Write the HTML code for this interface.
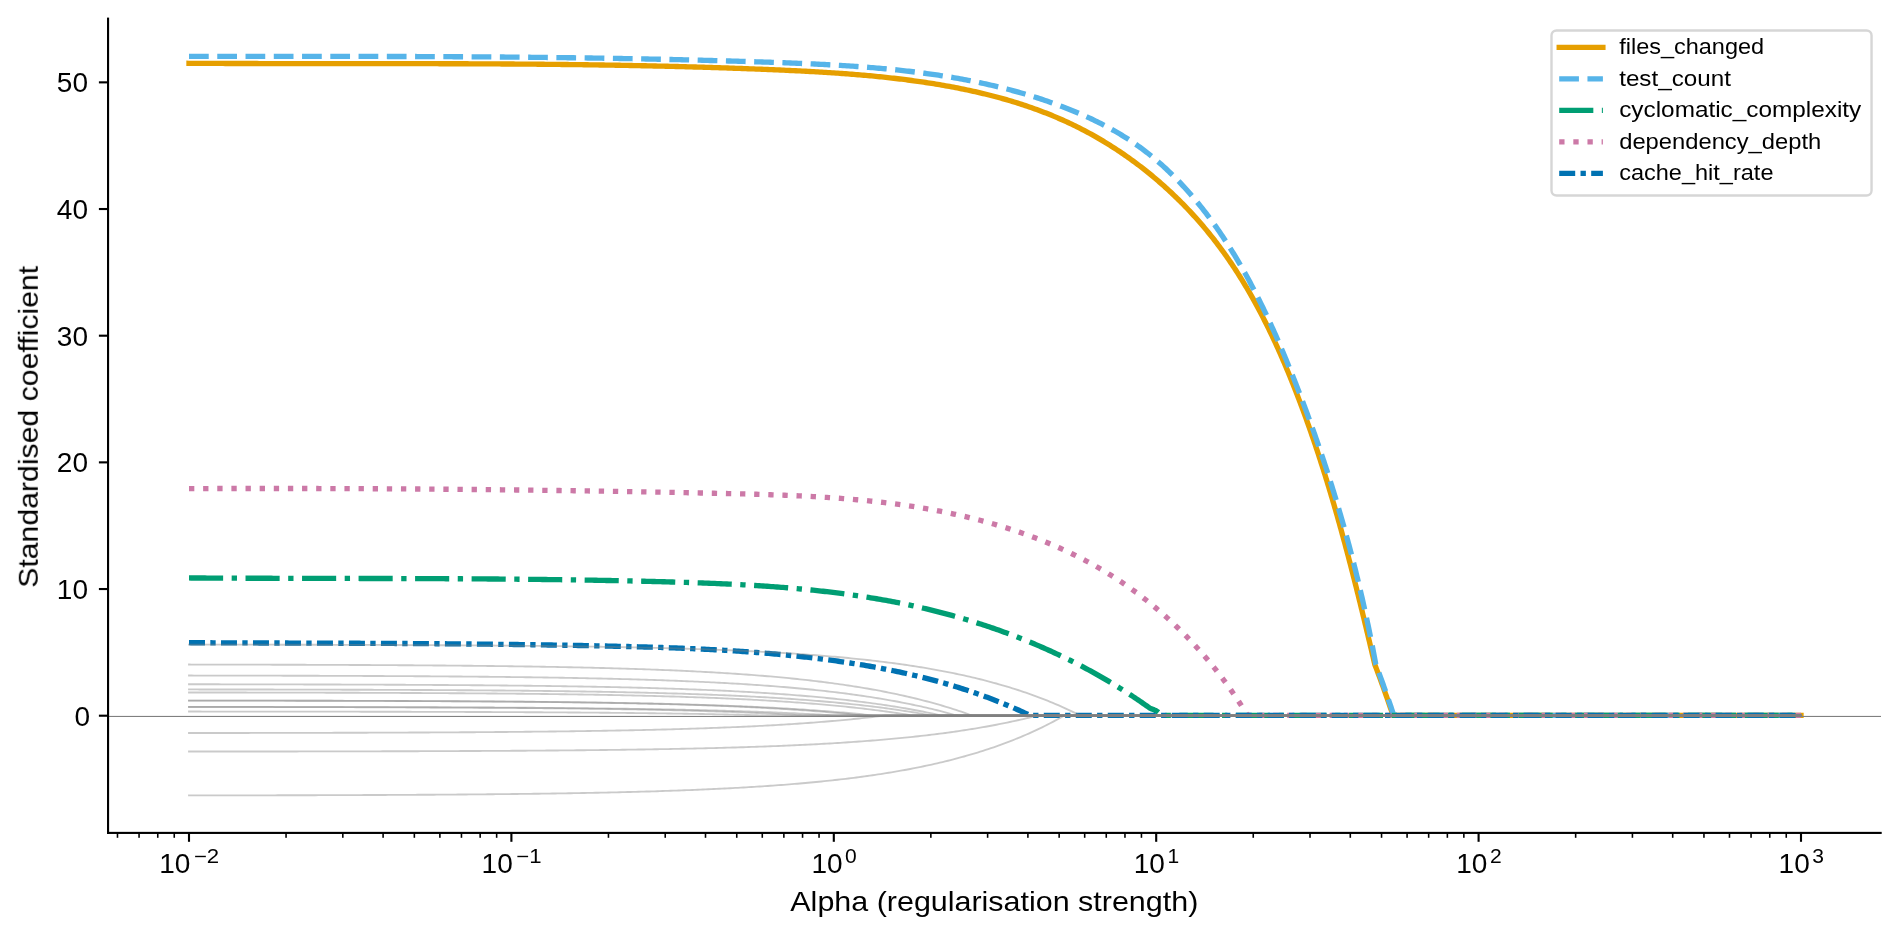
<!DOCTYPE html><html><head><meta charset="utf-8"><style>html,body{margin:0;padding:0;background:#fff;overflow:hidden;width:1900px;height:936px}svg{display:block}text{font-family:"Liberation Sans",sans-serif;fill:#000}</style></head><body>
<svg width="1900" height="936" viewBox="0 0 1900 936">
<rect width="1900" height="936" fill="#fff"/>
<path d="M189.00,63.30 L191.00,63.31 L193.01,63.32 L195.01,63.33 L197.02,63.34 L199.02,63.35 L201.03,63.36 L203.03,63.37 L205.03,63.38 L207.04,63.39 L209.04,63.40 L211.05,63.41 L213.05,63.42 L215.05,63.42 L217.06,63.43 L219.06,63.44 L221.07,63.45 L223.07,63.45 L225.07,63.46 L227.08,63.47 L229.08,63.47 L231.09,63.48 L233.09,63.49 L235.09,63.49 L237.10,63.50 L239.10,63.50 L241.11,63.51 L243.11,63.51 L245.12,63.52 L247.12,63.52 L249.12,63.53 L251.13,63.53 L253.13,63.54 L255.13,63.54 L257.14,63.54 L259.14,63.55 L261.15,63.55 L263.15,63.55 L265.15,63.56 L267.16,63.56 L269.16,63.56 L271.17,63.57 L273.17,63.57 L275.17,63.57 L277.18,63.57 L279.18,63.58 L281.19,63.58 L283.19,63.58 L285.19,63.58 L287.20,63.59 L289.20,63.59 L291.20,63.59 L293.21,63.59 L295.21,63.59 L297.22,63.59 L299.22,63.60 L301.22,63.60 L303.23,63.60 L305.23,63.60 L307.23,63.60 L309.24,63.60 L311.24,63.60 L313.25,63.60 L315.25,63.60 L317.25,63.61 L319.26,63.61 L321.26,63.61 L323.26,63.61 L325.27,63.61 L327.27,63.61 L329.28,63.61 L331.28,63.61 L333.28,63.61 L335.29,63.61 L337.29,63.61 L339.29,63.61 L341.30,63.61 L343.30,63.61 L345.30,63.61 L347.31,63.61 L349.31,63.62 L351.31,63.62 L353.32,63.62 L355.32,63.62 L357.33,63.62 L359.33,63.62 L361.33,63.62 L363.34,63.62 L365.34,63.62 L367.34,63.62 L369.35,63.62 L371.35,63.62 L373.35,63.62 L375.36,63.62 L377.36,63.63 L379.36,63.63 L381.37,63.63 L383.37,63.63 L385.37,63.63 L387.38,63.63 L389.38,63.63 L391.38,63.64 L393.39,63.64 L395.39,63.64 L397.39,63.64 L399.40,63.64 L401.40,63.64 L403.40,63.65 L405.41,63.65 L407.41,63.65 L409.41,63.65 L411.42,63.66 L413.42,63.66 L415.42,63.66 L417.43,63.66 L419.43,63.67 L421.43,63.67 L423.44,63.67 L425.44,63.68 L427.44,63.68 L429.45,63.69 L431.45,63.69 L433.45,63.69 L435.46,63.70 L437.46,63.70 L439.46,63.71 L441.47,63.71 L443.47,63.72 L445.47,63.72 L447.47,63.73 L449.48,63.73 L451.48,63.74 L453.48,63.75 L455.49,63.75 L457.49,63.76 L459.49,63.76 L461.50,63.77 L463.50,63.78 L465.50,63.79 L467.51,63.79 L469.51,63.80 L471.51,63.81 L473.51,63.82 L475.52,63.82 L477.52,63.83 L479.52,63.84 L481.53,63.85 L483.53,63.86 L485.53,63.87 L487.54,63.88 L489.54,63.89 L491.54,63.90 L493.54,63.91 L495.55,63.92 L497.55,63.93 L499.55,63.95 L501.56,63.96 L503.56,63.97 L505.56,63.98 L507.56,63.99 L509.57,64.01 L511.57,64.02 L513.57,64.03 L515.58,64.05 L517.58,64.06 L519.58,64.08 L521.58,64.09 L523.59,64.11 L525.59,64.12 L527.59,64.14 L529.60,64.15 L531.60,64.17 L533.60,64.19 L535.60,64.20 L537.61,64.22 L539.61,64.24 L541.61,64.26 L543.61,64.28 L545.62,64.30 L547.62,64.32 L549.62,64.34 L551.62,64.36 L553.63,64.38 L555.63,64.40 L557.63,64.42 L559.64,64.44 L561.64,64.46 L563.64,64.48 L565.64,64.51 L567.65,64.53 L569.65,64.55 L571.65,64.58 L573.65,64.60 L575.66,64.63 L577.66,64.65 L579.66,64.68 L581.66,64.70 L583.67,64.73 L585.67,64.76 L587.67,64.78 L589.67,64.81 L591.68,64.84 L593.68,64.87 L595.68,64.90 L597.68,64.93 L599.69,64.96 L601.69,64.99 L603.69,65.02 L605.69,65.05 L607.70,65.08 L609.70,65.12 L611.70,65.15 L613.70,65.18 L615.71,65.22 L617.71,65.25 L619.71,65.29 L621.71,65.32 L623.72,65.36 L625.72,65.40 L627.72,65.43 L629.72,65.47 L631.72,65.51 L633.73,65.55 L635.73,65.59 L637.73,65.63 L639.73,65.67 L641.74,65.71 L643.74,65.75 L645.74,65.79 L647.74,65.83 L649.75,65.87 L651.75,65.92 L653.75,65.96 L655.75,66.01 L657.75,66.05 L659.76,66.10 L661.76,66.14 L663.76,66.19 L665.76,66.24 L667.76,66.29 L669.77,66.33 L671.77,66.38 L673.77,66.43 L675.77,66.48 L677.78,66.54 L679.78,66.59 L681.78,66.64 L683.78,66.69 L685.78,66.75 L687.79,66.80 L689.79,66.85 L691.79,66.91 L693.79,66.97 L695.79,67.02 L697.80,67.08 L699.80,67.14 L701.80,67.20 L703.80,67.26 L705.80,67.32 L707.81,67.38 L709.81,67.44 L711.81,67.50 L713.81,67.56 L715.81,67.62 L717.82,67.69 L719.82,67.75 L721.82,67.82 L723.82,67.88 L725.82,67.95 L727.83,68.02 L729.83,68.09 L731.83,68.16 L733.83,68.22 L735.83,68.29 L737.83,68.37 L739.84,68.44 L741.84,68.51 L743.84,68.58 L745.84,68.66 L747.84,68.73 L749.85,68.81 L751.85,68.88 L753.85,68.96 L755.85,69.04 L757.85,69.11 L759.85,69.19 L761.86,69.27 L763.86,69.35 L765.86,69.43 L767.86,69.52 L769.86,69.60 L771.86,69.68 L773.87,69.77 L775.87,69.85 L777.87,69.94 L779.87,70.03 L781.87,70.11 L783.87,70.20 L785.88,70.29 L787.88,70.38 L789.88,70.48 L791.88,70.57 L793.88,70.67 L795.88,70.76 L797.88,70.86 L799.89,70.96 L801.89,71.06 L803.89,71.16 L805.89,71.27 L807.89,71.37 L809.89,71.48 L811.89,71.59 L813.89,71.70 L815.89,71.82 L817.89,71.93 L819.90,72.05 L821.90,72.17 L823.90,72.29 L825.90,72.41 L827.90,72.54 L829.90,72.67 L831.90,72.80 L833.90,72.93 L835.90,73.06 L837.90,73.20 L839.90,73.34 L841.90,73.48 L843.89,73.63 L845.89,73.78 L847.89,73.93 L849.89,74.08 L851.89,74.24 L853.89,74.40 L855.89,74.56 L857.89,74.72 L859.88,74.89 L861.88,75.06 L863.88,75.24 L865.88,75.42 L867.88,75.60 L869.87,75.78 L871.87,75.97 L873.87,76.16 L875.86,76.36 L877.86,76.55 L879.86,76.76 L881.85,76.96 L883.85,77.17 L885.85,77.38 L887.84,77.60 L889.84,77.82 L891.83,78.04 L893.83,78.27 L895.82,78.50 L897.82,78.74 L899.81,78.98 L901.81,79.22 L903.80,79.47 L905.80,79.73 L907.79,79.98 L909.78,80.25 L911.78,80.51 L913.77,80.78 L915.76,81.06 L917.76,81.34 L919.75,81.62 L921.74,81.91 L923.73,82.20 L925.72,82.50 L927.71,82.80 L929.71,83.11 L931.69,83.43 L933.68,83.74 L935.67,84.07 L937.66,84.40 L939.65,84.73 L941.63,85.07 L943.62,85.42 L945.60,85.77 L947.59,86.12 L949.57,86.48 L951.55,86.85 L953.53,87.22 L955.51,87.60 L957.49,87.98 L959.46,88.37 L961.44,88.77 L963.41,89.17 L965.38,89.58 L967.35,90.00 L969.32,90.42 L971.29,90.84 L973.25,91.28 L975.22,91.72 L977.18,92.16 L979.14,92.62 L981.10,93.08 L983.05,93.54 L985.01,94.02 L986.96,94.50 L988.91,94.98 L990.85,95.48 L992.80,95.98 L994.74,96.48 L996.68,97.00 L998.62,97.52 L1000.55,98.05 L1002.49,98.59 L1004.42,99.13 L1006.34,99.68 L1008.27,100.24 L1010.19,100.81 L1012.11,101.38 L1014.02,101.97 L1015.94,102.56 L1017.85,103.15 L1019.75,103.76 L1021.66,104.37 L1023.56,105.00 L1025.46,105.63 L1027.35,106.26 L1029.24,106.91 L1031.13,107.57 L1033.01,108.23 L1034.89,108.90 L1036.77,109.58 L1038.64,110.27 L1040.51,110.97 L1042.38,111.67 L1044.24,112.39 L1046.10,113.11 L1047.95,113.84 L1049.80,114.58 L1051.65,115.33 L1053.49,116.09 L1055.33,116.86 L1057.16,117.64 L1058.99,118.43 L1060.81,119.22 L1062.64,120.03 L1064.45,120.85 L1066.26,121.67 L1068.07,122.51 L1069.87,123.35 L1071.67,124.20 L1073.47,125.07 L1075.26,125.94 L1077.04,126.82 L1078.82,127.71 L1080.59,128.61 L1082.36,129.52 L1084.13,130.44 L1085.89,131.37 L1087.64,132.31 L1089.40,133.26 L1091.14,134.21 L1092.88,135.18 L1094.62,136.15 L1096.35,137.14 L1098.07,138.13 L1099.79,139.13 L1101.51,140.14 L1103.22,141.16 L1104.92,142.19 L1106.62,143.23 L1108.32,144.27 L1110.01,145.33 L1111.69,146.39 L1113.37,147.46 L1115.04,148.54 L1116.71,149.63 L1118.37,150.73 L1120.03,151.83 L1121.68,152.95 L1123.32,154.07 L1124.96,155.20 L1126.60,156.34 L1128.23,157.49 L1129.85,158.64 L1131.47,159.81 L1133.08,160.98 L1134.68,162.16 L1136.28,163.35 L1137.88,164.54 L1139.47,165.75 L1141.05,166.96 L1142.62,168.18 L1144.19,169.41 L1145.76,170.64 L1147.32,171.89 L1148.87,173.14 L1150.42,174.40 L1151.95,175.67 L1153.49,176.94 L1155.02,178.22 L1156.54,179.51 L1158.05,180.81 L1159.56,182.12 L1161.06,183.43 L1162.56,184.75 L1164.05,186.07 L1165.53,187.41 L1167.01,188.75 L1168.48,190.10 L1169.94,191.46 L1171.40,192.82 L1172.85,194.19 L1174.29,195.57 L1175.73,196.95 L1177.16,198.34 L1178.58,199.74 L1180.00,201.15 L1181.41,202.56 L1182.82,203.98 L1184.21,205.41 L1185.60,206.84 L1186.98,208.28 L1188.36,209.73 L1189.73,211.18 L1191.09,212.64 L1192.45,214.11 L1193.79,215.58 L1195.13,217.06 L1196.47,218.55 L1197.79,220.04 L1199.11,221.54 L1200.42,223.04 L1201.73,224.56 L1203.03,226.07 L1204.32,227.60 L1205.60,229.13 L1206.87,230.67 L1208.14,232.21 L1209.40,233.76 L1210.65,235.31 L1211.90,236.87 L1213.14,238.44 L1214.37,240.01 L1215.59,241.59 L1216.80,243.18 L1218.01,244.77 L1219.21,246.36 L1220.40,247.97 L1221.59,249.57 L1222.76,251.19 L1223.93,252.81 L1225.09,254.43 L1226.25,256.06 L1227.39,257.70 L1228.53,259.34 L1229.66,260.98 L1230.79,262.63 L1231.91,264.29 L1233.02,265.95 L1234.12,267.62 L1235.21,269.29 L1236.30,270.97 L1237.38,272.65 L1238.46,274.33 L1239.53,276.02 L1240.59,277.72 L1241.64,279.42 L1242.69,281.13 L1243.73,282.83 L1244.77,284.55 L1245.79,286.27 L1246.82,287.99 L1247.83,289.72 L1248.84,291.45 L1249.84,293.18 L1250.84,294.92 L1251.83,296.67 L1252.81,298.41 L1253.79,300.17 L1254.76,301.92 L1255.72,303.68 L1256.68,305.45 L1257.64,307.21 L1258.58,308.98 L1259.52,310.76 L1260.46,312.54 L1261.39,314.32 L1262.31,316.10 L1263.23,317.89 L1264.15,319.68 L1265.05,321.48 L1265.95,323.27 L1266.85,325.08 L1267.74,326.88 L1268.63,328.69 L1269.51,330.50 L1270.38,332.31 L1271.25,334.13 L1272.12,335.95 L1272.98,337.77 L1273.83,339.59 L1274.68,341.42 L1275.53,343.25 L1276.37,345.08 L1277.20,346.92 L1278.03,348.76 L1278.86,350.60 L1279.68,352.44 L1280.49,354.28 L1281.31,356.13 L1282.11,357.98 L1282.91,359.83 L1283.71,361.68 L1284.51,363.54 L1285.30,365.39 L1286.08,367.25 L1286.86,369.11 L1287.64,370.97 L1288.41,372.84 L1289.18,374.70 L1289.94,376.57 L1290.70,378.44 L1291.46,380.31 L1292.21,382.18 L1292.96,384.05 L1293.71,385.93 L1294.45,387.80 L1295.19,389.68 L1295.92,391.56 L1296.65,393.43 L1297.38,395.31 L1298.10,397.19 L1298.82,399.08 L1299.54,400.96 L1300.25,402.84 L1300.96,404.73 L1301.67,406.61 L1302.37,408.50 L1303.07,410.39 L1303.77,412.27 L1304.46,414.16 L1305.15,416.05 L1305.83,417.94 L1306.52,419.84 L1307.20,421.73 L1307.87,423.62 L1308.55,425.52 L1309.22,427.41 L1309.89,429.31 L1310.55,431.21 L1311.21,433.10 L1311.87,435.00 L1312.52,436.90 L1313.18,438.80 L1313.83,440.70 L1314.47,442.61 L1315.12,444.51 L1315.76,446.41 L1316.39,448.32 L1317.03,450.22 L1317.66,452.13 L1318.29,454.03 L1318.91,455.94 L1319.54,457.85 L1320.16,459.76 L1320.77,461.67 L1321.39,463.58 L1322.00,465.49 L1322.61,467.40 L1323.22,469.31 L1323.82,471.23 L1324.42,473.14 L1325.02,475.05 L1325.62,476.97 L1326.21,478.88 L1326.81,480.80 L1327.39,482.72 L1327.98,484.63 L1328.57,486.55 L1329.15,488.47 L1329.73,490.39 L1330.30,492.31 L1330.88,494.23 L1331.45,496.15 L1332.02,498.07 L1332.59,500.00 L1333.15,501.92 L1333.72,503.84 L1334.28,505.76 L1334.83,507.69 L1335.39,509.61 L1335.94,511.54 L1336.50,513.46 L1337.05,515.39 L1337.59,517.32 L1338.14,519.24 L1338.68,521.17 L1339.23,523.10 L1339.77,525.03 L1340.30,526.96 L1340.84,528.89 L1341.37,530.82 L1341.90,532.75 L1342.43,534.68 L1342.96,536.61 L1343.49,538.54 L1344.01,540.47 L1344.54,542.40 L1345.06,544.34 L1345.58,546.27 L1346.09,548.20 L1346.61,550.13 L1347.12,552.07 L1347.64,554.00 L1348.15,555.94 L1348.66,557.87 L1349.16,559.81 L1349.67,561.74 L1350.17,563.68 L1350.68,565.61 L1351.18,567.55 L1351.68,569.49 L1352.17,571.42 L1352.67,573.36 L1353.17,575.30 L1353.66,577.23 L1354.15,579.17 L1354.64,581.11 L1355.13,583.05 L1355.62,584.98 L1356.11,586.92 L1356.60,588.86 L1357.08,590.80 L1357.57,592.74 L1358.05,594.68 L1358.53,596.62 L1359.01,598.56 L1359.49,600.49 L1359.97,602.43 L1360.44,604.37 L1360.92,606.31 L1361.39,608.25 L1361.87,610.19 L1362.34,612.13 L1362.81,614.07 L1363.28,616.01 L1363.75,617.95 L1364.22,619.89 L1364.69,621.83 L1365.15,623.77 L1365.62,625.71 L1366.09,627.65 L1366.55,629.59 L1367.01,631.53 L1367.48,633.47 L1367.94,635.41 L1368.40,637.35 L1368.86,639.29 L1369.32,641.23 L1369.78,643.17 L1370.24,645.11 L1370.70,647.05 L1371.16,648.99 L1371.61,650.93 L1372.07,652.87 L1372.53,654.81 L1372.98,656.75 L1373.44,658.68 L1373.89,660.62 L1374.35,662.56 L1374.80,664.50 L1375.54,666.44 L1376.28,668.39 L1377.01,670.33 L1377.74,672.28 L1378.47,674.23 L1379.19,676.18 L1379.91,678.13 L1380.63,680.08 L1381.34,682.03 L1382.05,683.99 L1382.76,685.94 L1383.46,687.90 L1384.16,689.86 L1384.86,691.81 L1385.55,693.77 L1386.25,695.74 L1386.93,697.70 L1387.62,699.66 L1388.30,701.62 L1388.98,703.59 L1389.66,705.56 L1390.33,707.52 L1391.00,709.49 L1391.67,711.46 L1392.34,713.43 L1393.00,715.40 L1801.00,715.40" fill="none" stroke="#E69F00" stroke-width="5.333" stroke-linecap="square" stroke-linejoin="round"/>
<path d="M189.00,56.30 L191.01,56.30 L193.03,56.30 L195.04,56.30 L197.05,56.31 L199.06,56.31 L201.08,56.31 L203.09,56.31 L205.10,56.31 L207.11,56.31 L209.13,56.31 L211.14,56.31 L213.15,56.31 L215.16,56.31 L217.17,56.32 L219.18,56.32 L221.19,56.32 L223.20,56.32 L225.21,56.32 L227.22,56.32 L229.23,56.32 L231.24,56.32 L233.25,56.32 L235.26,56.32 L237.27,56.32 L239.28,56.32 L241.29,56.32 L243.30,56.32 L245.31,56.32 L247.32,56.32 L249.33,56.32 L251.34,56.32 L253.34,56.32 L255.35,56.33 L257.36,56.33 L259.37,56.33 L261.38,56.33 L263.38,56.33 L265.39,56.33 L267.40,56.33 L269.40,56.33 L271.41,56.33 L273.42,56.33 L275.43,56.33 L277.43,56.33 L279.44,56.33 L281.44,56.33 L283.45,56.33 L285.46,56.33 L287.46,56.33 L289.47,56.33 L291.47,56.34 L293.48,56.34 L295.49,56.34 L297.49,56.34 L299.50,56.34 L301.50,56.34 L303.51,56.34 L305.51,56.34 L307.52,56.34 L309.52,56.34 L311.52,56.35 L313.53,56.35 L315.53,56.35 L317.54,56.35 L319.54,56.35 L321.55,56.35 L323.55,56.35 L325.55,56.36 L327.56,56.36 L329.56,56.36 L331.56,56.36 L333.57,56.36 L335.57,56.37 L337.57,56.37 L339.58,56.37 L341.58,56.37 L343.58,56.37 L345.59,56.38 L347.59,56.38 L349.59,56.38 L351.59,56.39 L353.60,56.39 L355.60,56.39 L357.60,56.39 L359.60,56.40 L361.61,56.40 L363.61,56.40 L365.61,56.41 L367.61,56.41 L369.61,56.42 L371.62,56.42 L373.62,56.42 L375.62,56.43 L377.62,56.43 L379.62,56.44 L381.62,56.44 L383.62,56.45 L385.63,56.45 L387.63,56.46 L389.63,56.46 L391.63,56.47 L393.63,56.47 L395.63,56.48 L397.63,56.48 L399.63,56.49 L401.63,56.49 L403.64,56.50 L405.64,56.51 L407.64,56.51 L409.64,56.52 L411.64,56.53 L413.64,56.53 L415.64,56.54 L417.64,56.55 L419.64,56.55 L421.64,56.56 L423.64,56.57 L425.64,56.58 L427.64,56.59 L429.64,56.59 L431.64,56.60 L433.64,56.61 L435.64,56.62 L437.64,56.63 L439.64,56.64 L441.64,56.65 L443.64,56.66 L445.64,56.67 L447.64,56.68 L449.64,56.69 L451.64,56.70 L453.64,56.71 L455.64,56.72 L457.64,56.73 L459.64,56.74 L461.64,56.75 L463.64,56.76 L465.64,56.78 L467.64,56.79 L469.64,56.80 L471.64,56.81 L473.64,56.82 L475.64,56.84 L477.64,56.85 L479.64,56.86 L481.64,56.88 L483.64,56.89 L485.64,56.91 L487.64,56.92 L489.64,56.93 L491.64,56.95 L493.64,56.96 L495.64,56.98 L497.64,56.99 L499.64,57.01 L501.64,57.03 L503.64,57.04 L505.64,57.06 L507.64,57.08 L509.64,57.09 L511.64,57.11 L513.64,57.13 L515.64,57.15 L517.64,57.16 L519.64,57.18 L521.64,57.20 L523.64,57.22 L525.64,57.24 L527.64,57.26 L529.65,57.28 L531.65,57.30 L533.65,57.32 L535.65,57.34 L537.65,57.36 L539.65,57.38 L541.65,57.40 L543.65,57.42 L545.65,57.45 L547.65,57.47 L549.65,57.49 L551.65,57.51 L553.65,57.54 L555.65,57.56 L557.65,57.58 L559.65,57.61 L561.66,57.63 L563.66,57.66 L565.66,57.68 L567.66,57.71 L569.66,57.73 L571.66,57.76 L573.66,57.79 L575.66,57.81 L577.67,57.84 L579.67,57.87 L581.67,57.90 L583.67,57.92 L585.67,57.95 L587.67,57.98 L589.68,58.01 L591.68,58.04 L593.68,58.07 L595.68,58.10 L597.68,58.13 L599.69,58.16 L601.69,58.19 L603.69,58.22 L605.69,58.26 L607.70,58.29 L609.70,58.32 L611.70,58.35 L613.71,58.39 L615.71,58.42 L617.71,58.45 L619.71,58.49 L621.72,58.52 L623.72,58.56 L625.72,58.59 L627.73,58.63 L629.73,58.67 L631.74,58.70 L633.74,58.74 L635.74,58.78 L637.75,58.82 L639.75,58.85 L641.76,58.89 L643.76,58.93 L645.76,58.97 L647.77,59.01 L649.77,59.05 L651.78,59.09 L653.78,59.13 L655.79,59.17 L657.79,59.22 L659.80,59.26 L661.80,59.30 L663.81,59.34 L665.81,59.39 L667.82,59.43 L669.83,59.48 L671.83,59.52 L673.84,59.57 L675.84,59.61 L677.85,59.66 L679.86,59.70 L681.86,59.75 L683.87,59.80 L685.88,59.85 L687.88,59.89 L689.89,59.94 L691.90,59.99 L693.91,60.04 L695.91,60.09 L697.92,60.14 L699.93,60.19 L701.94,60.25 L703.95,60.30 L705.95,60.35 L707.96,60.40 L709.97,60.46 L711.98,60.51 L713.99,60.56 L716.00,60.62 L718.01,60.67 L720.02,60.73 L722.03,60.79 L724.04,60.84 L726.05,60.90 L728.06,60.96 L730.07,61.01 L732.08,61.07 L734.09,61.13 L736.10,61.19 L738.11,61.25 L740.12,61.31 L742.13,61.37 L744.14,61.43 L746.15,61.50 L748.17,61.56 L750.18,61.62 L752.19,61.68 L754.20,61.75 L756.21,61.81 L758.23,61.88 L760.24,61.94 L762.25,62.01 L764.27,62.08 L766.28,62.14 L768.29,62.21 L770.31,62.28 L772.32,62.35 L774.33,62.42 L776.35,62.49 L778.36,62.56 L780.38,62.63 L782.39,62.70 L784.41,62.78 L786.42,62.85 L788.43,62.93 L790.45,63.00 L792.46,63.08 L794.48,63.16 L796.49,63.24 L798.51,63.32 L800.52,63.41 L802.54,63.49 L804.55,63.58 L806.56,63.66 L808.58,63.75 L810.59,63.84 L812.61,63.93 L814.62,64.03 L816.63,64.12 L818.65,64.22 L820.66,64.32 L822.67,64.42 L824.69,64.52 L826.70,64.63 L828.71,64.74 L830.72,64.84 L832.73,64.96 L834.75,65.07 L836.76,65.18 L838.77,65.30 L840.78,65.42 L842.79,65.54 L844.80,65.67 L846.81,65.80 L848.81,65.93 L850.82,66.06 L852.83,66.20 L854.84,66.33 L856.85,66.47 L858.85,66.62 L860.86,66.76 L862.86,66.91 L864.87,67.07 L866.87,67.22 L868.88,67.38 L870.88,67.54 L872.88,67.70 L874.88,67.87 L876.89,68.04 L878.89,68.22 L880.89,68.39 L882.89,68.58 L884.89,68.76 L886.88,68.95 L888.88,69.14 L890.88,69.33 L892.87,69.53 L894.87,69.74 L896.86,69.94 L898.86,70.15 L900.85,70.37 L902.84,70.58 L904.83,70.81 L906.82,71.03 L908.81,71.26 L910.80,71.49 L912.79,71.73 L914.78,71.98 L916.76,72.22 L918.75,72.47 L920.73,72.73 L922.71,72.99 L924.70,73.25 L926.68,73.52 L928.66,73.79 L930.64,74.07 L932.62,74.35 L934.59,74.64 L936.57,74.93 L938.54,75.23 L940.52,75.53 L942.49,75.84 L944.46,76.15 L946.43,76.46 L948.40,76.79 L950.37,77.11 L952.34,77.44 L954.30,77.78 L956.27,78.12 L958.23,78.47 L960.19,78.82 L962.15,79.18 L964.11,79.55 L966.07,79.91 L968.03,80.29 L969.98,80.67 L971.94,81.06 L973.89,81.45 L975.84,81.85 L977.79,82.25 L979.74,82.66 L981.69,83.07 L983.63,83.49 L985.58,83.92 L987.52,84.35 L989.46,84.79 L991.40,85.24 L993.34,85.69 L995.28,86.15 L997.21,86.61 L999.15,87.08 L1001.08,87.56 L1003.01,88.04 L1004.94,88.53 L1006.87,89.03 L1008.80,89.53 L1010.72,90.04 L1012.64,90.56 L1014.56,91.09 L1016.48,91.62 L1018.40,92.15 L1020.32,92.70 L1022.23,93.25 L1024.14,93.81 L1026.06,94.37 L1027.96,94.94 L1029.87,95.52 L1031.78,96.11 L1033.68,96.70 L1035.58,97.31 L1037.48,97.91 L1039.38,98.53 L1041.28,99.15 L1043.17,99.78 L1045.06,100.42 L1046.96,101.07 L1048.84,101.72 L1050.73,102.39 L1052.62,103.06 L1054.50,103.73 L1056.38,104.42 L1058.26,105.11 L1060.14,105.81 L1062.01,106.52 L1063.88,107.24 L1065.75,107.96 L1067.62,108.70 L1069.49,109.44 L1071.35,110.19 L1073.21,110.95 L1075.07,111.72 L1076.92,112.50 L1078.77,113.28 L1080.61,114.08 L1082.46,114.88 L1084.29,115.69 L1086.13,116.52 L1087.96,117.35 L1089.78,118.19 L1091.60,119.04 L1093.42,119.90 L1095.23,120.78 L1097.03,121.66 L1098.83,122.55 L1100.63,123.45 L1102.42,124.36 L1104.20,125.28 L1105.97,126.22 L1107.74,127.16 L1109.51,128.12 L1111.26,129.08 L1113.01,130.06 L1114.76,131.05 L1116.49,132.04 L1118.22,133.05 L1119.94,134.07 L1121.66,135.11 L1123.36,136.15 L1125.06,137.21 L1126.75,138.28 L1128.43,139.36 L1130.10,140.45 L1131.77,141.55 L1133.42,142.67 L1135.07,143.80 L1136.70,144.94 L1138.33,146.09 L1139.95,147.26 L1141.56,148.43 L1143.16,149.62 L1144.75,150.83 L1146.33,152.04 L1147.90,153.27 L1149.46,154.50 L1151.02,155.75 L1152.56,157.01 L1154.10,158.28 L1155.63,159.56 L1157.14,160.85 L1158.65,162.16 L1160.16,163.47 L1161.65,164.80 L1163.13,166.13 L1164.60,167.47 L1166.07,168.83 L1167.53,170.19 L1168.98,171.57 L1170.42,172.95 L1171.85,174.34 L1173.27,175.75 L1174.69,177.16 L1176.09,178.58 L1177.49,180.01 L1178.88,181.45 L1180.26,182.90 L1181.63,184.35 L1183.00,185.82 L1184.35,187.29 L1185.70,188.77 L1187.04,190.26 L1188.37,191.76 L1189.70,193.26 L1191.01,194.77 L1192.32,196.29 L1193.62,197.82 L1194.91,199.35 L1196.20,200.90 L1197.47,202.44 L1198.74,204.00 L1200.00,205.56 L1201.25,207.13 L1202.50,208.70 L1203.74,210.29 L1204.97,211.87 L1206.19,213.47 L1207.40,215.07 L1208.61,216.67 L1209.81,218.28 L1211.00,219.90 L1212.19,221.52 L1213.36,223.14 L1214.53,224.78 L1215.69,226.41 L1216.85,228.05 L1218.00,229.70 L1219.14,231.35 L1220.27,233.01 L1221.40,234.67 L1222.52,236.34 L1223.63,238.01 L1224.74,239.68 L1225.84,241.36 L1226.93,243.04 L1228.01,244.73 L1229.09,246.42 L1230.16,248.12 L1231.23,249.82 L1232.29,251.53 L1233.34,253.24 L1234.39,254.95 L1235.43,256.67 L1236.46,258.39 L1237.49,260.11 L1238.51,261.84 L1239.53,263.58 L1240.53,265.31 L1241.54,267.05 L1242.54,268.80 L1243.53,270.55 L1244.51,272.30 L1245.49,274.05 L1246.47,275.81 L1247.43,277.57 L1248.40,279.34 L1249.35,281.11 L1250.31,282.88 L1251.25,284.65 L1252.19,286.43 L1253.13,288.21 L1254.06,290.00 L1254.98,291.78 L1255.90,293.58 L1256.82,295.37 L1257.73,297.16 L1258.63,298.96 L1259.53,300.76 L1260.43,302.57 L1261.32,304.38 L1262.21,306.18 L1263.09,308.00 L1263.96,309.81 L1264.83,311.63 L1265.70,313.45 L1266.56,315.27 L1267.42,317.09 L1268.27,318.92 L1269.12,320.75 L1269.97,322.58 L1270.81,324.41 L1271.65,326.24 L1272.48,328.08 L1273.31,329.92 L1274.13,331.76 L1274.95,333.60 L1275.77,335.44 L1276.58,337.29 L1277.39,339.13 L1278.20,340.98 L1279.00,342.83 L1279.80,344.68 L1280.59,346.53 L1281.38,348.39 L1282.17,350.24 L1282.95,352.10 L1283.73,353.96 L1284.51,355.82 L1285.29,357.68 L1286.06,359.54 L1286.83,361.40 L1287.59,363.26 L1288.35,365.13 L1289.11,366.99 L1289.87,368.86 L1290.62,370.72 L1291.37,372.59 L1292.12,374.46 L1292.87,376.32 L1293.61,378.19 L1294.35,380.06 L1295.09,381.93 L1295.82,383.80 L1296.55,385.67 L1297.28,387.54 L1298.01,389.42 L1298.74,391.29 L1299.46,393.16 L1300.18,395.03 L1300.89,396.91 L1301.61,398.78 L1302.32,400.66 L1303.03,402.53 L1303.74,404.41 L1304.44,406.28 L1305.14,408.16 L1305.84,410.04 L1306.54,411.92 L1307.23,413.79 L1307.92,415.67 L1308.61,417.55 L1309.30,419.43 L1309.98,421.32 L1310.66,423.20 L1311.34,425.08 L1312.02,426.96 L1312.69,428.84 L1313.36,430.73 L1314.03,432.61 L1314.70,434.50 L1315.36,436.38 L1316.02,438.27 L1316.68,440.16 L1317.33,442.05 L1317.99,443.93 L1318.64,445.82 L1319.28,447.71 L1319.93,449.60 L1320.57,451.49 L1321.21,453.39 L1321.85,455.28 L1322.48,457.17 L1323.12,459.06 L1323.75,460.96 L1324.37,462.85 L1325.00,464.75 L1325.62,466.65 L1326.24,468.54 L1326.86,470.44 L1327.47,472.34 L1328.09,474.24 L1328.70,476.14 L1329.30,478.04 L1329.91,479.94 L1330.51,481.84 L1331.11,483.75 L1331.70,485.65 L1332.30,487.55 L1332.89,489.46 L1333.48,491.36 L1334.07,493.27 L1334.65,495.18 L1335.23,497.09 L1335.81,499.00 L1336.39,500.90 L1336.96,502.81 L1337.53,504.73 L1338.10,506.64 L1338.67,508.55 L1339.23,510.46 L1339.79,512.38 L1340.35,514.29 L1340.91,516.21 L1341.46,518.13 L1342.01,520.04 L1342.56,521.96 L1343.11,523.88 L1343.65,525.80 L1344.19,527.72 L1344.73,529.64 L1345.27,531.57 L1345.80,533.49 L1346.33,535.41 L1346.86,537.34 L1347.39,539.26 L1347.91,541.19 L1348.43,543.12 L1348.95,545.05 L1349.46,546.98 L1349.98,548.91 L1350.49,550.84 L1351.00,552.77 L1351.50,554.70 L1352.00,556.64 L1352.50,558.57 L1353.00,560.51 L1353.50,562.44 L1353.99,564.38 L1354.48,566.32 L1354.97,568.26 L1355.46,570.20 L1355.94,572.14 L1356.42,574.08 L1356.90,576.02 L1357.37,577.97 L1357.84,579.91 L1358.31,581.86 L1358.78,583.81 L1359.25,585.75 L1359.71,587.70 L1360.17,589.65 L1360.63,591.60 L1361.08,593.55 L1361.54,595.51 L1361.99,597.46 L1362.43,599.42 L1362.88,601.37 L1363.32,603.33 L1363.76,605.28 L1364.20,607.24 L1364.63,609.20 L1365.07,611.16 L1365.50,613.13 L1365.92,615.09 L1366.35,617.05 L1366.77,619.02 L1367.19,620.98 L1367.61,622.95 L1368.03,624.92 L1368.44,626.89 L1368.85,628.86 L1369.26,630.83 L1369.66,632.80 L1370.06,634.77 L1370.46,636.75 L1370.86,638.72 L1371.26,640.70 L1371.65,642.68 L1372.04,644.65 L1372.43,646.63 L1372.81,648.61 L1373.19,650.60 L1373.57,652.58 L1373.95,654.56 L1374.33,656.55 L1374.70,658.53 L1375.07,660.52 L1375.44,662.51 L1375.80,664.50 L1376.56,666.52 L1377.32,668.54 L1378.07,670.57 L1378.82,672.59 L1379.57,674.62 L1380.31,676.65 L1381.05,678.68 L1381.79,680.71 L1382.52,682.74 L1383.25,684.77 L1383.97,686.81 L1384.70,688.84 L1385.42,690.88 L1386.13,692.91 L1386.85,694.95 L1387.55,696.99 L1388.26,699.03 L1388.96,701.08 L1389.66,703.12 L1390.36,705.16 L1391.06,707.21 L1391.75,709.26 L1392.43,711.30 L1393.12,713.35 L1393.80,715.40 L1801.00,715.40" fill="none" stroke="#56B4E9" stroke-width="5.333" stroke-dasharray="19.73 8.53" stroke-linejoin="round"/>
<path d="M189.00,577.95 L191.01,577.96 L193.02,577.97 L195.03,577.99 L197.04,578.00 L199.05,578.01 L201.06,578.02 L203.07,578.03 L205.08,578.04 L207.09,578.05 L209.10,578.06 L211.11,578.07 L213.12,578.08 L215.13,578.09 L217.14,578.10 L219.15,578.11 L221.16,578.12 L223.17,578.13 L225.18,578.14 L227.19,578.15 L229.20,578.16 L231.21,578.16 L233.22,578.17 L235.22,578.18 L237.23,578.19 L239.24,578.19 L241.25,578.20 L243.26,578.21 L245.27,578.22 L247.28,578.22 L249.28,578.23 L251.29,578.24 L253.30,578.24 L255.31,578.25 L257.32,578.25 L259.32,578.26 L261.33,578.27 L263.34,578.27 L265.35,578.28 L267.35,578.28 L269.36,578.29 L271.37,578.29 L273.38,578.30 L275.38,578.30 L277.39,578.31 L279.40,578.31 L281.41,578.32 L283.41,578.32 L285.42,578.32 L287.43,578.33 L289.43,578.33 L291.44,578.34 L293.45,578.34 L295.45,578.35 L297.46,578.35 L299.47,578.35 L301.47,578.36 L303.48,578.36 L305.49,578.36 L307.49,578.37 L309.50,578.37 L311.51,578.38 L313.51,578.38 L315.52,578.38 L317.52,578.39 L319.53,578.39 L321.54,578.39 L323.54,578.40 L325.55,578.40 L327.55,578.40 L329.56,578.41 L331.57,578.41 L333.57,578.41 L335.58,578.42 L337.58,578.42 L339.59,578.42 L341.59,578.43 L343.60,578.43 L345.60,578.43 L347.61,578.44 L349.62,578.44 L351.62,578.44 L353.63,578.45 L355.63,578.45 L357.64,578.45 L359.64,578.46 L361.65,578.46 L363.65,578.46 L365.66,578.47 L367.66,578.47 L369.67,578.48 L371.67,578.48 L373.68,578.48 L375.68,578.49 L377.69,578.49 L379.69,578.50 L381.70,578.50 L383.70,578.51 L385.71,578.51 L387.71,578.52 L389.72,578.52 L391.72,578.53 L393.73,578.53 L395.73,578.54 L397.74,578.54 L399.74,578.55 L401.75,578.55 L403.75,578.56 L405.76,578.56 L407.76,578.57 L409.77,578.58 L411.77,578.58 L413.78,578.59 L415.78,578.59 L417.79,578.60 L419.79,578.61 L421.80,578.61 L423.80,578.62 L425.81,578.63 L427.81,578.64 L429.82,578.64 L431.82,578.65 L433.83,578.66 L435.83,578.67 L437.84,578.68 L439.84,578.69 L441.85,578.69 L443.85,578.70 L445.86,578.71 L447.86,578.72 L449.86,578.73 L451.87,578.74 L453.87,578.75 L455.88,578.76 L457.88,578.77 L459.89,578.78 L461.89,578.79 L463.90,578.81 L465.90,578.82 L467.91,578.83 L469.91,578.84 L471.92,578.85 L473.92,578.87 L475.93,578.88 L477.93,578.89 L479.94,578.91 L481.94,578.92 L483.95,578.93 L485.95,578.95 L487.96,578.96 L489.97,578.98 L491.97,578.99 L493.98,579.01 L495.98,579.02 L497.99,579.04 L499.99,579.05 L502.00,579.07 L504.00,579.09 L506.01,579.11 L508.01,579.12 L510.02,579.14 L512.02,579.16 L514.03,579.18 L516.04,579.20 L518.04,579.22 L520.05,579.24 L522.05,579.26 L524.06,579.28 L526.07,579.30 L528.07,579.32 L530.08,579.34 L532.08,579.36 L534.09,579.38 L536.10,579.40 L538.10,579.43 L540.11,579.45 L542.11,579.47 L544.12,579.50 L546.13,579.52 L548.13,579.55 L550.14,579.57 L552.15,579.60 L554.15,579.62 L556.16,579.65 L558.17,579.68 L560.17,579.70 L562.18,579.73 L564.19,579.76 L566.19,579.79 L568.20,579.82 L570.21,579.85 L572.21,579.88 L574.22,579.91 L576.23,579.94 L578.24,579.97 L580.24,580.00 L582.25,580.03 L584.26,580.07 L586.27,580.10 L588.27,580.13 L590.28,580.17 L592.29,580.20 L594.30,580.24 L596.30,580.27 L598.31,580.31 L600.32,580.34 L602.33,580.38 L604.34,580.42 L606.34,580.46 L608.35,580.50 L610.36,580.53 L612.37,580.57 L614.38,580.61 L616.39,580.65 L618.40,580.70 L620.40,580.74 L622.41,580.78 L624.42,580.82 L626.43,580.86 L628.44,580.91 L630.45,580.95 L632.46,581.00 L634.47,581.04 L636.48,581.09 L638.49,581.14 L640.50,581.18 L642.51,581.23 L644.52,581.28 L646.53,581.33 L648.54,581.38 L650.55,581.43 L652.56,581.48 L654.57,581.53 L656.58,581.58 L658.59,581.63 L660.60,581.69 L662.61,581.74 L664.62,581.79 L666.63,581.85 L668.64,581.91 L670.65,581.96 L672.67,582.02 L674.68,582.08 L676.69,582.14 L678.70,582.19 L680.71,582.26 L682.72,582.32 L684.73,582.38 L686.74,582.44 L688.76,582.51 L690.77,582.57 L692.78,582.64 L694.79,582.71 L696.80,582.78 L698.81,582.85 L700.82,582.92 L702.84,582.99 L704.85,583.07 L706.86,583.14 L708.87,583.22 L710.88,583.30 L712.89,583.38 L714.90,583.46 L716.91,583.55 L718.92,583.63 L720.93,583.72 L722.94,583.81 L724.95,583.90 L726.96,583.99 L728.97,584.08 L730.98,584.18 L732.99,584.28 L735.00,584.38 L737.01,584.48 L739.01,584.58 L741.02,584.69 L743.03,584.80 L745.04,584.91 L747.05,585.02 L749.05,585.13 L751.06,585.25 L753.07,585.37 L755.07,585.49 L757.08,585.61 L759.09,585.74 L761.09,585.87 L763.10,586.00 L765.10,586.13 L767.11,586.27 L769.11,586.41 L771.11,586.55 L773.12,586.69 L775.12,586.84 L777.12,586.99 L779.13,587.14 L781.13,587.29 L783.13,587.45 L785.13,587.61 L787.13,587.77 L789.13,587.94 L791.13,588.11 L793.13,588.28 L795.13,588.46 L797.13,588.64 L799.12,588.82 L801.12,589.00 L803.12,589.19 L805.12,589.38 L807.11,589.58 L809.11,589.77 L811.10,589.98 L813.10,590.18 L815.09,590.39 L817.08,590.60 L819.08,590.81 L821.07,591.03 L823.06,591.26 L825.05,591.48 L827.04,591.71 L829.03,591.94 L831.02,592.18 L833.01,592.42 L834.99,592.67 L836.98,592.92 L838.97,593.17 L840.95,593.42 L842.94,593.68 L844.92,593.95 L846.91,594.22 L848.89,594.49 L850.87,594.77 L852.85,595.05 L854.84,595.33 L856.82,595.62 L858.80,595.91 L860.77,596.21 L862.75,596.51 L864.73,596.82 L866.71,597.13 L868.68,597.45 L870.66,597.77 L872.63,598.09 L874.60,598.42 L876.58,598.75 L878.55,599.09 L880.52,599.44 L882.49,599.78 L884.46,600.14 L886.43,600.49 L888.39,600.85 L890.36,601.22 L892.33,601.59 L894.29,601.97 L896.25,602.35 L898.22,602.74 L900.18,603.13 L902.14,603.53 L904.10,603.93 L906.06,604.34 L908.02,604.75 L909.97,605.17 L911.93,605.59 L913.89,606.02 L915.84,606.45 L917.79,606.89 L919.74,607.33 L921.69,607.78 L923.64,608.24 L925.59,608.69 L927.54,609.16 L929.49,609.63 L931.43,610.10 L933.37,610.58 L935.32,611.07 L937.26,611.56 L939.20,612.05 L941.13,612.56 L943.07,613.06 L945.01,613.57 L946.94,614.09 L948.87,614.61 L950.81,615.14 L952.74,615.68 L954.66,616.21 L956.59,616.76 L958.52,617.31 L960.44,617.86 L962.36,618.42 L964.28,618.99 L966.20,619.56 L968.12,620.14 L970.03,620.72 L971.95,621.30 L973.86,621.90 L975.77,622.50 L977.68,623.10 L979.59,623.71 L981.49,624.32 L983.40,624.94 L985.30,625.57 L987.20,626.20 L989.10,626.84 L990.99,627.48 L992.89,628.13 L994.78,628.78 L996.67,629.44 L998.56,630.11 L1000.45,630.78 L1002.33,631.45 L1004.21,632.14 L1006.09,632.82 L1007.97,633.52 L1009.85,634.21 L1011.72,634.92 L1013.60,635.63 L1015.47,636.34 L1017.33,637.07 L1019.20,637.79 L1021.06,638.53 L1022.93,639.26 L1024.78,640.01 L1026.64,640.76 L1028.50,641.51 L1030.35,642.28 L1032.20,643.04 L1034.05,643.82 L1035.89,644.59 L1037.73,645.38 L1039.57,646.17 L1041.41,646.97 L1043.25,647.77 L1045.08,648.58 L1046.91,649.39 L1048.74,650.21 L1050.57,651.03 L1052.39,651.87 L1054.21,652.70 L1056.03,653.55 L1057.84,654.39 L1059.66,655.25 L1061.47,656.11 L1063.27,656.98 L1065.08,657.85 L1066.88,658.73 L1068.68,659.61 L1070.48,660.50 L1072.27,661.40 L1074.06,662.30 L1075.85,663.21 L1077.64,664.13 L1079.42,665.05 L1081.20,665.97 L1082.98,666.91 L1084.75,667.85 L1086.52,668.79 L1088.29,669.74 L1090.05,670.70 L1091.82,671.66 L1093.58,672.63 L1095.33,673.61 L1097.08,674.59 L1098.83,675.58 L1100.58,676.57 L1102.32,677.57 L1104.07,678.57 L1105.80,679.59 L1107.54,680.61 L1109.27,681.63 L1111.00,682.66 L1112.72,683.70 L1114.44,684.74 L1116.16,685.79 L1117.87,686.85 L1119.59,687.91 L1121.29,688.98 L1123.00,690.05 L1124.70,691.13 L1126.40,692.22 L1128.09,693.31 L1129.78,694.41 L1131.47,695.52 L1133.16,696.63 L1134.84,697.75 L1136.51,698.87 L1138.19,700.00 L1139.86,701.14 L1141.52,702.29 L1143.19,703.44 L1144.84,704.59 L1146.50,705.76 L1148.15,706.92 L1149.80,708.10 L1151.21,708.68 L1152.63,709.25 L1154.05,709.83 L1155.43,710.46 L1156.75,711.16 L1158.00,711.98 L1159.14,712.94 L1160.14,714.07 L1161.00,715.40 L1801.00,715.40" fill="none" stroke="#009E73" stroke-width="5.333" stroke-dasharray="34.13 8.53 5.33 8.53" stroke-linejoin="round"/>
<path d="M189.00,488.60 L191.01,488.59 L193.03,488.59 L195.04,488.58 L197.05,488.57 L199.06,488.57 L201.07,488.56 L203.09,488.56 L205.10,488.55 L207.11,488.55 L209.12,488.54 L211.13,488.54 L213.14,488.53 L215.15,488.53 L217.17,488.52 L219.18,488.52 L221.19,488.51 L223.20,488.51 L225.21,488.51 L227.22,488.50 L229.23,488.50 L231.24,488.50 L233.25,488.49 L235.26,488.49 L237.26,488.49 L239.27,488.49 L241.28,488.48 L243.29,488.48 L245.30,488.48 L247.31,488.48 L249.32,488.48 L251.33,488.48 L253.33,488.47 L255.34,488.47 L257.35,488.47 L259.36,488.47 L261.36,488.47 L263.37,488.47 L265.38,488.47 L267.39,488.47 L269.39,488.47 L271.40,488.47 L273.41,488.47 L275.41,488.48 L277.42,488.48 L279.43,488.48 L281.43,488.48 L283.44,488.48 L285.44,488.48 L287.45,488.49 L289.46,488.49 L291.46,488.49 L293.47,488.49 L295.47,488.50 L297.48,488.50 L299.48,488.50 L301.49,488.51 L303.49,488.51 L305.50,488.51 L307.50,488.52 L309.51,488.52 L311.51,488.53 L313.52,488.53 L315.52,488.53 L317.53,488.54 L319.53,488.55 L321.54,488.55 L323.54,488.56 L325.54,488.56 L327.55,488.57 L329.55,488.57 L331.56,488.58 L333.56,488.59 L335.56,488.59 L337.57,488.60 L339.57,488.61 L341.57,488.61 L343.58,488.62 L345.58,488.63 L347.58,488.64 L349.59,488.64 L351.59,488.65 L353.59,488.66 L355.59,488.67 L357.60,488.68 L359.60,488.69 L361.60,488.70 L363.60,488.70 L365.61,488.71 L367.61,488.72 L369.61,488.73 L371.61,488.74 L373.62,488.75 L375.62,488.76 L377.62,488.77 L379.62,488.79 L381.63,488.80 L383.63,488.81 L385.63,488.82 L387.63,488.83 L389.63,488.84 L391.63,488.85 L393.64,488.87 L395.64,488.88 L397.64,488.89 L399.64,488.90 L401.64,488.92 L403.64,488.93 L405.65,488.94 L407.65,488.96 L409.65,488.97 L411.65,488.98 L413.65,489.00 L415.65,489.01 L417.65,489.03 L419.66,489.04 L421.66,489.06 L423.66,489.07 L425.66,489.09 L427.66,489.10 L429.66,489.12 L431.66,489.13 L433.67,489.15 L435.67,489.16 L437.67,489.18 L439.67,489.20 L441.67,489.21 L443.67,489.23 L445.67,489.25 L447.67,489.26 L449.67,489.28 L451.68,489.30 L453.68,489.32 L455.68,489.33 L457.68,489.35 L459.68,489.37 L461.68,489.39 L463.68,489.41 L465.68,489.43 L467.68,489.45 L469.69,489.47 L471.69,489.48 L473.69,489.50 L475.69,489.52 L477.69,489.54 L479.69,489.56 L481.69,489.58 L483.69,489.61 L485.70,489.63 L487.70,489.65 L489.70,489.67 L491.70,489.69 L493.70,489.71 L495.70,489.73 L497.70,489.75 L499.71,489.78 L501.71,489.80 L503.71,489.82 L505.71,489.84 L507.71,489.87 L509.71,489.89 L511.71,489.91 L513.72,489.94 L515.72,489.96 L517.72,489.98 L519.72,490.01 L521.72,490.03 L523.73,490.06 L525.73,490.08 L527.73,490.11 L529.73,490.13 L531.73,490.16 L533.74,490.18 L535.74,490.21 L537.74,490.23 L539.74,490.26 L541.74,490.29 L543.75,490.31 L545.75,490.34 L547.75,490.37 L549.75,490.39 L551.76,490.42 L553.76,490.45 L555.76,490.47 L557.77,490.50 L559.77,490.53 L561.77,490.56 L563.78,490.59 L565.78,490.61 L567.78,490.64 L569.79,490.67 L571.79,490.70 L573.79,490.73 L575.80,490.76 L577.80,490.79 L579.80,490.82 L581.81,490.85 L583.81,490.88 L585.81,490.91 L587.82,490.94 L589.82,490.97 L591.83,491.00 L593.83,491.03 L595.84,491.06 L597.84,491.10 L599.85,491.13 L601.85,491.16 L603.85,491.19 L605.86,491.22 L607.86,491.26 L609.87,491.29 L611.88,491.32 L613.88,491.35 L615.89,491.39 L617.89,491.42 L619.90,491.46 L621.90,491.49 L623.91,491.52 L625.92,491.56 L627.92,491.59 L629.93,491.63 L631.93,491.66 L633.94,491.70 L635.95,491.73 L637.95,491.77 L639.96,491.80 L641.97,491.84 L643.98,491.87 L645.98,491.91 L647.99,491.95 L650.00,491.98 L652.00,492.02 L654.01,492.06 L656.02,492.09 L658.03,492.13 L660.04,492.17 L662.05,492.21 L664.05,492.24 L666.06,492.28 L668.07,492.32 L670.08,492.36 L672.09,492.40 L674.10,492.44 L676.11,492.48 L678.12,492.51 L680.13,492.55 L682.14,492.59 L684.15,492.63 L686.16,492.67 L688.17,492.71 L690.18,492.75 L692.19,492.80 L694.20,492.84 L696.21,492.88 L698.22,492.92 L700.23,492.96 L702.24,493.00 L704.26,493.04 L706.27,493.08 L708.28,493.13 L710.29,493.17 L712.30,493.21 L714.32,493.25 L716.33,493.30 L718.34,493.34 L720.35,493.38 L722.37,493.43 L724.38,493.47 L726.39,493.52 L728.41,493.56 L730.42,493.61 L732.43,493.65 L734.45,493.70 L736.46,493.75 L738.48,493.80 L740.49,493.85 L742.50,493.90 L744.52,493.95 L746.53,494.00 L748.54,494.05 L750.56,494.11 L752.57,494.16 L754.59,494.22 L756.60,494.28 L758.61,494.34 L760.63,494.40 L762.64,494.46 L764.65,494.52 L766.67,494.58 L768.68,494.65 L770.69,494.72 L772.71,494.79 L774.72,494.86 L776.73,494.93 L778.74,495.00 L780.76,495.08 L782.77,495.15 L784.78,495.23 L786.79,495.31 L788.80,495.40 L790.81,495.48 L792.82,495.57 L794.83,495.66 L796.84,495.75 L798.85,495.85 L800.86,495.94 L802.87,496.04 L804.88,496.14 L806.89,496.24 L808.90,496.35 L810.91,496.46 L812.92,496.57 L814.92,496.68 L816.93,496.80 L818.94,496.92 L820.94,497.04 L822.95,497.16 L824.95,497.29 L826.96,497.42 L828.96,497.55 L830.96,497.69 L832.97,497.83 L834.97,497.97 L836.97,498.11 L838.97,498.26 L840.98,498.41 L842.98,498.57 L844.98,498.73 L846.98,498.89 L848.97,499.05 L850.97,499.22 L852.97,499.40 L854.97,499.57 L856.96,499.75 L858.96,499.93 L860.96,500.12 L862.95,500.31 L864.94,500.51 L866.94,500.70 L868.93,500.91 L870.92,501.11 L872.91,501.32 L874.90,501.54 L876.89,501.76 L878.88,501.98 L880.87,502.21 L882.86,502.44 L884.84,502.67 L886.83,502.91 L888.82,503.16 L890.80,503.41 L892.78,503.66 L894.77,503.92 L896.75,504.18 L898.73,504.45 L900.71,504.72 L902.69,505.00 L904.67,505.28 L906.64,505.56 L908.62,505.86 L910.59,506.15 L912.57,506.45 L914.54,506.76 L916.52,507.07 L918.49,507.39 L920.46,507.71 L922.43,508.04 L924.40,508.37 L926.36,508.71 L928.33,509.05 L930.30,509.40 L932.26,509.75 L934.22,510.11 L936.19,510.48 L938.15,510.85 L940.11,511.22 L942.07,511.61 L944.03,511.99 L945.98,512.39 L947.94,512.79 L949.89,513.19 L951.85,513.61 L953.80,514.02 L955.75,514.45 L957.70,514.88 L959.65,515.31 L961.59,515.76 L963.54,516.21 L965.49,516.66 L967.43,517.12 L969.37,517.59 L971.31,518.06 L973.25,518.55 L975.19,519.03 L977.13,519.53 L979.06,520.03 L981.00,520.54 L982.93,521.05 L984.86,521.57 L986.79,522.10 L988.72,522.63 L990.65,523.17 L992.57,523.72 L994.50,524.28 L996.42,524.84 L998.34,525.41 L1000.26,525.99 L1002.17,526.57 L1004.08,527.16 L1006.00,527.76 L1007.91,528.36 L1009.81,528.97 L1011.72,529.59 L1013.62,530.22 L1015.52,530.85 L1017.42,531.49 L1019.31,532.14 L1021.21,532.79 L1023.10,533.46 L1024.98,534.13 L1026.87,534.80 L1028.75,535.49 L1030.63,536.18 L1032.51,536.88 L1034.38,537.59 L1036.25,538.30 L1038.12,539.02 L1039.98,539.75 L1041.84,540.49 L1043.70,541.24 L1045.55,541.99 L1047.41,542.75 L1049.25,543.52 L1051.10,544.30 L1052.94,545.08 L1054.78,545.87 L1056.61,546.67 L1058.44,547.48 L1060.27,548.29 L1062.09,549.12 L1063.91,549.95 L1065.73,550.79 L1067.54,551.64 L1069.35,552.49 L1071.15,553.36 L1072.95,554.23 L1074.74,555.11 L1076.53,556.00 L1078.32,556.90 L1080.10,557.80 L1081.88,558.71 L1083.66,559.64 L1085.43,560.57 L1087.19,561.50 L1088.95,562.45 L1090.71,563.41 L1092.46,564.37 L1094.20,565.34 L1095.95,566.32 L1097.68,567.31 L1099.41,568.31 L1101.14,569.32 L1102.86,570.33 L1104.58,571.36 L1106.29,572.39 L1108.00,573.43 L1109.70,574.48 L1111.39,575.54 L1113.09,576.61 L1114.77,577.69 L1116.45,578.77 L1118.13,579.86 L1119.79,580.97 L1121.46,582.08 L1123.12,583.20 L1124.77,584.33 L1126.42,585.46 L1128.06,586.61 L1129.69,587.76 L1131.32,588.93 L1132.95,590.10 L1134.57,591.28 L1136.18,592.46 L1137.79,593.66 L1139.39,594.86 L1140.98,596.07 L1142.57,597.29 L1144.16,598.52 L1145.74,599.76 L1147.31,601.00 L1148.88,602.25 L1150.44,603.51 L1151.99,604.78 L1153.54,606.05 L1155.08,607.34 L1156.62,608.63 L1158.15,609.92 L1159.67,611.23 L1161.19,612.54 L1162.70,613.86 L1164.21,615.19 L1165.71,616.53 L1167.20,617.87 L1168.69,619.22 L1170.17,620.58 L1171.64,621.94 L1173.11,623.31 L1174.57,624.69 L1176.03,626.08 L1177.48,627.47 L1178.92,628.87 L1180.36,630.28 L1181.78,631.69 L1183.21,633.11 L1184.62,634.54 L1186.03,635.97 L1187.44,637.41 L1188.83,638.86 L1190.22,640.32 L1191.61,641.78 L1192.98,643.25 L1194.35,644.72 L1195.71,646.20 L1197.07,647.69 L1198.42,649.18 L1199.76,650.68 L1201.10,652.19 L1202.42,653.70 L1203.74,655.22 L1205.06,656.75 L1206.37,658.28 L1207.67,659.81 L1208.96,661.36 L1210.25,662.91 L1211.52,664.46 L1212.80,666.02 L1214.06,667.59 L1215.32,669.16 L1216.57,670.74 L1217.81,672.33 L1219.05,673.92 L1220.28,675.51 L1221.50,677.11 L1222.71,678.72 L1223.92,680.33 L1225.12,681.95 L1226.31,683.58 L1227.49,685.21 L1228.67,686.84 L1229.84,688.48 L1231.00,690.12 L1232.15,691.77 L1233.30,693.43 L1234.44,695.09 L1235.57,696.76 L1236.69,698.43 L1237.81,700.10 L1238.92,701.78 L1240.02,703.47 L1241.11,705.16 L1242.19,706.85 L1243.27,708.55 L1244.34,710.26 L1245.40,711.97 L1246.45,713.68 L1247.50,715.40 L1801.00,715.40" fill="none" stroke="#CC79A7" stroke-width="5.333" stroke-dasharray="5.33 8.8" stroke-linejoin="round"/>
<path d="M189.00,642.70 L191.01,642.71 L193.02,642.72 L195.03,642.73 L197.04,642.73 L199.04,642.74 L201.05,642.75 L203.06,642.76 L205.07,642.77 L207.08,642.78 L209.09,642.78 L211.10,642.79 L213.10,642.80 L215.11,642.81 L217.12,642.81 L219.13,642.82 L221.13,642.83 L223.14,642.84 L225.15,642.84 L227.16,642.85 L229.16,642.86 L231.17,642.87 L233.18,642.87 L235.18,642.88 L237.19,642.89 L239.20,642.89 L241.20,642.90 L243.21,642.91 L245.22,642.91 L247.22,642.92 L249.23,642.93 L251.23,642.93 L253.24,642.94 L255.25,642.95 L257.25,642.95 L259.26,642.96 L261.26,642.96 L263.27,642.97 L265.27,642.98 L267.28,642.98 L269.29,642.99 L271.29,643.00 L273.30,643.00 L275.30,643.01 L277.31,643.01 L279.31,643.02 L281.32,643.03 L283.32,643.03 L285.33,643.04 L287.33,643.04 L289.33,643.05 L291.34,643.06 L293.34,643.06 L295.35,643.07 L297.35,643.08 L299.36,643.08 L301.36,643.09 L303.37,643.09 L305.37,643.10 L307.37,643.11 L309.38,643.11 L311.38,643.12 L313.39,643.13 L315.39,643.13 L317.39,643.14 L319.40,643.15 L321.40,643.15 L323.40,643.16 L325.41,643.17 L327.41,643.17 L329.42,643.18 L331.42,643.19 L333.42,643.19 L335.43,643.20 L337.43,643.21 L339.43,643.22 L341.44,643.22 L343.44,643.23 L345.44,643.24 L347.45,643.25 L349.45,643.25 L351.45,643.26 L353.46,643.27 L355.46,643.28 L357.46,643.29 L359.47,643.29 L361.47,643.30 L363.47,643.31 L365.47,643.32 L367.48,643.33 L369.48,643.34 L371.48,643.35 L373.49,643.36 L375.49,643.36 L377.49,643.37 L379.50,643.38 L381.50,643.39 L383.50,643.40 L385.50,643.41 L387.51,643.42 L389.51,643.43 L391.51,643.44 L393.52,643.45 L395.52,643.47 L397.52,643.48 L399.53,643.49 L401.53,643.50 L403.53,643.51 L405.53,643.52 L407.54,643.53 L409.54,643.54 L411.54,643.56 L413.55,643.57 L415.55,643.58 L417.55,643.59 L419.56,643.61 L421.56,643.62 L423.56,643.63 L425.56,643.65 L427.57,643.66 L429.57,643.67 L431.57,643.69 L433.58,643.70 L435.58,643.72 L437.58,643.73 L439.59,643.75 L441.59,643.76 L443.59,643.78 L445.60,643.79 L447.60,643.81 L449.60,643.82 L451.61,643.84 L453.61,643.86 L455.61,643.87 L457.62,643.89 L459.62,643.91 L461.62,643.93 L463.63,643.94 L465.63,643.96 L467.64,643.98 L469.64,644.00 L471.64,644.02 L473.65,644.04 L475.65,644.06 L477.66,644.07 L479.66,644.09 L481.66,644.11 L483.67,644.14 L485.67,644.16 L487.68,644.18 L489.68,644.20 L491.68,644.22 L493.69,644.24 L495.69,644.26 L497.70,644.29 L499.70,644.31 L501.71,644.33 L503.71,644.36 L505.72,644.38 L507.72,644.40 L509.73,644.43 L511.73,644.45 L513.74,644.48 L515.74,644.50 L517.75,644.53 L519.75,644.55 L521.76,644.58 L523.76,644.61 L525.77,644.64 L527.78,644.66 L529.78,644.69 L531.79,644.72 L533.79,644.75 L535.80,644.78 L537.80,644.80 L539.81,644.83 L541.82,644.86 L543.82,644.89 L545.83,644.92 L547.84,644.96 L549.84,644.99 L551.85,645.02 L553.86,645.05 L555.86,645.08 L557.87,645.12 L559.88,645.15 L561.88,645.18 L563.89,645.22 L565.90,645.25 L567.91,645.29 L569.91,645.32 L571.92,645.36 L573.93,645.39 L575.94,645.43 L577.95,645.47 L579.95,645.50 L581.96,645.54 L583.97,645.58 L585.98,645.62 L587.99,645.66 L590.00,645.70 L592.01,645.74 L594.02,645.78 L596.02,645.82 L598.03,645.86 L600.04,645.90 L602.05,645.94 L604.06,645.99 L606.07,646.03 L608.08,646.07 L610.09,646.12 L612.10,646.16 L614.11,646.21 L616.12,646.25 L618.13,646.30 L620.14,646.34 L622.15,646.39 L624.16,646.44 L626.18,646.49 L628.19,646.54 L630.20,646.59 L632.21,646.64 L634.22,646.69 L636.23,646.75 L638.24,646.80 L640.25,646.85 L642.26,646.91 L644.27,646.97 L646.29,647.02 L648.30,647.08 L650.31,647.14 L652.32,647.20 L654.33,647.26 L656.34,647.33 L658.35,647.39 L660.36,647.46 L662.37,647.52 L664.38,647.59 L666.39,647.66 L668.40,647.73 L670.41,647.80 L672.43,647.87 L674.44,647.95 L676.45,648.02 L678.46,648.10 L680.47,648.18 L682.48,648.26 L684.49,648.34 L686.50,648.42 L688.50,648.51 L690.51,648.59 L692.52,648.68 L694.53,648.77 L696.54,648.86 L698.55,648.95 L700.56,649.05 L702.57,649.14 L704.57,649.24 L706.58,649.34 L708.59,649.44 L710.60,649.54 L712.61,649.65 L714.61,649.76 L716.62,649.86 L718.63,649.98 L720.63,650.09 L722.64,650.20 L724.64,650.32 L726.65,650.44 L728.65,650.56 L730.66,650.68 L732.66,650.81 L734.67,650.94 L736.67,651.07 L738.68,651.20 L740.68,651.33 L742.68,651.47 L744.69,651.61 L746.69,651.75 L748.69,651.89 L750.69,652.04 L752.69,652.19 L754.70,652.34 L756.70,652.49 L758.70,652.65 L760.70,652.80 L762.70,652.97 L764.70,653.13 L766.69,653.30 L768.69,653.46 L770.69,653.64 L772.69,653.81 L774.69,653.99 L776.68,654.17 L778.68,654.35 L780.67,654.53 L782.67,654.72 L784.66,654.91 L786.66,655.10 L788.65,655.30 L790.65,655.50 L792.64,655.70 L794.63,655.91 L796.62,656.12 L798.62,656.33 L800.61,656.54 L802.60,656.76 L804.59,656.98 L806.58,657.20 L808.56,657.43 L810.55,657.66 L812.54,657.90 L814.53,658.13 L816.51,658.37 L818.50,658.62 L820.49,658.86 L822.47,659.11 L824.46,659.37 L826.44,659.62 L828.42,659.88 L830.40,660.15 L832.39,660.42 L834.37,660.69 L836.35,660.96 L838.33,661.24 L840.30,661.52 L842.28,661.81 L844.26,662.10 L846.24,662.39 L848.21,662.69 L850.19,663.00 L852.16,663.30 L854.13,663.61 L856.11,663.93 L858.08,664.25 L860.05,664.57 L862.02,664.90 L863.99,665.23 L865.95,665.56 L867.92,665.90 L869.89,666.25 L871.85,666.60 L873.81,666.95 L875.78,667.31 L877.74,667.67 L879.70,668.04 L881.66,668.41 L883.62,668.79 L885.57,669.17 L887.53,669.56 L889.49,669.95 L891.44,670.34 L893.39,670.75 L895.34,671.15 L897.30,671.56 L899.24,671.98 L901.19,672.40 L903.14,672.83 L905.09,673.26 L907.03,673.70 L908.97,674.14 L910.91,674.59 L912.86,675.04 L914.79,675.50 L916.73,675.96 L918.67,676.43 L920.60,676.91 L922.54,677.39 L924.47,677.87 L926.40,678.36 L928.33,678.86 L930.26,679.36 L932.19,679.87 L934.11,680.39 L936.04,680.91 L937.96,681.44 L939.88,681.97 L941.80,682.51 L943.71,683.05 L945.63,683.60 L947.55,684.16 L949.46,684.72 L951.37,685.29 L953.28,685.87 L955.19,686.45 L957.09,687.04 L959.00,687.63 L960.90,688.24 L962.80,688.84 L964.70,689.46 L966.60,690.08 L968.50,690.71 L970.39,691.34 L972.29,691.98 L974.18,692.63 L976.07,693.28 L977.95,693.94 L979.84,694.61 L981.72,695.29 L983.60,695.97 L985.48,696.66 L987.36,697.35 L989.24,698.05 L991.11,698.76 L992.98,699.48 L994.85,700.21 L996.72,700.94 L998.59,701.68 L1000.45,702.42 L1002.32,703.18 L1004.18,703.94 L1006.04,704.71 L1007.89,705.48 L1009.75,706.27 L1011.60,707.06 L1013.45,707.86 L1015.30,708.66 L1017.14,709.48 L1018.99,710.30 L1020.83,711.13 L1022.67,711.97 L1024.50,712.81 L1026.34,713.67 L1028.17,714.53 L1030.00,715.40 L1801.00,715.40" fill="none" stroke="#0072B2" stroke-width="5.333" stroke-dasharray="16 5.33 5.33 5.33" stroke-linejoin="round"/>
<g fill="none" stroke="#808080" stroke-opacity="0.42" stroke-width="1.85" stroke-linecap="square">
<path d="M189.00,644.59 L191.69,644.59 L194.38,644.59 L197.07,644.59 L199.76,644.60 L202.46,644.60 L205.15,644.60 L207.84,644.60 L210.53,644.61 L213.22,644.61 L215.91,644.61 L218.60,644.62 L221.29,644.62 L223.98,644.62 L226.68,644.62 L229.37,644.63 L232.06,644.63 L234.75,644.63 L237.44,644.64 L240.13,644.64 L242.82,644.64 L245.51,644.65 L248.21,644.65 L250.90,644.66 L253.59,644.66 L256.28,644.66 L258.97,644.67 L261.66,644.67 L264.35,644.67 L267.04,644.68 L269.73,644.68 L272.43,644.69 L275.12,644.69 L277.81,644.70 L280.50,644.70 L283.19,644.70 L285.88,644.71 L288.57,644.71 L291.26,644.72 L293.95,644.72 L296.65,644.73 L299.34,644.73 L302.03,644.74 L304.72,644.74 L307.41,644.75 L310.10,644.76 L312.79,644.76 L315.48,644.77 L318.18,644.77 L320.87,644.78 L323.56,644.78 L326.25,644.79 L328.94,644.80 L331.63,644.80 L334.32,644.81 L337.01,644.82 L339.70,644.82 L342.40,644.83 L345.09,644.84 L347.78,644.84 L350.47,644.85 L353.16,644.86 L355.85,644.87 L358.54,644.88 L361.23,644.88 L363.92,644.89 L366.62,644.90 L369.31,644.91 L372.00,644.92 L374.69,644.93 L377.38,644.93 L380.07,644.94 L382.76,644.95 L385.45,644.96 L388.15,644.97 L390.84,644.98 L393.53,644.99 L396.22,645.00 L398.91,645.01 L401.60,645.02 L404.29,645.03 L406.98,645.04 L409.67,645.06 L412.37,645.07 L415.06,645.08 L417.75,645.09 L420.44,645.10 L423.13,645.12 L425.82,645.13 L428.51,645.14 L431.20,645.15 L433.89,645.17 L436.59,645.18 L439.28,645.20 L441.97,645.21 L444.66,645.22 L447.35,645.24 L450.04,645.25 L452.73,645.27 L455.42,645.28 L458.12,645.30 L460.81,645.32 L463.50,645.33 L466.19,645.35 L468.88,645.37 L471.57,645.39 L474.26,645.40 L476.95,645.42 L479.64,645.44 L482.34,645.46 L485.03,645.48 L487.72,645.50 L490.41,645.52 L493.10,645.54 L495.79,645.56 L498.48,645.58 L501.17,645.60 L503.86,645.62 L506.56,645.65 L509.25,645.67 L511.94,645.69 L514.63,645.72 L517.32,645.74 L520.01,645.77 L522.70,645.79 L525.39,645.82 L528.09,645.84 L530.78,645.87 L533.47,645.90 L536.16,645.92 L538.85,645.95 L541.54,645.98 L544.23,646.01 L546.92,646.04 L549.61,646.07 L552.31,646.10 L555.00,646.13 L557.69,646.17 L560.38,646.20 L563.07,646.23 L565.76,646.27 L568.45,646.30 L571.14,646.34 L573.83,646.38 L576.53,646.41 L579.22,646.45 L581.91,646.49 L584.60,646.53 L587.29,646.57 L589.98,646.61 L592.67,646.65 L595.36,646.69 L598.06,646.74 L600.75,646.78 L603.44,646.82 L606.13,646.87 L608.82,646.92 L611.51,646.96 L614.20,647.01 L616.89,647.06 L619.58,647.11 L622.28,647.16 L624.97,647.22 L627.66,647.27 L630.35,647.32 L633.04,647.38 L635.73,647.44 L638.42,647.49 L641.11,647.55 L643.80,647.61 L646.50,647.67 L649.19,647.74 L651.88,647.80 L654.57,647.87 L657.26,647.93 L659.95,648.00 L662.64,648.07 L665.33,648.14 L668.03,648.21 L670.72,648.28 L673.41,648.35 L676.10,648.43 L678.79,648.51 L681.48,648.59 L684.17,648.67 L686.86,648.75 L689.55,648.83 L692.25,648.91 L694.94,649.00 L697.63,649.09 L700.32,649.18 L703.01,649.27 L705.70,649.36 L708.39,649.46 L711.08,649.56 L713.77,649.65 L716.47,649.76 L719.16,649.86 L721.85,649.96 L724.54,650.07 L727.23,650.18 L729.92,650.29 L732.61,650.40 L735.30,650.52 L737.99,650.63 L740.69,650.75 L743.38,650.88 L746.07,651.00 L748.76,651.13 L751.45,651.26 L754.14,651.39 L756.83,651.52 L759.52,651.66 L762.22,651.80 L764.91,651.94 L767.60,652.09 L770.29,652.24 L772.98,652.39 L775.67,652.54 L778.36,652.70 L781.05,652.86 L783.74,653.02 L786.44,653.18 L789.13,653.35 L791.82,653.53 L794.51,653.70 L797.20,653.88 L799.89,654.06 L802.58,654.25 L805.27,654.44 L807.96,654.63 L810.66,654.83 L813.35,655.03 L816.04,655.24 L818.73,655.45 L821.42,655.66 L824.11,655.88 L826.80,656.10 L829.49,656.32 L832.19,656.55 L834.88,656.79 L837.57,657.03 L840.26,657.27 L842.95,657.52 L845.64,657.77 L848.33,658.03 L851.02,658.30 L853.71,658.56 L856.41,658.84 L859.10,659.12 L861.79,659.40 L864.48,659.69 L867.17,659.99 L869.86,660.29 L872.55,660.59 L875.24,660.91 L877.93,661.23 L880.63,661.55 L883.32,661.88 L886.01,662.22 L888.70,662.57 L891.39,662.92 L894.08,663.28 L896.77,663.64 L899.46,664.01 L902.16,664.39 L904.85,664.78 L907.54,665.17 L910.23,665.58 L912.92,665.98 L915.61,666.40 L918.30,666.83 L920.99,667.26 L923.68,667.70 L926.38,668.16 L929.07,668.62 L931.76,669.08 L934.45,669.56 L937.14,670.05 L939.83,670.55 L942.52,671.05 L945.21,671.57 L947.90,672.09 L950.60,672.63 L953.29,673.18 L955.98,673.73 L958.67,674.30 L961.36,674.88 L964.05,675.47 L966.74,676.07 L969.43,676.69 L972.13,677.31 L974.82,677.95 L977.51,678.60 L980.20,679.26 L982.89,679.94 L985.58,680.62 L988.27,681.33 L990.96,682.04 L993.65,682.77 L996.35,683.51 L999.04,684.27 L1001.73,685.04 L1004.42,685.83 L1007.11,686.63 L1009.80,687.45 L1012.49,688.29 L1015.18,689.14 L1017.87,690.00 L1020.57,690.89 L1023.26,691.79 L1025.95,692.71 L1028.64,693.64 L1031.33,694.60 L1034.02,695.57 L1036.71,696.56 L1039.40,697.57 L1042.10,698.60 L1044.79,699.65 L1047.48,700.73 L1050.17,701.82 L1052.86,702.93 L1055.55,704.06 L1058.24,705.22 L1060.93,706.40 L1063.62,707.60 L1066.32,708.83 L1069.01,710.08 L1071.70,711.35 L1074.39,712.65 L1077.08,713.97 L1079.77,715.32 L1082.46,715.40 L1085.15,715.40 L1087.84,715.40 L1090.54,715.40 L1093.23,715.40 L1095.92,715.40 L1098.61,715.40 L1101.30,715.40 L1103.99,715.40 L1106.68,715.40 L1109.37,715.40 L1112.07,715.40 L1114.76,715.40 L1117.45,715.40 L1120.14,715.40 L1122.83,715.40 L1125.52,715.40 L1128.21,715.40 L1130.90,715.40 L1133.59,715.40 L1136.29,715.40 L1138.98,715.40 L1141.67,715.40 L1144.36,715.40 L1147.05,715.40 L1149.74,715.40 L1152.43,715.40 L1155.12,715.40 L1157.81,715.40 L1160.51,715.40 L1163.20,715.40 L1165.89,715.40 L1168.58,715.40 L1171.27,715.40 L1173.96,715.40 L1176.65,715.40 L1179.34,715.40 L1182.04,715.40 L1184.73,715.40 L1187.42,715.40 L1190.11,715.40 L1192.80,715.40 L1195.49,715.40 L1198.18,715.40 L1200.87,715.40 L1203.56,715.40 L1206.26,715.40 L1208.95,715.40 L1211.64,715.40 L1214.33,715.40 L1217.02,715.40 L1219.71,715.40 L1222.40,715.40 L1225.09,715.40 L1227.78,715.40 L1230.48,715.40 L1233.17,715.40 L1235.86,715.40 L1238.55,715.40 L1241.24,715.40 L1243.93,715.40 L1246.62,715.40 L1249.31,715.40 L1252.01,715.40 L1254.70,715.40 L1257.39,715.40 L1260.08,715.40 L1262.77,715.40 L1265.46,715.40 L1268.15,715.40 L1270.84,715.40 L1273.53,715.40 L1276.23,715.40 L1278.92,715.40 L1281.61,715.40 L1284.30,715.40 L1286.99,715.40 L1289.68,715.40 L1292.37,715.40 L1295.06,715.40 L1297.75,715.40 L1300.45,715.40 L1303.14,715.40 L1305.83,715.40 L1308.52,715.40 L1311.21,715.40 L1313.90,715.40 L1316.59,715.40 L1319.28,715.40 L1321.97,715.40 L1324.67,715.40 L1327.36,715.40 L1330.05,715.40 L1332.74,715.40 L1335.43,715.40 L1338.12,715.40 L1340.81,715.40 L1343.50,715.40 L1346.20,715.40 L1348.89,715.40 L1351.58,715.40 L1354.27,715.40 L1356.96,715.40 L1359.65,715.40 L1362.34,715.40 L1365.03,715.40 L1367.72,715.40 L1370.42,715.40 L1373.11,715.40 L1375.80,715.40 L1378.49,715.40 L1381.18,715.40 L1383.87,715.40 L1386.56,715.40 L1389.25,715.40 L1391.94,715.40 L1394.64,715.40 L1397.33,715.40 L1400.02,715.40 L1402.71,715.40 L1405.40,715.40 L1408.09,715.40 L1410.78,715.40 L1413.47,715.40 L1416.17,715.40 L1418.86,715.40 L1421.55,715.40 L1424.24,715.40 L1426.93,715.40 L1429.62,715.40 L1432.31,715.40 L1435.00,715.40 L1437.69,715.40 L1440.39,715.40 L1443.08,715.40 L1445.77,715.40 L1448.46,715.40 L1451.15,715.40 L1453.84,715.40 L1456.53,715.40 L1459.22,715.40 L1461.91,715.40 L1464.61,715.40 L1467.30,715.40 L1469.99,715.40 L1472.68,715.40 L1475.37,715.40 L1478.06,715.40 L1480.75,715.40 L1483.44,715.40 L1486.14,715.40 L1488.83,715.40 L1491.52,715.40 L1494.21,715.40 L1496.90,715.40 L1499.59,715.40 L1502.28,715.40 L1504.97,715.40 L1507.66,715.40 L1510.36,715.40 L1513.05,715.40 L1515.74,715.40 L1518.43,715.40 L1521.12,715.40 L1523.81,715.40 L1526.50,715.40 L1529.19,715.40 L1531.88,715.40 L1534.58,715.40 L1537.27,715.40 L1539.96,715.40 L1542.65,715.40 L1545.34,715.40 L1548.03,715.40 L1550.72,715.40 L1553.41,715.40 L1556.11,715.40 L1558.80,715.40 L1561.49,715.40 L1564.18,715.40 L1566.87,715.40 L1569.56,715.40 L1572.25,715.40 L1574.94,715.40 L1577.63,715.40 L1580.33,715.40 L1583.02,715.40 L1585.71,715.40 L1588.40,715.40 L1591.09,715.40 L1593.78,715.40 L1596.47,715.40 L1599.16,715.40 L1601.85,715.40 L1604.55,715.40 L1607.24,715.40 L1609.93,715.40 L1612.62,715.40 L1615.31,715.40 L1618.00,715.40 L1620.69,715.40 L1623.38,715.40 L1626.08,715.40 L1628.77,715.40 L1631.46,715.40 L1634.15,715.40 L1636.84,715.40 L1639.53,715.40 L1642.22,715.40 L1644.91,715.40 L1647.60,715.40 L1650.30,715.40 L1652.99,715.40 L1655.68,715.40 L1658.37,715.40 L1661.06,715.40 L1663.75,715.40 L1666.44,715.40 L1669.13,715.40 L1671.82,715.40 L1674.52,715.40 L1677.21,715.40 L1679.90,715.40 L1682.59,715.40 L1685.28,715.40 L1687.97,715.40 L1690.66,715.40 L1693.35,715.40 L1696.05,715.40 L1698.74,715.40 L1701.43,715.40 L1704.12,715.40 L1706.81,715.40 L1709.50,715.40 L1712.19,715.40 L1714.88,715.40 L1717.57,715.40 L1720.27,715.40 L1722.96,715.40 L1725.65,715.40 L1728.34,715.40 L1731.03,715.40 L1733.72,715.40 L1736.41,715.40 L1739.10,715.40 L1741.79,715.40 L1744.49,715.40 L1747.18,715.40 L1749.87,715.40 L1752.56,715.40 L1755.25,715.40 L1757.94,715.40 L1760.63,715.40 L1763.32,715.40 L1766.02,715.40 L1768.71,715.40 L1771.40,715.40 L1774.09,715.40 L1776.78,715.40 L1779.47,715.40 L1782.16,715.40 L1784.85,715.40 L1787.54,715.40 L1790.24,715.40 L1792.93,715.40 L1795.62,715.40 L1798.31,715.40 L1801.00,715.40"/>
<path d="M189.00,664.54 L191.69,664.55 L194.38,664.55 L197.07,664.55 L199.76,664.56 L202.46,664.56 L205.15,664.57 L207.84,664.57 L210.53,664.57 L213.22,664.58 L215.91,664.58 L218.60,664.59 L221.29,664.59 L223.98,664.60 L226.68,664.60 L229.37,664.61 L232.06,664.61 L234.75,664.62 L237.44,664.62 L240.13,664.63 L242.82,664.63 L245.51,664.64 L248.21,664.64 L250.90,664.65 L253.59,664.65 L256.28,664.66 L258.97,664.67 L261.66,664.67 L264.35,664.68 L267.04,664.68 L269.73,664.69 L272.43,664.70 L275.12,664.70 L277.81,664.71 L280.50,664.72 L283.19,664.73 L285.88,664.73 L288.57,664.74 L291.26,664.75 L293.95,664.76 L296.65,664.76 L299.34,664.77 L302.03,664.78 L304.72,664.79 L307.41,664.80 L310.10,664.80 L312.79,664.81 L315.48,664.82 L318.18,664.83 L320.87,664.84 L323.56,664.85 L326.25,664.86 L328.94,664.87 L331.63,664.88 L334.32,664.89 L337.01,664.90 L339.70,664.91 L342.40,664.92 L345.09,664.93 L347.78,664.94 L350.47,664.96 L353.16,664.97 L355.85,664.98 L358.54,664.99 L361.23,665.00 L363.92,665.02 L366.62,665.03 L369.31,665.04 L372.00,665.06 L374.69,665.07 L377.38,665.08 L380.07,665.10 L382.76,665.11 L385.45,665.13 L388.15,665.14 L390.84,665.16 L393.53,665.17 L396.22,665.19 L398.91,665.20 L401.60,665.22 L404.29,665.24 L406.98,665.26 L409.67,665.27 L412.37,665.29 L415.06,665.31 L417.75,665.33 L420.44,665.35 L423.13,665.37 L425.82,665.39 L428.51,665.41 L431.20,665.43 L433.89,665.45 L436.59,665.47 L439.28,665.49 L441.97,665.51 L444.66,665.53 L447.35,665.56 L450.04,665.58 L452.73,665.60 L455.42,665.63 L458.12,665.65 L460.81,665.68 L463.50,665.70 L466.19,665.73 L468.88,665.76 L471.57,665.79 L474.26,665.81 L476.95,665.84 L479.64,665.87 L482.34,665.90 L485.03,665.93 L487.72,665.96 L490.41,665.99 L493.10,666.02 L495.79,666.06 L498.48,666.09 L501.17,666.12 L503.86,666.16 L506.56,666.19 L509.25,666.23 L511.94,666.26 L514.63,666.30 L517.32,666.34 L520.01,666.38 L522.70,666.42 L525.39,666.46 L528.09,666.50 L530.78,666.54 L533.47,666.58 L536.16,666.63 L538.85,666.67 L541.54,666.71 L544.23,666.76 L546.92,666.81 L549.61,666.85 L552.31,666.90 L555.00,666.95 L557.69,667.00 L560.38,667.05 L563.07,667.11 L565.76,667.16 L568.45,667.21 L571.14,667.27 L573.83,667.33 L576.53,667.38 L579.22,667.44 L581.91,667.50 L584.60,667.56 L587.29,667.63 L589.98,667.69 L592.67,667.76 L595.36,667.82 L598.06,667.89 L600.75,667.96 L603.44,668.03 L606.13,668.10 L608.82,668.17 L611.51,668.25 L614.20,668.32 L616.89,668.40 L619.58,668.48 L622.28,668.56 L624.97,668.64 L627.66,668.72 L630.35,668.81 L633.04,668.89 L635.73,668.98 L638.42,669.07 L641.11,669.16 L643.80,669.26 L646.50,669.35 L649.19,669.45 L651.88,669.55 L654.57,669.65 L657.26,669.75 L659.95,669.86 L662.64,669.96 L665.33,670.07 L668.03,670.18 L670.72,670.29 L673.41,670.41 L676.10,670.53 L678.79,670.65 L681.48,670.77 L684.17,670.89 L686.86,671.02 L689.55,671.15 L692.25,671.28 L694.94,671.42 L697.63,671.55 L700.32,671.69 L703.01,671.84 L705.70,671.98 L708.39,672.13 L711.08,672.28 L713.77,672.43 L716.47,672.59 L719.16,672.75 L721.85,672.91 L724.54,673.08 L727.23,673.25 L729.92,673.42 L732.61,673.60 L735.30,673.78 L737.99,673.96 L740.69,674.15 L743.38,674.34 L746.07,674.53 L748.76,674.73 L751.45,674.93 L754.14,675.14 L756.83,675.34 L759.52,675.56 L762.22,675.78 L764.91,676.00 L767.60,676.22 L770.29,676.45 L772.98,676.69 L775.67,676.93 L778.36,677.17 L781.05,677.42 L783.74,677.67 L786.44,677.93 L789.13,678.20 L791.82,678.47 L794.51,678.74 L797.20,679.02 L799.89,679.30 L802.58,679.59 L805.27,679.89 L807.96,680.19 L810.66,680.50 L813.35,680.81 L816.04,681.13 L818.73,681.46 L821.42,681.79 L824.11,682.13 L826.80,682.47 L829.49,682.82 L832.19,683.18 L834.88,683.55 L837.57,683.92 L840.26,684.30 L842.95,684.69 L845.64,685.08 L848.33,685.48 L851.02,685.89 L853.71,686.31 L856.41,686.74 L859.10,687.17 L861.79,687.61 L864.48,688.07 L867.17,688.53 L869.86,689.00 L872.55,689.47 L875.24,689.96 L877.93,690.46 L880.63,690.96 L883.32,691.48 L886.01,692.01 L888.70,692.54 L891.39,693.09 L894.08,693.65 L896.77,694.22 L899.46,694.80 L902.16,695.39 L904.85,695.99 L907.54,696.60 L910.23,697.23 L912.92,697.87 L915.61,698.52 L918.30,699.18 L920.99,699.86 L923.68,700.55 L926.38,701.25 L929.07,701.96 L931.76,702.69 L934.45,703.44 L937.14,704.20 L939.83,704.97 L942.52,705.76 L945.21,706.56 L947.90,707.38 L950.60,708.22 L953.29,709.07 L955.98,709.94 L958.67,710.82 L961.36,711.72 L964.05,712.64 L966.74,713.58 L969.43,714.53 L972.13,715.40 L974.82,715.40 L977.51,715.40 L980.20,715.40 L982.89,715.40 L985.58,715.40 L988.27,715.40 L990.96,715.40 L993.65,715.40 L996.35,715.40 L999.04,715.40 L1001.73,715.40 L1004.42,715.40 L1007.11,715.40 L1009.80,715.40 L1012.49,715.40 L1015.18,715.40 L1017.87,715.40 L1020.57,715.40 L1023.26,715.40 L1025.95,715.40 L1028.64,715.40 L1031.33,715.40 L1034.02,715.40 L1036.71,715.40 L1039.40,715.40 L1042.10,715.40 L1044.79,715.40 L1047.48,715.40 L1050.17,715.40 L1052.86,715.40 L1055.55,715.40 L1058.24,715.40 L1060.93,715.40 L1063.62,715.40 L1066.32,715.40 L1069.01,715.40 L1071.70,715.40 L1074.39,715.40 L1077.08,715.40 L1079.77,715.40 L1082.46,715.40 L1085.15,715.40 L1087.84,715.40 L1090.54,715.40 L1093.23,715.40 L1095.92,715.40 L1098.61,715.40 L1101.30,715.40 L1103.99,715.40 L1106.68,715.40 L1109.37,715.40 L1112.07,715.40 L1114.76,715.40 L1117.45,715.40 L1120.14,715.40 L1122.83,715.40 L1125.52,715.40 L1128.21,715.40 L1130.90,715.40 L1133.59,715.40 L1136.29,715.40 L1138.98,715.40 L1141.67,715.40 L1144.36,715.40 L1147.05,715.40 L1149.74,715.40 L1152.43,715.40 L1155.12,715.40 L1157.81,715.40 L1160.51,715.40 L1163.20,715.40 L1165.89,715.40 L1168.58,715.40 L1171.27,715.40 L1173.96,715.40 L1176.65,715.40 L1179.34,715.40 L1182.04,715.40 L1184.73,715.40 L1187.42,715.40 L1190.11,715.40 L1192.80,715.40 L1195.49,715.40 L1198.18,715.40 L1200.87,715.40 L1203.56,715.40 L1206.26,715.40 L1208.95,715.40 L1211.64,715.40 L1214.33,715.40 L1217.02,715.40 L1219.71,715.40 L1222.40,715.40 L1225.09,715.40 L1227.78,715.40 L1230.48,715.40 L1233.17,715.40 L1235.86,715.40 L1238.55,715.40 L1241.24,715.40 L1243.93,715.40 L1246.62,715.40 L1249.31,715.40 L1252.01,715.40 L1254.70,715.40 L1257.39,715.40 L1260.08,715.40 L1262.77,715.40 L1265.46,715.40 L1268.15,715.40 L1270.84,715.40 L1273.53,715.40 L1276.23,715.40 L1278.92,715.40 L1281.61,715.40 L1284.30,715.40 L1286.99,715.40 L1289.68,715.40 L1292.37,715.40 L1295.06,715.40 L1297.75,715.40 L1300.45,715.40 L1303.14,715.40 L1305.83,715.40 L1308.52,715.40 L1311.21,715.40 L1313.90,715.40 L1316.59,715.40 L1319.28,715.40 L1321.97,715.40 L1324.67,715.40 L1327.36,715.40 L1330.05,715.40 L1332.74,715.40 L1335.43,715.40 L1338.12,715.40 L1340.81,715.40 L1343.50,715.40 L1346.20,715.40 L1348.89,715.40 L1351.58,715.40 L1354.27,715.40 L1356.96,715.40 L1359.65,715.40 L1362.34,715.40 L1365.03,715.40 L1367.72,715.40 L1370.42,715.40 L1373.11,715.40 L1375.80,715.40 L1378.49,715.40 L1381.18,715.40 L1383.87,715.40 L1386.56,715.40 L1389.25,715.40 L1391.94,715.40 L1394.64,715.40 L1397.33,715.40 L1400.02,715.40 L1402.71,715.40 L1405.40,715.40 L1408.09,715.40 L1410.78,715.40 L1413.47,715.40 L1416.17,715.40 L1418.86,715.40 L1421.55,715.40 L1424.24,715.40 L1426.93,715.40 L1429.62,715.40 L1432.31,715.40 L1435.00,715.40 L1437.69,715.40 L1440.39,715.40 L1443.08,715.40 L1445.77,715.40 L1448.46,715.40 L1451.15,715.40 L1453.84,715.40 L1456.53,715.40 L1459.22,715.40 L1461.91,715.40 L1464.61,715.40 L1467.30,715.40 L1469.99,715.40 L1472.68,715.40 L1475.37,715.40 L1478.06,715.40 L1480.75,715.40 L1483.44,715.40 L1486.14,715.40 L1488.83,715.40 L1491.52,715.40 L1494.21,715.40 L1496.90,715.40 L1499.59,715.40 L1502.28,715.40 L1504.97,715.40 L1507.66,715.40 L1510.36,715.40 L1513.05,715.40 L1515.74,715.40 L1518.43,715.40 L1521.12,715.40 L1523.81,715.40 L1526.50,715.40 L1529.19,715.40 L1531.88,715.40 L1534.58,715.40 L1537.27,715.40 L1539.96,715.40 L1542.65,715.40 L1545.34,715.40 L1548.03,715.40 L1550.72,715.40 L1553.41,715.40 L1556.11,715.40 L1558.80,715.40 L1561.49,715.40 L1564.18,715.40 L1566.87,715.40 L1569.56,715.40 L1572.25,715.40 L1574.94,715.40 L1577.63,715.40 L1580.33,715.40 L1583.02,715.40 L1585.71,715.40 L1588.40,715.40 L1591.09,715.40 L1593.78,715.40 L1596.47,715.40 L1599.16,715.40 L1601.85,715.40 L1604.55,715.40 L1607.24,715.40 L1609.93,715.40 L1612.62,715.40 L1615.31,715.40 L1618.00,715.40 L1620.69,715.40 L1623.38,715.40 L1626.08,715.40 L1628.77,715.40 L1631.46,715.40 L1634.15,715.40 L1636.84,715.40 L1639.53,715.40 L1642.22,715.40 L1644.91,715.40 L1647.60,715.40 L1650.30,715.40 L1652.99,715.40 L1655.68,715.40 L1658.37,715.40 L1661.06,715.40 L1663.75,715.40 L1666.44,715.40 L1669.13,715.40 L1671.82,715.40 L1674.52,715.40 L1677.21,715.40 L1679.90,715.40 L1682.59,715.40 L1685.28,715.40 L1687.97,715.40 L1690.66,715.40 L1693.35,715.40 L1696.05,715.40 L1698.74,715.40 L1701.43,715.40 L1704.12,715.40 L1706.81,715.40 L1709.50,715.40 L1712.19,715.40 L1714.88,715.40 L1717.57,715.40 L1720.27,715.40 L1722.96,715.40 L1725.65,715.40 L1728.34,715.40 L1731.03,715.40 L1733.72,715.40 L1736.41,715.40 L1739.10,715.40 L1741.79,715.40 L1744.49,715.40 L1747.18,715.40 L1749.87,715.40 L1752.56,715.40 L1755.25,715.40 L1757.94,715.40 L1760.63,715.40 L1763.32,715.40 L1766.02,715.40 L1768.71,715.40 L1771.40,715.40 L1774.09,715.40 L1776.78,715.40 L1779.47,715.40 L1782.16,715.40 L1784.85,715.40 L1787.54,715.40 L1790.24,715.40 L1792.93,715.40 L1795.62,715.40 L1798.31,715.40 L1801.00,715.40"/>
<path d="M189.00,675.54 L191.69,675.54 L194.38,675.55 L197.07,675.55 L199.76,675.55 L202.46,675.56 L205.15,675.56 L207.84,675.56 L210.53,675.57 L213.22,675.57 L215.91,675.57 L218.60,675.58 L221.29,675.58 L223.98,675.59 L226.68,675.59 L229.37,675.59 L232.06,675.60 L234.75,675.60 L237.44,675.61 L240.13,675.61 L242.82,675.62 L245.51,675.62 L248.21,675.63 L250.90,675.63 L253.59,675.64 L256.28,675.64 L258.97,675.65 L261.66,675.65 L264.35,675.66 L267.04,675.66 L269.73,675.67 L272.43,675.67 L275.12,675.68 L277.81,675.69 L280.50,675.69 L283.19,675.70 L285.88,675.71 L288.57,675.71 L291.26,675.72 L293.95,675.73 L296.65,675.73 L299.34,675.74 L302.03,675.75 L304.72,675.75 L307.41,675.76 L310.10,675.77 L312.79,675.78 L315.48,675.78 L318.18,675.79 L320.87,675.80 L323.56,675.81 L326.25,675.82 L328.94,675.83 L331.63,675.83 L334.32,675.84 L337.01,675.85 L339.70,675.86 L342.40,675.87 L345.09,675.88 L347.78,675.89 L350.47,675.90 L353.16,675.91 L355.85,675.92 L358.54,675.93 L361.23,675.94 L363.92,675.95 L366.62,675.97 L369.31,675.98 L372.00,675.99 L374.69,676.00 L377.38,676.01 L380.07,676.03 L382.76,676.04 L385.45,676.05 L388.15,676.06 L390.84,676.08 L393.53,676.09 L396.22,676.10 L398.91,676.12 L401.60,676.13 L404.29,676.15 L406.98,676.16 L409.67,676.18 L412.37,676.19 L415.06,676.21 L417.75,676.23 L420.44,676.24 L423.13,676.26 L425.82,676.28 L428.51,676.29 L431.20,676.31 L433.89,676.33 L436.59,676.35 L439.28,676.37 L441.97,676.39 L444.66,676.41 L447.35,676.43 L450.04,676.45 L452.73,676.47 L455.42,676.49 L458.12,676.51 L460.81,676.53 L463.50,676.56 L466.19,676.58 L468.88,676.60 L471.57,676.63 L474.26,676.65 L476.95,676.68 L479.64,676.70 L482.34,676.73 L485.03,676.75 L487.72,676.78 L490.41,676.81 L493.10,676.84 L495.79,676.86 L498.48,676.89 L501.17,676.92 L503.86,676.95 L506.56,676.98 L509.25,677.01 L511.94,677.05 L514.63,677.08 L517.32,677.11 L520.01,677.15 L522.70,677.18 L525.39,677.22 L528.09,677.25 L530.78,677.29 L533.47,677.32 L536.16,677.36 L538.85,677.40 L541.54,677.44 L544.23,677.48 L546.92,677.52 L549.61,677.56 L552.31,677.61 L555.00,677.65 L557.69,677.69 L560.38,677.74 L563.07,677.78 L565.76,677.83 L568.45,677.88 L571.14,677.93 L573.83,677.98 L576.53,678.03 L579.22,678.08 L581.91,678.13 L584.60,678.19 L587.29,678.24 L589.98,678.30 L592.67,678.35 L595.36,678.41 L598.06,678.47 L600.75,678.53 L603.44,678.59 L606.13,678.65 L608.82,678.72 L611.51,678.78 L614.20,678.85 L616.89,678.92 L619.58,678.98 L622.28,679.05 L624.97,679.13 L627.66,679.20 L630.35,679.27 L633.04,679.35 L635.73,679.43 L638.42,679.50 L641.11,679.58 L643.80,679.67 L646.50,679.75 L649.19,679.83 L651.88,679.92 L654.57,680.01 L657.26,680.10 L659.95,680.19 L662.64,680.28 L665.33,680.38 L668.03,680.48 L670.72,680.58 L673.41,680.68 L676.10,680.78 L678.79,680.88 L681.48,680.99 L684.17,681.10 L686.86,681.21 L689.55,681.33 L692.25,681.44 L694.94,681.56 L697.63,681.68 L700.32,681.80 L703.01,681.93 L705.70,682.05 L708.39,682.18 L711.08,682.31 L713.77,682.45 L716.47,682.59 L719.16,682.73 L721.85,682.87 L724.54,683.02 L727.23,683.16 L729.92,683.31 L732.61,683.47 L735.30,683.63 L737.99,683.79 L740.69,683.95 L743.38,684.12 L746.07,684.29 L748.76,684.46 L751.45,684.63 L754.14,684.81 L756.83,685.00 L759.52,685.18 L762.22,685.37 L764.91,685.57 L767.60,685.77 L770.29,685.97 L772.98,686.17 L775.67,686.38 L778.36,686.60 L781.05,686.82 L783.74,687.04 L786.44,687.26 L789.13,687.49 L791.82,687.73 L794.51,687.97 L797.20,688.21 L799.89,688.46 L802.58,688.72 L805.27,688.98 L807.96,689.24 L810.66,689.51 L813.35,689.78 L816.04,690.06 L818.73,690.35 L821.42,690.64 L824.11,690.94 L826.80,691.24 L829.49,691.55 L832.19,691.86 L834.88,692.18 L837.57,692.51 L840.26,692.84 L842.95,693.18 L845.64,693.52 L848.33,693.87 L851.02,694.23 L853.71,694.60 L856.41,694.97 L859.10,695.35 L861.79,695.74 L864.48,696.14 L867.17,696.54 L869.86,696.95 L872.55,697.37 L875.24,697.80 L877.93,698.23 L880.63,698.67 L883.32,699.13 L886.01,699.59 L888.70,700.06 L891.39,700.54 L894.08,701.02 L896.77,701.52 L899.46,702.03 L902.16,702.55 L904.85,703.07 L907.54,703.61 L910.23,704.16 L912.92,704.72 L915.61,705.29 L918.30,705.87 L920.99,706.46 L923.68,707.06 L926.38,707.68 L929.07,708.31 L931.76,708.95 L934.45,709.60 L937.14,710.26 L939.83,710.94 L942.52,711.63 L945.21,712.33 L947.90,713.05 L950.60,713.78 L953.29,714.53 L955.98,715.29 L958.67,715.40 L961.36,715.40 L964.05,715.40 L966.74,715.40 L969.43,715.40 L972.13,715.40 L974.82,715.40 L977.51,715.40 L980.20,715.40 L982.89,715.40 L985.58,715.40 L988.27,715.40 L990.96,715.40 L993.65,715.40 L996.35,715.40 L999.04,715.40 L1001.73,715.40 L1004.42,715.40 L1007.11,715.40 L1009.80,715.40 L1012.49,715.40 L1015.18,715.40 L1017.87,715.40 L1020.57,715.40 L1023.26,715.40 L1025.95,715.40 L1028.64,715.40 L1031.33,715.40 L1034.02,715.40 L1036.71,715.40 L1039.40,715.40 L1042.10,715.40 L1044.79,715.40 L1047.48,715.40 L1050.17,715.40 L1052.86,715.40 L1055.55,715.40 L1058.24,715.40 L1060.93,715.40 L1063.62,715.40 L1066.32,715.40 L1069.01,715.40 L1071.70,715.40 L1074.39,715.40 L1077.08,715.40 L1079.77,715.40 L1082.46,715.40 L1085.15,715.40 L1087.84,715.40 L1090.54,715.40 L1093.23,715.40 L1095.92,715.40 L1098.61,715.40 L1101.30,715.40 L1103.99,715.40 L1106.68,715.40 L1109.37,715.40 L1112.07,715.40 L1114.76,715.40 L1117.45,715.40 L1120.14,715.40 L1122.83,715.40 L1125.52,715.40 L1128.21,715.40 L1130.90,715.40 L1133.59,715.40 L1136.29,715.40 L1138.98,715.40 L1141.67,715.40 L1144.36,715.40 L1147.05,715.40 L1149.74,715.40 L1152.43,715.40 L1155.12,715.40 L1157.81,715.40 L1160.51,715.40 L1163.20,715.40 L1165.89,715.40 L1168.58,715.40 L1171.27,715.40 L1173.96,715.40 L1176.65,715.40 L1179.34,715.40 L1182.04,715.40 L1184.73,715.40 L1187.42,715.40 L1190.11,715.40 L1192.80,715.40 L1195.49,715.40 L1198.18,715.40 L1200.87,715.40 L1203.56,715.40 L1206.26,715.40 L1208.95,715.40 L1211.64,715.40 L1214.33,715.40 L1217.02,715.40 L1219.71,715.40 L1222.40,715.40 L1225.09,715.40 L1227.78,715.40 L1230.48,715.40 L1233.17,715.40 L1235.86,715.40 L1238.55,715.40 L1241.24,715.40 L1243.93,715.40 L1246.62,715.40 L1249.31,715.40 L1252.01,715.40 L1254.70,715.40 L1257.39,715.40 L1260.08,715.40 L1262.77,715.40 L1265.46,715.40 L1268.15,715.40 L1270.84,715.40 L1273.53,715.40 L1276.23,715.40 L1278.92,715.40 L1281.61,715.40 L1284.30,715.40 L1286.99,715.40 L1289.68,715.40 L1292.37,715.40 L1295.06,715.40 L1297.75,715.40 L1300.45,715.40 L1303.14,715.40 L1305.83,715.40 L1308.52,715.40 L1311.21,715.40 L1313.90,715.40 L1316.59,715.40 L1319.28,715.40 L1321.97,715.40 L1324.67,715.40 L1327.36,715.40 L1330.05,715.40 L1332.74,715.40 L1335.43,715.40 L1338.12,715.40 L1340.81,715.40 L1343.50,715.40 L1346.20,715.40 L1348.89,715.40 L1351.58,715.40 L1354.27,715.40 L1356.96,715.40 L1359.65,715.40 L1362.34,715.40 L1365.03,715.40 L1367.72,715.40 L1370.42,715.40 L1373.11,715.40 L1375.80,715.40 L1378.49,715.40 L1381.18,715.40 L1383.87,715.40 L1386.56,715.40 L1389.25,715.40 L1391.94,715.40 L1394.64,715.40 L1397.33,715.40 L1400.02,715.40 L1402.71,715.40 L1405.40,715.40 L1408.09,715.40 L1410.78,715.40 L1413.47,715.40 L1416.17,715.40 L1418.86,715.40 L1421.55,715.40 L1424.24,715.40 L1426.93,715.40 L1429.62,715.40 L1432.31,715.40 L1435.00,715.40 L1437.69,715.40 L1440.39,715.40 L1443.08,715.40 L1445.77,715.40 L1448.46,715.40 L1451.15,715.40 L1453.84,715.40 L1456.53,715.40 L1459.22,715.40 L1461.91,715.40 L1464.61,715.40 L1467.30,715.40 L1469.99,715.40 L1472.68,715.40 L1475.37,715.40 L1478.06,715.40 L1480.75,715.40 L1483.44,715.40 L1486.14,715.40 L1488.83,715.40 L1491.52,715.40 L1494.21,715.40 L1496.90,715.40 L1499.59,715.40 L1502.28,715.40 L1504.97,715.40 L1507.66,715.40 L1510.36,715.40 L1513.05,715.40 L1515.74,715.40 L1518.43,715.40 L1521.12,715.40 L1523.81,715.40 L1526.50,715.40 L1529.19,715.40 L1531.88,715.40 L1534.58,715.40 L1537.27,715.40 L1539.96,715.40 L1542.65,715.40 L1545.34,715.40 L1548.03,715.40 L1550.72,715.40 L1553.41,715.40 L1556.11,715.40 L1558.80,715.40 L1561.49,715.40 L1564.18,715.40 L1566.87,715.40 L1569.56,715.40 L1572.25,715.40 L1574.94,715.40 L1577.63,715.40 L1580.33,715.40 L1583.02,715.40 L1585.71,715.40 L1588.40,715.40 L1591.09,715.40 L1593.78,715.40 L1596.47,715.40 L1599.16,715.40 L1601.85,715.40 L1604.55,715.40 L1607.24,715.40 L1609.93,715.40 L1612.62,715.40 L1615.31,715.40 L1618.00,715.40 L1620.69,715.40 L1623.38,715.40 L1626.08,715.40 L1628.77,715.40 L1631.46,715.40 L1634.15,715.40 L1636.84,715.40 L1639.53,715.40 L1642.22,715.40 L1644.91,715.40 L1647.60,715.40 L1650.30,715.40 L1652.99,715.40 L1655.68,715.40 L1658.37,715.40 L1661.06,715.40 L1663.75,715.40 L1666.44,715.40 L1669.13,715.40 L1671.82,715.40 L1674.52,715.40 L1677.21,715.40 L1679.90,715.40 L1682.59,715.40 L1685.28,715.40 L1687.97,715.40 L1690.66,715.40 L1693.35,715.40 L1696.05,715.40 L1698.74,715.40 L1701.43,715.40 L1704.12,715.40 L1706.81,715.40 L1709.50,715.40 L1712.19,715.40 L1714.88,715.40 L1717.57,715.40 L1720.27,715.40 L1722.96,715.40 L1725.65,715.40 L1728.34,715.40 L1731.03,715.40 L1733.72,715.40 L1736.41,715.40 L1739.10,715.40 L1741.79,715.40 L1744.49,715.40 L1747.18,715.40 L1749.87,715.40 L1752.56,715.40 L1755.25,715.40 L1757.94,715.40 L1760.63,715.40 L1763.32,715.40 L1766.02,715.40 L1768.71,715.40 L1771.40,715.40 L1774.09,715.40 L1776.78,715.40 L1779.47,715.40 L1782.16,715.40 L1784.85,715.40 L1787.54,715.40 L1790.24,715.40 L1792.93,715.40 L1795.62,715.40 L1798.31,715.40 L1801.00,715.40"/>
<path d="M189.00,684.26 L191.69,684.26 L194.38,684.26 L197.07,684.27 L199.76,684.27 L202.46,684.27 L205.15,684.28 L207.84,684.28 L210.53,684.28 L213.22,684.29 L215.91,684.29 L218.60,684.29 L221.29,684.30 L223.98,684.30 L226.68,684.30 L229.37,684.31 L232.06,684.31 L234.75,684.31 L237.44,684.32 L240.13,684.32 L242.82,684.33 L245.51,684.33 L248.21,684.33 L250.90,684.34 L253.59,684.34 L256.28,684.35 L258.97,684.35 L261.66,684.36 L264.35,684.36 L267.04,684.37 L269.73,684.37 L272.43,684.38 L275.12,684.38 L277.81,684.39 L280.50,684.39 L283.19,684.40 L285.88,684.40 L288.57,684.41 L291.26,684.41 L293.95,684.42 L296.65,684.43 L299.34,684.43 L302.03,684.44 L304.72,684.45 L307.41,684.45 L310.10,684.46 L312.79,684.46 L315.48,684.47 L318.18,684.48 L320.87,684.49 L323.56,684.49 L326.25,684.50 L328.94,684.51 L331.63,684.52 L334.32,684.52 L337.01,684.53 L339.70,684.54 L342.40,684.55 L345.09,684.56 L347.78,684.56 L350.47,684.57 L353.16,684.58 L355.85,684.59 L358.54,684.60 L361.23,684.61 L363.92,684.62 L366.62,684.63 L369.31,684.64 L372.00,684.65 L374.69,684.66 L377.38,684.67 L380.07,684.68 L382.76,684.69 L385.45,684.70 L388.15,684.72 L390.84,684.73 L393.53,684.74 L396.22,684.75 L398.91,684.76 L401.60,684.78 L404.29,684.79 L406.98,684.80 L409.67,684.82 L412.37,684.83 L415.06,684.84 L417.75,684.86 L420.44,684.87 L423.13,684.89 L425.82,684.90 L428.51,684.92 L431.20,684.93 L433.89,684.95 L436.59,684.97 L439.28,684.98 L441.97,685.00 L444.66,685.02 L447.35,685.03 L450.04,685.05 L452.73,685.07 L455.42,685.09 L458.12,685.11 L460.81,685.13 L463.50,685.15 L466.19,685.17 L468.88,685.19 L471.57,685.21 L474.26,685.23 L476.95,685.25 L479.64,685.27 L482.34,685.29 L485.03,685.32 L487.72,685.34 L490.41,685.37 L493.10,685.39 L495.79,685.41 L498.48,685.44 L501.17,685.47 L503.86,685.49 L506.56,685.52 L509.25,685.55 L511.94,685.57 L514.63,685.60 L517.32,685.63 L520.01,685.66 L522.70,685.69 L525.39,685.72 L528.09,685.75 L530.78,685.78 L533.47,685.82 L536.16,685.85 L538.85,685.88 L541.54,685.92 L544.23,685.95 L546.92,685.99 L549.61,686.02 L552.31,686.06 L555.00,686.10 L557.69,686.14 L560.38,686.18 L563.07,686.22 L565.76,686.26 L568.45,686.30 L571.14,686.34 L573.83,686.39 L576.53,686.43 L579.22,686.47 L581.91,686.52 L584.60,686.57 L587.29,686.61 L589.98,686.66 L592.67,686.71 L595.36,686.76 L598.06,686.81 L600.75,686.87 L603.44,686.92 L606.13,686.98 L608.82,687.03 L611.51,687.09 L614.20,687.14 L616.89,687.20 L619.58,687.26 L622.28,687.32 L624.97,687.39 L627.66,687.45 L630.35,687.52 L633.04,687.58 L635.73,687.65 L638.42,687.72 L641.11,687.79 L643.80,687.86 L646.50,687.93 L649.19,688.01 L651.88,688.08 L654.57,688.16 L657.26,688.24 L659.95,688.32 L662.64,688.40 L665.33,688.48 L668.03,688.57 L670.72,688.65 L673.41,688.74 L676.10,688.83 L678.79,688.92 L681.48,689.02 L684.17,689.11 L686.86,689.21 L689.55,689.31 L692.25,689.41 L694.94,689.51 L697.63,689.62 L700.32,689.72 L703.01,689.83 L705.70,689.94 L708.39,690.05 L711.08,690.17 L713.77,690.29 L716.47,690.41 L719.16,690.53 L721.85,690.65 L724.54,690.78 L727.23,690.91 L729.92,691.04 L732.61,691.18 L735.30,691.31 L737.99,691.45 L740.69,691.60 L743.38,691.74 L746.07,691.89 L748.76,692.04 L751.45,692.19 L754.14,692.35 L756.83,692.51 L759.52,692.67 L762.22,692.84 L764.91,693.01 L767.60,693.18 L770.29,693.36 L772.98,693.54 L775.67,693.72 L778.36,693.91 L781.05,694.10 L783.74,694.29 L786.44,694.49 L789.13,694.69 L791.82,694.89 L794.51,695.10 L797.20,695.32 L799.89,695.53 L802.58,695.76 L805.27,695.98 L807.96,696.21 L810.66,696.45 L813.35,696.69 L816.04,696.93 L818.73,697.18 L821.42,697.43 L824.11,697.69 L826.80,697.96 L829.49,698.22 L832.19,698.50 L834.88,698.78 L837.57,699.06 L840.26,699.35 L842.95,699.65 L845.64,699.95 L848.33,700.26 L851.02,700.57 L853.71,700.89 L856.41,701.21 L859.10,701.55 L861.79,701.88 L864.48,702.23 L867.17,702.58 L869.86,702.94 L872.55,703.31 L875.24,703.68 L877.93,704.06 L880.63,704.44 L883.32,704.84 L886.01,705.24 L888.70,705.65 L891.39,706.07 L894.08,706.50 L896.77,706.93 L899.46,707.37 L902.16,707.82 L904.85,708.28 L907.54,708.75 L910.23,709.23 L912.92,709.72 L915.61,710.22 L918.30,710.72 L920.99,711.24 L923.68,711.76 L926.38,712.30 L929.07,712.85 L931.76,713.41 L934.45,713.97 L937.14,714.55 L939.83,715.14 L942.52,715.40 L945.21,715.40 L947.90,715.40 L950.60,715.40 L953.29,715.40 L955.98,715.40 L958.67,715.40 L961.36,715.40 L964.05,715.40 L966.74,715.40 L969.43,715.40 L972.13,715.40 L974.82,715.40 L977.51,715.40 L980.20,715.40 L982.89,715.40 L985.58,715.40 L988.27,715.40 L990.96,715.40 L993.65,715.40 L996.35,715.40 L999.04,715.40 L1001.73,715.40 L1004.42,715.40 L1007.11,715.40 L1009.80,715.40 L1012.49,715.40 L1015.18,715.40 L1017.87,715.40 L1020.57,715.40 L1023.26,715.40 L1025.95,715.40 L1028.64,715.40 L1031.33,715.40 L1034.02,715.40 L1036.71,715.40 L1039.40,715.40 L1042.10,715.40 L1044.79,715.40 L1047.48,715.40 L1050.17,715.40 L1052.86,715.40 L1055.55,715.40 L1058.24,715.40 L1060.93,715.40 L1063.62,715.40 L1066.32,715.40 L1069.01,715.40 L1071.70,715.40 L1074.39,715.40 L1077.08,715.40 L1079.77,715.40 L1082.46,715.40 L1085.15,715.40 L1087.84,715.40 L1090.54,715.40 L1093.23,715.40 L1095.92,715.40 L1098.61,715.40 L1101.30,715.40 L1103.99,715.40 L1106.68,715.40 L1109.37,715.40 L1112.07,715.40 L1114.76,715.40 L1117.45,715.40 L1120.14,715.40 L1122.83,715.40 L1125.52,715.40 L1128.21,715.40 L1130.90,715.40 L1133.59,715.40 L1136.29,715.40 L1138.98,715.40 L1141.67,715.40 L1144.36,715.40 L1147.05,715.40 L1149.74,715.40 L1152.43,715.40 L1155.12,715.40 L1157.81,715.40 L1160.51,715.40 L1163.20,715.40 L1165.89,715.40 L1168.58,715.40 L1171.27,715.40 L1173.96,715.40 L1176.65,715.40 L1179.34,715.40 L1182.04,715.40 L1184.73,715.40 L1187.42,715.40 L1190.11,715.40 L1192.80,715.40 L1195.49,715.40 L1198.18,715.40 L1200.87,715.40 L1203.56,715.40 L1206.26,715.40 L1208.95,715.40 L1211.64,715.40 L1214.33,715.40 L1217.02,715.40 L1219.71,715.40 L1222.40,715.40 L1225.09,715.40 L1227.78,715.40 L1230.48,715.40 L1233.17,715.40 L1235.86,715.40 L1238.55,715.40 L1241.24,715.40 L1243.93,715.40 L1246.62,715.40 L1249.31,715.40 L1252.01,715.40 L1254.70,715.40 L1257.39,715.40 L1260.08,715.40 L1262.77,715.40 L1265.46,715.40 L1268.15,715.40 L1270.84,715.40 L1273.53,715.40 L1276.23,715.40 L1278.92,715.40 L1281.61,715.40 L1284.30,715.40 L1286.99,715.40 L1289.68,715.40 L1292.37,715.40 L1295.06,715.40 L1297.75,715.40 L1300.45,715.40 L1303.14,715.40 L1305.83,715.40 L1308.52,715.40 L1311.21,715.40 L1313.90,715.40 L1316.59,715.40 L1319.28,715.40 L1321.97,715.40 L1324.67,715.40 L1327.36,715.40 L1330.05,715.40 L1332.74,715.40 L1335.43,715.40 L1338.12,715.40 L1340.81,715.40 L1343.50,715.40 L1346.20,715.40 L1348.89,715.40 L1351.58,715.40 L1354.27,715.40 L1356.96,715.40 L1359.65,715.40 L1362.34,715.40 L1365.03,715.40 L1367.72,715.40 L1370.42,715.40 L1373.11,715.40 L1375.80,715.40 L1378.49,715.40 L1381.18,715.40 L1383.87,715.40 L1386.56,715.40 L1389.25,715.40 L1391.94,715.40 L1394.64,715.40 L1397.33,715.40 L1400.02,715.40 L1402.71,715.40 L1405.40,715.40 L1408.09,715.40 L1410.78,715.40 L1413.47,715.40 L1416.17,715.40 L1418.86,715.40 L1421.55,715.40 L1424.24,715.40 L1426.93,715.40 L1429.62,715.40 L1432.31,715.40 L1435.00,715.40 L1437.69,715.40 L1440.39,715.40 L1443.08,715.40 L1445.77,715.40 L1448.46,715.40 L1451.15,715.40 L1453.84,715.40 L1456.53,715.40 L1459.22,715.40 L1461.91,715.40 L1464.61,715.40 L1467.30,715.40 L1469.99,715.40 L1472.68,715.40 L1475.37,715.40 L1478.06,715.40 L1480.75,715.40 L1483.44,715.40 L1486.14,715.40 L1488.83,715.40 L1491.52,715.40 L1494.21,715.40 L1496.90,715.40 L1499.59,715.40 L1502.28,715.40 L1504.97,715.40 L1507.66,715.40 L1510.36,715.40 L1513.05,715.40 L1515.74,715.40 L1518.43,715.40 L1521.12,715.40 L1523.81,715.40 L1526.50,715.40 L1529.19,715.40 L1531.88,715.40 L1534.58,715.40 L1537.27,715.40 L1539.96,715.40 L1542.65,715.40 L1545.34,715.40 L1548.03,715.40 L1550.72,715.40 L1553.41,715.40 L1556.11,715.40 L1558.80,715.40 L1561.49,715.40 L1564.18,715.40 L1566.87,715.40 L1569.56,715.40 L1572.25,715.40 L1574.94,715.40 L1577.63,715.40 L1580.33,715.40 L1583.02,715.40 L1585.71,715.40 L1588.40,715.40 L1591.09,715.40 L1593.78,715.40 L1596.47,715.40 L1599.16,715.40 L1601.85,715.40 L1604.55,715.40 L1607.24,715.40 L1609.93,715.40 L1612.62,715.40 L1615.31,715.40 L1618.00,715.40 L1620.69,715.40 L1623.38,715.40 L1626.08,715.40 L1628.77,715.40 L1631.46,715.40 L1634.15,715.40 L1636.84,715.40 L1639.53,715.40 L1642.22,715.40 L1644.91,715.40 L1647.60,715.40 L1650.30,715.40 L1652.99,715.40 L1655.68,715.40 L1658.37,715.40 L1661.06,715.40 L1663.75,715.40 L1666.44,715.40 L1669.13,715.40 L1671.82,715.40 L1674.52,715.40 L1677.21,715.40 L1679.90,715.40 L1682.59,715.40 L1685.28,715.40 L1687.97,715.40 L1690.66,715.40 L1693.35,715.40 L1696.05,715.40 L1698.74,715.40 L1701.43,715.40 L1704.12,715.40 L1706.81,715.40 L1709.50,715.40 L1712.19,715.40 L1714.88,715.40 L1717.57,715.40 L1720.27,715.40 L1722.96,715.40 L1725.65,715.40 L1728.34,715.40 L1731.03,715.40 L1733.72,715.40 L1736.41,715.40 L1739.10,715.40 L1741.79,715.40 L1744.49,715.40 L1747.18,715.40 L1749.87,715.40 L1752.56,715.40 L1755.25,715.40 L1757.94,715.40 L1760.63,715.40 L1763.32,715.40 L1766.02,715.40 L1768.71,715.40 L1771.40,715.40 L1774.09,715.40 L1776.78,715.40 L1779.47,715.40 L1782.16,715.40 L1784.85,715.40 L1787.54,715.40 L1790.24,715.40 L1792.93,715.40 L1795.62,715.40 L1798.31,715.40 L1801.00,715.40"/>
<path d="M189.00,689.44 L191.69,689.44 L194.38,689.44 L197.07,689.44 L199.76,689.45 L202.46,689.45 L205.15,689.45 L207.84,689.46 L210.53,689.46 L213.22,689.46 L215.91,689.46 L218.60,689.47 L221.29,689.47 L223.98,689.47 L226.68,689.48 L229.37,689.48 L232.06,689.48 L234.75,689.49 L237.44,689.49 L240.13,689.49 L242.82,689.50 L245.51,689.50 L248.21,689.51 L250.90,689.51 L253.59,689.51 L256.28,689.52 L258.97,689.52 L261.66,689.53 L264.35,689.53 L267.04,689.53 L269.73,689.54 L272.43,689.54 L275.12,689.55 L277.81,689.55 L280.50,689.56 L283.19,689.56 L285.88,689.57 L288.57,689.57 L291.26,689.58 L293.95,689.58 L296.65,689.59 L299.34,689.59 L302.03,689.60 L304.72,689.60 L307.41,689.61 L310.10,689.62 L312.79,689.62 L315.48,689.63 L318.18,689.63 L320.87,689.64 L323.56,689.65 L326.25,689.65 L328.94,689.66 L331.63,689.67 L334.32,689.67 L337.01,689.68 L339.70,689.69 L342.40,689.70 L345.09,689.70 L347.78,689.71 L350.47,689.72 L353.16,689.73 L355.85,689.74 L358.54,689.74 L361.23,689.75 L363.92,689.76 L366.62,689.77 L369.31,689.78 L372.00,689.79 L374.69,689.80 L377.38,689.81 L380.07,689.82 L382.76,689.83 L385.45,689.84 L388.15,689.85 L390.84,689.86 L393.53,689.87 L396.22,689.88 L398.91,689.89 L401.60,689.90 L404.29,689.91 L406.98,689.92 L409.67,689.94 L412.37,689.95 L415.06,689.96 L417.75,689.97 L420.44,689.99 L423.13,690.00 L425.82,690.01 L428.51,690.03 L431.20,690.04 L433.89,690.06 L436.59,690.07 L439.28,690.09 L441.97,690.10 L444.66,690.12 L447.35,690.13 L450.04,690.15 L452.73,690.16 L455.42,690.18 L458.12,690.20 L460.81,690.22 L463.50,690.23 L466.19,690.25 L468.88,690.27 L471.57,690.29 L474.26,690.31 L476.95,690.33 L479.64,690.35 L482.34,690.37 L485.03,690.39 L487.72,690.41 L490.41,690.43 L493.10,690.45 L495.79,690.47 L498.48,690.50 L501.17,690.52 L503.86,690.54 L506.56,690.57 L509.25,690.59 L511.94,690.62 L514.63,690.64 L517.32,690.67 L520.01,690.69 L522.70,690.72 L525.39,690.75 L528.09,690.78 L530.78,690.80 L533.47,690.83 L536.16,690.86 L538.85,690.89 L541.54,690.92 L544.23,690.96 L546.92,690.99 L549.61,691.02 L552.31,691.05 L555.00,691.09 L557.69,691.12 L560.38,691.16 L563.07,691.19 L565.76,691.23 L568.45,691.27 L571.14,691.31 L573.83,691.34 L576.53,691.38 L579.22,691.42 L581.91,691.46 L584.60,691.51 L587.29,691.55 L589.98,691.59 L592.67,691.64 L595.36,691.68 L598.06,691.73 L600.75,691.78 L603.44,691.82 L606.13,691.87 L608.82,691.92 L611.51,691.97 L614.20,692.02 L616.89,692.08 L619.58,692.13 L622.28,692.19 L624.97,692.24 L627.66,692.30 L630.35,692.36 L633.04,692.42 L635.73,692.48 L638.42,692.54 L641.11,692.60 L643.80,692.66 L646.50,692.73 L649.19,692.80 L651.88,692.86 L654.57,692.93 L657.26,693.00 L659.95,693.08 L662.64,693.15 L665.33,693.22 L668.03,693.30 L670.72,693.38 L673.41,693.46 L676.10,693.54 L678.79,693.62 L681.48,693.70 L684.17,693.79 L686.86,693.87 L689.55,693.96 L692.25,694.05 L694.94,694.15 L697.63,694.24 L700.32,694.34 L703.01,694.43 L705.70,694.53 L708.39,694.63 L711.08,694.74 L713.77,694.84 L716.47,694.95 L719.16,695.06 L721.85,695.17 L724.54,695.28 L727.23,695.40 L729.92,695.52 L732.61,695.64 L735.30,695.76 L737.99,695.89 L740.69,696.02 L743.38,696.15 L746.07,696.28 L748.76,696.41 L751.45,696.55 L754.14,696.69 L756.83,696.84 L759.52,696.98 L762.22,697.13 L764.91,697.28 L767.60,697.44 L770.29,697.60 L772.98,697.76 L775.67,697.92 L778.36,698.09 L781.05,698.26 L783.74,698.43 L786.44,698.61 L789.13,698.79 L791.82,698.97 L794.51,699.16 L797.20,699.35 L799.89,699.55 L802.58,699.75 L805.27,699.95 L807.96,700.15 L810.66,700.37 L813.35,700.58 L816.04,700.80 L818.73,701.02 L821.42,701.25 L824.11,701.48 L826.80,701.72 L829.49,701.96 L832.19,702.20 L834.88,702.45 L837.57,702.71 L840.26,702.97 L842.95,703.23 L845.64,703.50 L848.33,703.78 L851.02,704.06 L853.71,704.35 L856.41,704.64 L859.10,704.94 L861.79,705.24 L864.48,705.55 L867.17,705.86 L869.86,706.19 L872.55,706.51 L875.24,706.85 L877.93,707.19 L880.63,707.53 L883.32,707.89 L886.01,708.25 L888.70,708.62 L891.39,708.99 L894.08,709.37 L896.77,709.76 L899.46,710.16 L902.16,710.56 L904.85,710.98 L907.54,711.40 L910.23,711.83 L912.92,712.26 L915.61,712.71 L918.30,713.16 L920.99,713.63 L923.68,714.10 L926.38,714.58 L929.07,715.07 L931.76,715.40 L934.45,715.40 L937.14,715.40 L939.83,715.40 L942.52,715.40 L945.21,715.40 L947.90,715.40 L950.60,715.40 L953.29,715.40 L955.98,715.40 L958.67,715.40 L961.36,715.40 L964.05,715.40 L966.74,715.40 L969.43,715.40 L972.13,715.40 L974.82,715.40 L977.51,715.40 L980.20,715.40 L982.89,715.40 L985.58,715.40 L988.27,715.40 L990.96,715.40 L993.65,715.40 L996.35,715.40 L999.04,715.40 L1001.73,715.40 L1004.42,715.40 L1007.11,715.40 L1009.80,715.40 L1012.49,715.40 L1015.18,715.40 L1017.87,715.40 L1020.57,715.40 L1023.26,715.40 L1025.95,715.40 L1028.64,715.40 L1031.33,715.40 L1034.02,715.40 L1036.71,715.40 L1039.40,715.40 L1042.10,715.40 L1044.79,715.40 L1047.48,715.40 L1050.17,715.40 L1052.86,715.40 L1055.55,715.40 L1058.24,715.40 L1060.93,715.40 L1063.62,715.40 L1066.32,715.40 L1069.01,715.40 L1071.70,715.40 L1074.39,715.40 L1077.08,715.40 L1079.77,715.40 L1082.46,715.40 L1085.15,715.40 L1087.84,715.40 L1090.54,715.40 L1093.23,715.40 L1095.92,715.40 L1098.61,715.40 L1101.30,715.40 L1103.99,715.40 L1106.68,715.40 L1109.37,715.40 L1112.07,715.40 L1114.76,715.40 L1117.45,715.40 L1120.14,715.40 L1122.83,715.40 L1125.52,715.40 L1128.21,715.40 L1130.90,715.40 L1133.59,715.40 L1136.29,715.40 L1138.98,715.40 L1141.67,715.40 L1144.36,715.40 L1147.05,715.40 L1149.74,715.40 L1152.43,715.40 L1155.12,715.40 L1157.81,715.40 L1160.51,715.40 L1163.20,715.40 L1165.89,715.40 L1168.58,715.40 L1171.27,715.40 L1173.96,715.40 L1176.65,715.40 L1179.34,715.40 L1182.04,715.40 L1184.73,715.40 L1187.42,715.40 L1190.11,715.40 L1192.80,715.40 L1195.49,715.40 L1198.18,715.40 L1200.87,715.40 L1203.56,715.40 L1206.26,715.40 L1208.95,715.40 L1211.64,715.40 L1214.33,715.40 L1217.02,715.40 L1219.71,715.40 L1222.40,715.40 L1225.09,715.40 L1227.78,715.40 L1230.48,715.40 L1233.17,715.40 L1235.86,715.40 L1238.55,715.40 L1241.24,715.40 L1243.93,715.40 L1246.62,715.40 L1249.31,715.40 L1252.01,715.40 L1254.70,715.40 L1257.39,715.40 L1260.08,715.40 L1262.77,715.40 L1265.46,715.40 L1268.15,715.40 L1270.84,715.40 L1273.53,715.40 L1276.23,715.40 L1278.92,715.40 L1281.61,715.40 L1284.30,715.40 L1286.99,715.40 L1289.68,715.40 L1292.37,715.40 L1295.06,715.40 L1297.75,715.40 L1300.45,715.40 L1303.14,715.40 L1305.83,715.40 L1308.52,715.40 L1311.21,715.40 L1313.90,715.40 L1316.59,715.40 L1319.28,715.40 L1321.97,715.40 L1324.67,715.40 L1327.36,715.40 L1330.05,715.40 L1332.74,715.40 L1335.43,715.40 L1338.12,715.40 L1340.81,715.40 L1343.50,715.40 L1346.20,715.40 L1348.89,715.40 L1351.58,715.40 L1354.27,715.40 L1356.96,715.40 L1359.65,715.40 L1362.34,715.40 L1365.03,715.40 L1367.72,715.40 L1370.42,715.40 L1373.11,715.40 L1375.80,715.40 L1378.49,715.40 L1381.18,715.40 L1383.87,715.40 L1386.56,715.40 L1389.25,715.40 L1391.94,715.40 L1394.64,715.40 L1397.33,715.40 L1400.02,715.40 L1402.71,715.40 L1405.40,715.40 L1408.09,715.40 L1410.78,715.40 L1413.47,715.40 L1416.17,715.40 L1418.86,715.40 L1421.55,715.40 L1424.24,715.40 L1426.93,715.40 L1429.62,715.40 L1432.31,715.40 L1435.00,715.40 L1437.69,715.40 L1440.39,715.40 L1443.08,715.40 L1445.77,715.40 L1448.46,715.40 L1451.15,715.40 L1453.84,715.40 L1456.53,715.40 L1459.22,715.40 L1461.91,715.40 L1464.61,715.40 L1467.30,715.40 L1469.99,715.40 L1472.68,715.40 L1475.37,715.40 L1478.06,715.40 L1480.75,715.40 L1483.44,715.40 L1486.14,715.40 L1488.83,715.40 L1491.52,715.40 L1494.21,715.40 L1496.90,715.40 L1499.59,715.40 L1502.28,715.40 L1504.97,715.40 L1507.66,715.40 L1510.36,715.40 L1513.05,715.40 L1515.74,715.40 L1518.43,715.40 L1521.12,715.40 L1523.81,715.40 L1526.50,715.40 L1529.19,715.40 L1531.88,715.40 L1534.58,715.40 L1537.27,715.40 L1539.96,715.40 L1542.65,715.40 L1545.34,715.40 L1548.03,715.40 L1550.72,715.40 L1553.41,715.40 L1556.11,715.40 L1558.80,715.40 L1561.49,715.40 L1564.18,715.40 L1566.87,715.40 L1569.56,715.40 L1572.25,715.40 L1574.94,715.40 L1577.63,715.40 L1580.33,715.40 L1583.02,715.40 L1585.71,715.40 L1588.40,715.40 L1591.09,715.40 L1593.78,715.40 L1596.47,715.40 L1599.16,715.40 L1601.85,715.40 L1604.55,715.40 L1607.24,715.40 L1609.93,715.40 L1612.62,715.40 L1615.31,715.40 L1618.00,715.40 L1620.69,715.40 L1623.38,715.40 L1626.08,715.40 L1628.77,715.40 L1631.46,715.40 L1634.15,715.40 L1636.84,715.40 L1639.53,715.40 L1642.22,715.40 L1644.91,715.40 L1647.60,715.40 L1650.30,715.40 L1652.99,715.40 L1655.68,715.40 L1658.37,715.40 L1661.06,715.40 L1663.75,715.40 L1666.44,715.40 L1669.13,715.40 L1671.82,715.40 L1674.52,715.40 L1677.21,715.40 L1679.90,715.40 L1682.59,715.40 L1685.28,715.40 L1687.97,715.40 L1690.66,715.40 L1693.35,715.40 L1696.05,715.40 L1698.74,715.40 L1701.43,715.40 L1704.12,715.40 L1706.81,715.40 L1709.50,715.40 L1712.19,715.40 L1714.88,715.40 L1717.57,715.40 L1720.27,715.40 L1722.96,715.40 L1725.65,715.40 L1728.34,715.40 L1731.03,715.40 L1733.72,715.40 L1736.41,715.40 L1739.10,715.40 L1741.79,715.40 L1744.49,715.40 L1747.18,715.40 L1749.87,715.40 L1752.56,715.40 L1755.25,715.40 L1757.94,715.40 L1760.63,715.40 L1763.32,715.40 L1766.02,715.40 L1768.71,715.40 L1771.40,715.40 L1774.09,715.40 L1776.78,715.40 L1779.47,715.40 L1782.16,715.40 L1784.85,715.40 L1787.54,715.40 L1790.24,715.40 L1792.93,715.40 L1795.62,715.40 L1798.31,715.40 L1801.00,715.40"/>
<path d="M189.00,692.48 L191.69,692.48 L194.38,692.48 L197.07,692.49 L199.76,692.49 L202.46,692.49 L205.15,692.49 L207.84,692.50 L210.53,692.50 L213.22,692.50 L215.91,692.51 L218.60,692.51 L221.29,692.51 L223.98,692.52 L226.68,692.52 L229.37,692.52 L232.06,692.53 L234.75,692.53 L237.44,692.53 L240.13,692.54 L242.82,692.54 L245.51,692.54 L248.21,692.55 L250.90,692.55 L253.59,692.56 L256.28,692.56 L258.97,692.56 L261.66,692.57 L264.35,692.57 L267.04,692.58 L269.73,692.58 L272.43,692.59 L275.12,692.59 L277.81,692.59 L280.50,692.60 L283.19,692.60 L285.88,692.61 L288.57,692.61 L291.26,692.62 L293.95,692.62 L296.65,692.63 L299.34,692.64 L302.03,692.64 L304.72,692.65 L307.41,692.65 L310.10,692.66 L312.79,692.66 L315.48,692.67 L318.18,692.68 L320.87,692.68 L323.56,692.69 L326.25,692.70 L328.94,692.70 L331.63,692.71 L334.32,692.72 L337.01,692.73 L339.70,692.73 L342.40,692.74 L345.09,692.75 L347.78,692.76 L350.47,692.76 L353.16,692.77 L355.85,692.78 L358.54,692.79 L361.23,692.80 L363.92,692.81 L366.62,692.81 L369.31,692.82 L372.00,692.83 L374.69,692.84 L377.38,692.85 L380.07,692.86 L382.76,692.87 L385.45,692.88 L388.15,692.89 L390.84,692.90 L393.53,692.91 L396.22,692.92 L398.91,692.94 L401.60,692.95 L404.29,692.96 L406.98,692.97 L409.67,692.98 L412.37,693.00 L415.06,693.01 L417.75,693.02 L420.44,693.03 L423.13,693.05 L425.82,693.06 L428.51,693.07 L431.20,693.09 L433.89,693.10 L436.59,693.12 L439.28,693.13 L441.97,693.15 L444.66,693.16 L447.35,693.18 L450.04,693.20 L452.73,693.21 L455.42,693.23 L458.12,693.25 L460.81,693.26 L463.50,693.28 L466.19,693.30 L468.88,693.32 L471.57,693.34 L474.26,693.36 L476.95,693.38 L479.64,693.40 L482.34,693.42 L485.03,693.44 L487.72,693.46 L490.41,693.48 L493.10,693.50 L495.79,693.52 L498.48,693.55 L501.17,693.57 L503.86,693.59 L506.56,693.62 L509.25,693.64 L511.94,693.67 L514.63,693.69 L517.32,693.72 L520.01,693.75 L522.70,693.77 L525.39,693.80 L528.09,693.83 L530.78,693.86 L533.47,693.89 L536.16,693.92 L538.85,693.95 L541.54,693.98 L544.23,694.01 L546.92,694.04 L549.61,694.08 L552.31,694.11 L555.00,694.14 L557.69,694.18 L560.38,694.22 L563.07,694.25 L565.76,694.29 L568.45,694.33 L571.14,694.36 L573.83,694.40 L576.53,694.44 L579.22,694.48 L581.91,694.53 L584.60,694.57 L587.29,694.61 L589.98,694.66 L592.67,694.70 L595.36,694.75 L598.06,694.79 L600.75,694.84 L603.44,694.89 L606.13,694.94 L608.82,694.99 L611.51,695.04 L614.20,695.09 L616.89,695.14 L619.58,695.20 L622.28,695.25 L624.97,695.31 L627.66,695.37 L630.35,695.43 L633.04,695.49 L635.73,695.55 L638.42,695.61 L641.11,695.67 L643.80,695.74 L646.50,695.80 L649.19,695.87 L651.88,695.94 L654.57,696.01 L657.26,696.08 L659.95,696.15 L662.64,696.23 L665.33,696.30 L668.03,696.38 L670.72,696.46 L673.41,696.54 L676.10,696.62 L678.79,696.70 L681.48,696.78 L684.17,696.87 L686.86,696.96 L689.55,697.05 L692.25,697.14 L694.94,697.23 L697.63,697.33 L700.32,697.42 L703.01,697.52 L705.70,697.62 L708.39,697.73 L711.08,697.83 L713.77,697.94 L716.47,698.04 L719.16,698.16 L721.85,698.27 L724.54,698.38 L727.23,698.50 L729.92,698.62 L732.61,698.74 L735.30,698.87 L737.99,698.99 L740.69,699.12 L743.38,699.25 L746.07,699.39 L748.76,699.52 L751.45,699.66 L754.14,699.80 L756.83,699.95 L759.52,700.10 L762.22,700.25 L764.91,700.40 L767.60,700.56 L770.29,700.72 L772.98,700.88 L775.67,701.04 L778.36,701.21 L781.05,701.38 L783.74,701.56 L786.44,701.74 L789.13,701.92 L791.82,702.11 L794.51,702.30 L797.20,702.49 L799.89,702.69 L802.58,702.89 L805.27,703.09 L807.96,703.30 L810.66,703.51 L813.35,703.73 L816.04,703.95 L818.73,704.18 L821.42,704.41 L824.11,704.64 L826.80,704.88 L829.49,705.12 L832.19,705.37 L834.88,705.62 L837.57,705.88 L840.26,706.14 L842.95,706.41 L845.64,706.68 L848.33,706.96 L851.02,707.24 L853.71,707.53 L856.41,707.83 L859.10,708.13 L861.79,708.43 L864.48,708.75 L867.17,709.07 L869.86,709.39 L872.55,709.72 L875.24,710.06 L877.93,710.40 L880.63,710.75 L883.32,711.11 L886.01,711.47 L888.70,711.84 L891.39,712.22 L894.08,712.61 L896.77,713.00 L899.46,713.40 L902.16,713.81 L904.85,714.23 L907.54,714.65 L910.23,715.08 L912.92,715.40 L915.61,715.40 L918.30,715.40 L920.99,715.40 L923.68,715.40 L926.38,715.40 L929.07,715.40 L931.76,715.40 L934.45,715.40 L937.14,715.40 L939.83,715.40 L942.52,715.40 L945.21,715.40 L947.90,715.40 L950.60,715.40 L953.29,715.40 L955.98,715.40 L958.67,715.40 L961.36,715.40 L964.05,715.40 L966.74,715.40 L969.43,715.40 L972.13,715.40 L974.82,715.40 L977.51,715.40 L980.20,715.40 L982.89,715.40 L985.58,715.40 L988.27,715.40 L990.96,715.40 L993.65,715.40 L996.35,715.40 L999.04,715.40 L1001.73,715.40 L1004.42,715.40 L1007.11,715.40 L1009.80,715.40 L1012.49,715.40 L1015.18,715.40 L1017.87,715.40 L1020.57,715.40 L1023.26,715.40 L1025.95,715.40 L1028.64,715.40 L1031.33,715.40 L1034.02,715.40 L1036.71,715.40 L1039.40,715.40 L1042.10,715.40 L1044.79,715.40 L1047.48,715.40 L1050.17,715.40 L1052.86,715.40 L1055.55,715.40 L1058.24,715.40 L1060.93,715.40 L1063.62,715.40 L1066.32,715.40 L1069.01,715.40 L1071.70,715.40 L1074.39,715.40 L1077.08,715.40 L1079.77,715.40 L1082.46,715.40 L1085.15,715.40 L1087.84,715.40 L1090.54,715.40 L1093.23,715.40 L1095.92,715.40 L1098.61,715.40 L1101.30,715.40 L1103.99,715.40 L1106.68,715.40 L1109.37,715.40 L1112.07,715.40 L1114.76,715.40 L1117.45,715.40 L1120.14,715.40 L1122.83,715.40 L1125.52,715.40 L1128.21,715.40 L1130.90,715.40 L1133.59,715.40 L1136.29,715.40 L1138.98,715.40 L1141.67,715.40 L1144.36,715.40 L1147.05,715.40 L1149.74,715.40 L1152.43,715.40 L1155.12,715.40 L1157.81,715.40 L1160.51,715.40 L1163.20,715.40 L1165.89,715.40 L1168.58,715.40 L1171.27,715.40 L1173.96,715.40 L1176.65,715.40 L1179.34,715.40 L1182.04,715.40 L1184.73,715.40 L1187.42,715.40 L1190.11,715.40 L1192.80,715.40 L1195.49,715.40 L1198.18,715.40 L1200.87,715.40 L1203.56,715.40 L1206.26,715.40 L1208.95,715.40 L1211.64,715.40 L1214.33,715.40 L1217.02,715.40 L1219.71,715.40 L1222.40,715.40 L1225.09,715.40 L1227.78,715.40 L1230.48,715.40 L1233.17,715.40 L1235.86,715.40 L1238.55,715.40 L1241.24,715.40 L1243.93,715.40 L1246.62,715.40 L1249.31,715.40 L1252.01,715.40 L1254.70,715.40 L1257.39,715.40 L1260.08,715.40 L1262.77,715.40 L1265.46,715.40 L1268.15,715.40 L1270.84,715.40 L1273.53,715.40 L1276.23,715.40 L1278.92,715.40 L1281.61,715.40 L1284.30,715.40 L1286.99,715.40 L1289.68,715.40 L1292.37,715.40 L1295.06,715.40 L1297.75,715.40 L1300.45,715.40 L1303.14,715.40 L1305.83,715.40 L1308.52,715.40 L1311.21,715.40 L1313.90,715.40 L1316.59,715.40 L1319.28,715.40 L1321.97,715.40 L1324.67,715.40 L1327.36,715.40 L1330.05,715.40 L1332.74,715.40 L1335.43,715.40 L1338.12,715.40 L1340.81,715.40 L1343.50,715.40 L1346.20,715.40 L1348.89,715.40 L1351.58,715.40 L1354.27,715.40 L1356.96,715.40 L1359.65,715.40 L1362.34,715.40 L1365.03,715.40 L1367.72,715.40 L1370.42,715.40 L1373.11,715.40 L1375.80,715.40 L1378.49,715.40 L1381.18,715.40 L1383.87,715.40 L1386.56,715.40 L1389.25,715.40 L1391.94,715.40 L1394.64,715.40 L1397.33,715.40 L1400.02,715.40 L1402.71,715.40 L1405.40,715.40 L1408.09,715.40 L1410.78,715.40 L1413.47,715.40 L1416.17,715.40 L1418.86,715.40 L1421.55,715.40 L1424.24,715.40 L1426.93,715.40 L1429.62,715.40 L1432.31,715.40 L1435.00,715.40 L1437.69,715.40 L1440.39,715.40 L1443.08,715.40 L1445.77,715.40 L1448.46,715.40 L1451.15,715.40 L1453.84,715.40 L1456.53,715.40 L1459.22,715.40 L1461.91,715.40 L1464.61,715.40 L1467.30,715.40 L1469.99,715.40 L1472.68,715.40 L1475.37,715.40 L1478.06,715.40 L1480.75,715.40 L1483.44,715.40 L1486.14,715.40 L1488.83,715.40 L1491.52,715.40 L1494.21,715.40 L1496.90,715.40 L1499.59,715.40 L1502.28,715.40 L1504.97,715.40 L1507.66,715.40 L1510.36,715.40 L1513.05,715.40 L1515.74,715.40 L1518.43,715.40 L1521.12,715.40 L1523.81,715.40 L1526.50,715.40 L1529.19,715.40 L1531.88,715.40 L1534.58,715.40 L1537.27,715.40 L1539.96,715.40 L1542.65,715.40 L1545.34,715.40 L1548.03,715.40 L1550.72,715.40 L1553.41,715.40 L1556.11,715.40 L1558.80,715.40 L1561.49,715.40 L1564.18,715.40 L1566.87,715.40 L1569.56,715.40 L1572.25,715.40 L1574.94,715.40 L1577.63,715.40 L1580.33,715.40 L1583.02,715.40 L1585.71,715.40 L1588.40,715.40 L1591.09,715.40 L1593.78,715.40 L1596.47,715.40 L1599.16,715.40 L1601.85,715.40 L1604.55,715.40 L1607.24,715.40 L1609.93,715.40 L1612.62,715.40 L1615.31,715.40 L1618.00,715.40 L1620.69,715.40 L1623.38,715.40 L1626.08,715.40 L1628.77,715.40 L1631.46,715.40 L1634.15,715.40 L1636.84,715.40 L1639.53,715.40 L1642.22,715.40 L1644.91,715.40 L1647.60,715.40 L1650.30,715.40 L1652.99,715.40 L1655.68,715.40 L1658.37,715.40 L1661.06,715.40 L1663.75,715.40 L1666.44,715.40 L1669.13,715.40 L1671.82,715.40 L1674.52,715.40 L1677.21,715.40 L1679.90,715.40 L1682.59,715.40 L1685.28,715.40 L1687.97,715.40 L1690.66,715.40 L1693.35,715.40 L1696.05,715.40 L1698.74,715.40 L1701.43,715.40 L1704.12,715.40 L1706.81,715.40 L1709.50,715.40 L1712.19,715.40 L1714.88,715.40 L1717.57,715.40 L1720.27,715.40 L1722.96,715.40 L1725.65,715.40 L1728.34,715.40 L1731.03,715.40 L1733.72,715.40 L1736.41,715.40 L1739.10,715.40 L1741.79,715.40 L1744.49,715.40 L1747.18,715.40 L1749.87,715.40 L1752.56,715.40 L1755.25,715.40 L1757.94,715.40 L1760.63,715.40 L1763.32,715.40 L1766.02,715.40 L1768.71,715.40 L1771.40,715.40 L1774.09,715.40 L1776.78,715.40 L1779.47,715.40 L1782.16,715.40 L1784.85,715.40 L1787.54,715.40 L1790.24,715.40 L1792.93,715.40 L1795.62,715.40 L1798.31,715.40 L1801.00,715.40"/>
<path d="M189.00,700.58 L191.69,700.58 L194.38,700.58 L197.07,700.58 L199.76,700.59 L202.46,700.59 L205.15,700.59 L207.84,700.59 L210.53,700.60 L213.22,700.60 L215.91,700.60 L218.60,700.60 L221.29,700.61 L223.98,700.61 L226.68,700.61 L229.37,700.62 L232.06,700.62 L234.75,700.62 L237.44,700.63 L240.13,700.63 L242.82,700.63 L245.51,700.64 L248.21,700.64 L250.90,700.64 L253.59,700.65 L256.28,700.65 L258.97,700.65 L261.66,700.66 L264.35,700.66 L267.04,700.67 L269.73,700.67 L272.43,700.68 L275.12,700.68 L277.81,700.68 L280.50,700.69 L283.19,700.69 L285.88,700.70 L288.57,700.70 L291.26,700.71 L293.95,700.71 L296.65,700.72 L299.34,700.72 L302.03,700.73 L304.72,700.73 L307.41,700.74 L310.10,700.74 L312.79,700.75 L315.48,700.76 L318.18,700.76 L320.87,700.77 L323.56,700.77 L326.25,700.78 L328.94,700.79 L331.63,700.79 L334.32,700.80 L337.01,700.81 L339.70,700.81 L342.40,700.82 L345.09,700.83 L347.78,700.83 L350.47,700.84 L353.16,700.85 L355.85,700.86 L358.54,700.86 L361.23,700.87 L363.92,700.88 L366.62,700.89 L369.31,700.90 L372.00,700.91 L374.69,700.91 L377.38,700.92 L380.07,700.93 L382.76,700.94 L385.45,700.95 L388.15,700.96 L390.84,700.97 L393.53,700.98 L396.22,700.99 L398.91,701.00 L401.60,701.01 L404.29,701.02 L406.98,701.03 L409.67,701.05 L412.37,701.06 L415.06,701.07 L417.75,701.08 L420.44,701.09 L423.13,701.11 L425.82,701.12 L428.51,701.13 L431.20,701.14 L433.89,701.16 L436.59,701.17 L439.28,701.18 L441.97,701.20 L444.66,701.21 L447.35,701.23 L450.04,701.24 L452.73,701.26 L455.42,701.27 L458.12,701.29 L460.81,701.31 L463.50,701.32 L466.19,701.34 L468.88,701.36 L471.57,701.37 L474.26,701.39 L476.95,701.41 L479.64,701.43 L482.34,701.45 L485.03,701.47 L487.72,701.49 L490.41,701.51 L493.10,701.53 L495.79,701.55 L498.48,701.57 L501.17,701.59 L503.86,701.61 L506.56,701.64 L509.25,701.66 L511.94,701.68 L514.63,701.71 L517.32,701.73 L520.01,701.76 L522.70,701.78 L525.39,701.81 L528.09,701.83 L530.78,701.86 L533.47,701.89 L536.16,701.92 L538.85,701.94 L541.54,701.97 L544.23,702.00 L546.92,702.03 L549.61,702.06 L552.31,702.09 L555.00,702.13 L557.69,702.16 L560.38,702.19 L563.07,702.22 L565.76,702.26 L568.45,702.29 L571.14,702.33 L573.83,702.37 L576.53,702.40 L579.22,702.44 L581.91,702.48 L584.60,702.52 L587.29,702.56 L589.98,702.60 L592.67,702.64 L595.36,702.68 L598.06,702.73 L600.75,702.77 L603.44,702.82 L606.13,702.86 L608.82,702.91 L611.51,702.96 L614.20,703.01 L616.89,703.06 L619.58,703.11 L622.28,703.16 L624.97,703.21 L627.66,703.26 L630.35,703.32 L633.04,703.37 L635.73,703.43 L638.42,703.49 L641.11,703.55 L643.80,703.61 L646.50,703.67 L649.19,703.73 L651.88,703.79 L654.57,703.86 L657.26,703.93 L659.95,703.99 L662.64,704.06 L665.33,704.13 L668.03,704.20 L670.72,704.28 L673.41,704.35 L676.10,704.43 L678.79,704.50 L681.48,704.58 L684.17,704.66 L686.86,704.74 L689.55,704.83 L692.25,704.91 L694.94,705.00 L697.63,705.09 L700.32,705.18 L703.01,705.27 L705.70,705.36 L708.39,705.46 L711.08,705.55 L713.77,705.65 L716.47,705.75 L719.16,705.86 L721.85,705.96 L724.54,706.07 L727.23,706.18 L729.92,706.29 L732.61,706.40 L735.30,706.52 L737.99,706.63 L740.69,706.75 L743.38,706.88 L746.07,707.00 L748.76,707.13 L751.45,707.26 L754.14,707.39 L756.83,707.52 L759.52,707.66 L762.22,707.80 L764.91,707.94 L767.60,708.09 L770.29,708.24 L772.98,708.39 L775.67,708.54 L778.36,708.70 L781.05,708.86 L783.74,709.02 L786.44,709.19 L789.13,709.36 L791.82,709.53 L794.51,709.71 L797.20,709.89 L799.89,710.07 L802.58,710.26 L805.27,710.45 L807.96,710.64 L810.66,710.84 L813.35,711.04 L816.04,711.24 L818.73,711.45 L821.42,711.67 L824.11,711.89 L826.80,712.11 L829.49,712.33 L832.19,712.56 L834.88,712.80 L837.57,713.04 L840.26,713.28 L842.95,713.53 L845.64,713.79 L848.33,714.04 L851.02,714.31 L853.71,714.58 L856.41,714.85 L859.10,715.13 L861.79,715.40 L864.48,715.40 L867.17,715.40 L869.86,715.40 L872.55,715.40 L875.24,715.40 L877.93,715.40 L880.63,715.40 L883.32,715.40 L886.01,715.40 L888.70,715.40 L891.39,715.40 L894.08,715.40 L896.77,715.40 L899.46,715.40 L902.16,715.40 L904.85,715.40 L907.54,715.40 L910.23,715.40 L912.92,715.40 L915.61,715.40 L918.30,715.40 L920.99,715.40 L923.68,715.40 L926.38,715.40 L929.07,715.40 L931.76,715.40 L934.45,715.40 L937.14,715.40 L939.83,715.40 L942.52,715.40 L945.21,715.40 L947.90,715.40 L950.60,715.40 L953.29,715.40 L955.98,715.40 L958.67,715.40 L961.36,715.40 L964.05,715.40 L966.74,715.40 L969.43,715.40 L972.13,715.40 L974.82,715.40 L977.51,715.40 L980.20,715.40 L982.89,715.40 L985.58,715.40 L988.27,715.40 L990.96,715.40 L993.65,715.40 L996.35,715.40 L999.04,715.40 L1001.73,715.40 L1004.42,715.40 L1007.11,715.40 L1009.80,715.40 L1012.49,715.40 L1015.18,715.40 L1017.87,715.40 L1020.57,715.40 L1023.26,715.40 L1025.95,715.40 L1028.64,715.40 L1031.33,715.40 L1034.02,715.40 L1036.71,715.40 L1039.40,715.40 L1042.10,715.40 L1044.79,715.40 L1047.48,715.40 L1050.17,715.40 L1052.86,715.40 L1055.55,715.40 L1058.24,715.40 L1060.93,715.40 L1063.62,715.40 L1066.32,715.40 L1069.01,715.40 L1071.70,715.40 L1074.39,715.40 L1077.08,715.40 L1079.77,715.40 L1082.46,715.40 L1085.15,715.40 L1087.84,715.40 L1090.54,715.40 L1093.23,715.40 L1095.92,715.40 L1098.61,715.40 L1101.30,715.40 L1103.99,715.40 L1106.68,715.40 L1109.37,715.40 L1112.07,715.40 L1114.76,715.40 L1117.45,715.40 L1120.14,715.40 L1122.83,715.40 L1125.52,715.40 L1128.21,715.40 L1130.90,715.40 L1133.59,715.40 L1136.29,715.40 L1138.98,715.40 L1141.67,715.40 L1144.36,715.40 L1147.05,715.40 L1149.74,715.40 L1152.43,715.40 L1155.12,715.40 L1157.81,715.40 L1160.51,715.40 L1163.20,715.40 L1165.89,715.40 L1168.58,715.40 L1171.27,715.40 L1173.96,715.40 L1176.65,715.40 L1179.34,715.40 L1182.04,715.40 L1184.73,715.40 L1187.42,715.40 L1190.11,715.40 L1192.80,715.40 L1195.49,715.40 L1198.18,715.40 L1200.87,715.40 L1203.56,715.40 L1206.26,715.40 L1208.95,715.40 L1211.64,715.40 L1214.33,715.40 L1217.02,715.40 L1219.71,715.40 L1222.40,715.40 L1225.09,715.40 L1227.78,715.40 L1230.48,715.40 L1233.17,715.40 L1235.86,715.40 L1238.55,715.40 L1241.24,715.40 L1243.93,715.40 L1246.62,715.40 L1249.31,715.40 L1252.01,715.40 L1254.70,715.40 L1257.39,715.40 L1260.08,715.40 L1262.77,715.40 L1265.46,715.40 L1268.15,715.40 L1270.84,715.40 L1273.53,715.40 L1276.23,715.40 L1278.92,715.40 L1281.61,715.40 L1284.30,715.40 L1286.99,715.40 L1289.68,715.40 L1292.37,715.40 L1295.06,715.40 L1297.75,715.40 L1300.45,715.40 L1303.14,715.40 L1305.83,715.40 L1308.52,715.40 L1311.21,715.40 L1313.90,715.40 L1316.59,715.40 L1319.28,715.40 L1321.97,715.40 L1324.67,715.40 L1327.36,715.40 L1330.05,715.40 L1332.74,715.40 L1335.43,715.40 L1338.12,715.40 L1340.81,715.40 L1343.50,715.40 L1346.20,715.40 L1348.89,715.40 L1351.58,715.40 L1354.27,715.40 L1356.96,715.40 L1359.65,715.40 L1362.34,715.40 L1365.03,715.40 L1367.72,715.40 L1370.42,715.40 L1373.11,715.40 L1375.80,715.40 L1378.49,715.40 L1381.18,715.40 L1383.87,715.40 L1386.56,715.40 L1389.25,715.40 L1391.94,715.40 L1394.64,715.40 L1397.33,715.40 L1400.02,715.40 L1402.71,715.40 L1405.40,715.40 L1408.09,715.40 L1410.78,715.40 L1413.47,715.40 L1416.17,715.40 L1418.86,715.40 L1421.55,715.40 L1424.24,715.40 L1426.93,715.40 L1429.62,715.40 L1432.31,715.40 L1435.00,715.40 L1437.69,715.40 L1440.39,715.40 L1443.08,715.40 L1445.77,715.40 L1448.46,715.40 L1451.15,715.40 L1453.84,715.40 L1456.53,715.40 L1459.22,715.40 L1461.91,715.40 L1464.61,715.40 L1467.30,715.40 L1469.99,715.40 L1472.68,715.40 L1475.37,715.40 L1478.06,715.40 L1480.75,715.40 L1483.44,715.40 L1486.14,715.40 L1488.83,715.40 L1491.52,715.40 L1494.21,715.40 L1496.90,715.40 L1499.59,715.40 L1502.28,715.40 L1504.97,715.40 L1507.66,715.40 L1510.36,715.40 L1513.05,715.40 L1515.74,715.40 L1518.43,715.40 L1521.12,715.40 L1523.81,715.40 L1526.50,715.40 L1529.19,715.40 L1531.88,715.40 L1534.58,715.40 L1537.27,715.40 L1539.96,715.40 L1542.65,715.40 L1545.34,715.40 L1548.03,715.40 L1550.72,715.40 L1553.41,715.40 L1556.11,715.40 L1558.80,715.40 L1561.49,715.40 L1564.18,715.40 L1566.87,715.40 L1569.56,715.40 L1572.25,715.40 L1574.94,715.40 L1577.63,715.40 L1580.33,715.40 L1583.02,715.40 L1585.71,715.40 L1588.40,715.40 L1591.09,715.40 L1593.78,715.40 L1596.47,715.40 L1599.16,715.40 L1601.85,715.40 L1604.55,715.40 L1607.24,715.40 L1609.93,715.40 L1612.62,715.40 L1615.31,715.40 L1618.00,715.40 L1620.69,715.40 L1623.38,715.40 L1626.08,715.40 L1628.77,715.40 L1631.46,715.40 L1634.15,715.40 L1636.84,715.40 L1639.53,715.40 L1642.22,715.40 L1644.91,715.40 L1647.60,715.40 L1650.30,715.40 L1652.99,715.40 L1655.68,715.40 L1658.37,715.40 L1661.06,715.40 L1663.75,715.40 L1666.44,715.40 L1669.13,715.40 L1671.82,715.40 L1674.52,715.40 L1677.21,715.40 L1679.90,715.40 L1682.59,715.40 L1685.28,715.40 L1687.97,715.40 L1690.66,715.40 L1693.35,715.40 L1696.05,715.40 L1698.74,715.40 L1701.43,715.40 L1704.12,715.40 L1706.81,715.40 L1709.50,715.40 L1712.19,715.40 L1714.88,715.40 L1717.57,715.40 L1720.27,715.40 L1722.96,715.40 L1725.65,715.40 L1728.34,715.40 L1731.03,715.40 L1733.72,715.40 L1736.41,715.40 L1739.10,715.40 L1741.79,715.40 L1744.49,715.40 L1747.18,715.40 L1749.87,715.40 L1752.56,715.40 L1755.25,715.40 L1757.94,715.40 L1760.63,715.40 L1763.32,715.40 L1766.02,715.40 L1768.71,715.40 L1771.40,715.40 L1774.09,715.40 L1776.78,715.40 L1779.47,715.40 L1782.16,715.40 L1784.85,715.40 L1787.54,715.40 L1790.24,715.40 L1792.93,715.40 L1795.62,715.40 L1798.31,715.40 L1801.00,715.40"/>
<path d="M189.00,700.57 L191.69,700.57 L194.38,700.57 L197.07,700.57 L199.76,700.58 L202.46,700.58 L205.15,700.58 L207.84,700.58 L210.53,700.58 L213.22,700.59 L215.91,700.59 L218.60,700.59 L221.29,700.60 L223.98,700.60 L226.68,700.60 L229.37,700.60 L232.06,700.61 L234.75,700.61 L237.44,700.61 L240.13,700.62 L242.82,700.62 L245.51,700.62 L248.21,700.63 L250.90,700.63 L253.59,700.63 L256.28,700.64 L258.97,700.64 L261.66,700.64 L264.35,700.65 L267.04,700.65 L269.73,700.65 L272.43,700.66 L275.12,700.66 L277.81,700.67 L280.50,700.67 L283.19,700.67 L285.88,700.68 L288.57,700.68 L291.26,700.69 L293.95,700.69 L296.65,700.70 L299.34,700.70 L302.03,700.71 L304.72,700.71 L307.41,700.72 L310.10,700.72 L312.79,700.73 L315.48,700.73 L318.18,700.74 L320.87,700.74 L323.56,700.75 L326.25,700.75 L328.94,700.76 L331.63,700.77 L334.32,700.77 L337.01,700.78 L339.70,700.79 L342.40,700.79 L345.09,700.80 L347.78,700.80 L350.47,700.81 L353.16,700.82 L355.85,700.83 L358.54,700.83 L361.23,700.84 L363.92,700.85 L366.62,700.86 L369.31,700.86 L372.00,700.87 L374.69,700.88 L377.38,700.89 L380.07,700.90 L382.76,700.90 L385.45,700.91 L388.15,700.92 L390.84,700.93 L393.53,700.94 L396.22,700.95 L398.91,700.96 L401.60,700.97 L404.29,700.98 L406.98,700.99 L409.67,701.00 L412.37,701.01 L415.06,701.02 L417.75,701.03 L420.44,701.04 L423.13,701.06 L425.82,701.07 L428.51,701.08 L431.20,701.09 L433.89,701.10 L436.59,701.12 L439.28,701.13 L441.97,701.14 L444.66,701.16 L447.35,701.17 L450.04,701.18 L452.73,701.20 L455.42,701.21 L458.12,701.23 L460.81,701.24 L463.50,701.26 L466.19,701.27 L468.88,701.29 L471.57,701.30 L474.26,701.32 L476.95,701.34 L479.64,701.36 L482.34,701.37 L485.03,701.39 L487.72,701.41 L490.41,701.43 L493.10,701.45 L495.79,701.47 L498.48,701.49 L501.17,701.51 L503.86,701.53 L506.56,701.55 L509.25,701.57 L511.94,701.59 L514.63,701.61 L517.32,701.63 L520.01,701.66 L522.70,701.68 L525.39,701.70 L528.09,701.73 L530.78,701.75 L533.47,701.78 L536.16,701.80 L538.85,701.83 L541.54,701.86 L544.23,701.88 L546.92,701.91 L549.61,701.94 L552.31,701.97 L555.00,702.00 L557.69,702.03 L560.38,702.06 L563.07,702.09 L565.76,702.12 L568.45,702.15 L571.14,702.19 L573.83,702.22 L576.53,702.26 L579.22,702.29 L581.91,702.33 L584.60,702.36 L587.29,702.40 L589.98,702.44 L592.67,702.48 L595.36,702.52 L598.06,702.56 L600.75,702.60 L603.44,702.64 L606.13,702.68 L608.82,702.72 L611.51,702.77 L614.20,702.81 L616.89,702.86 L619.58,702.91 L622.28,702.95 L624.97,703.00 L627.66,703.05 L630.35,703.10 L633.04,703.15 L635.73,703.20 L638.42,703.26 L641.11,703.31 L643.80,703.37 L646.50,703.42 L649.19,703.48 L651.88,703.54 L654.57,703.60 L657.26,703.66 L659.95,703.72 L662.64,703.79 L665.33,703.85 L668.03,703.92 L670.72,703.99 L673.41,704.05 L676.10,704.12 L678.79,704.20 L681.48,704.27 L684.17,704.34 L686.86,704.42 L689.55,704.49 L692.25,704.57 L694.94,704.65 L697.63,704.73 L700.32,704.82 L703.01,704.90 L705.70,704.99 L708.39,705.08 L711.08,705.17 L713.77,705.26 L716.47,705.35 L719.16,705.45 L721.85,705.54 L724.54,705.64 L727.23,705.74 L729.92,705.85 L732.61,705.95 L735.30,706.06 L737.99,706.17 L740.69,706.28 L743.38,706.39 L746.07,706.50 L748.76,706.62 L751.45,706.74 L754.14,706.86 L756.83,706.99 L759.52,707.11 L762.22,707.24 L764.91,707.38 L767.60,707.51 L770.29,707.65 L772.98,707.79 L775.67,707.93 L778.36,708.07 L781.05,708.22 L783.74,708.37 L786.44,708.53 L789.13,708.68 L791.82,708.84 L794.51,709.01 L797.20,709.17 L799.89,709.34 L802.58,709.51 L805.27,709.69 L807.96,709.87 L810.66,710.05 L813.35,710.24 L816.04,710.43 L818.73,710.62 L821.42,710.82 L824.11,711.02 L826.80,711.22 L829.49,711.43 L832.19,711.65 L834.88,711.86 L837.57,712.09 L840.26,712.31 L842.95,712.54 L845.64,712.78 L848.33,713.01 L851.02,713.26 L853.71,713.51 L856.41,713.76 L859.10,714.02 L861.79,714.28 L864.48,714.55 L867.17,714.82 L869.86,715.10 L872.55,715.39 L875.24,715.40 L877.93,715.40 L880.63,715.40 L883.32,715.40 L886.01,715.40 L888.70,715.40 L891.39,715.40 L894.08,715.40 L896.77,715.40 L899.46,715.40 L902.16,715.40 L904.85,715.40 L907.54,715.40 L910.23,715.40 L912.92,715.40 L915.61,715.40 L918.30,715.40 L920.99,715.40 L923.68,715.40 L926.38,715.40 L929.07,715.40 L931.76,715.40 L934.45,715.40 L937.14,715.40 L939.83,715.40 L942.52,715.40 L945.21,715.40 L947.90,715.40 L950.60,715.40 L953.29,715.40 L955.98,715.40 L958.67,715.40 L961.36,715.40 L964.05,715.40 L966.74,715.40 L969.43,715.40 L972.13,715.40 L974.82,715.40 L977.51,715.40 L980.20,715.40 L982.89,715.40 L985.58,715.40 L988.27,715.40 L990.96,715.40 L993.65,715.40 L996.35,715.40 L999.04,715.40 L1001.73,715.40 L1004.42,715.40 L1007.11,715.40 L1009.80,715.40 L1012.49,715.40 L1015.18,715.40 L1017.87,715.40 L1020.57,715.40 L1023.26,715.40 L1025.95,715.40 L1028.64,715.40 L1031.33,715.40 L1034.02,715.40 L1036.71,715.40 L1039.40,715.40 L1042.10,715.40 L1044.79,715.40 L1047.48,715.40 L1050.17,715.40 L1052.86,715.40 L1055.55,715.40 L1058.24,715.40 L1060.93,715.40 L1063.62,715.40 L1066.32,715.40 L1069.01,715.40 L1071.70,715.40 L1074.39,715.40 L1077.08,715.40 L1079.77,715.40 L1082.46,715.40 L1085.15,715.40 L1087.84,715.40 L1090.54,715.40 L1093.23,715.40 L1095.92,715.40 L1098.61,715.40 L1101.30,715.40 L1103.99,715.40 L1106.68,715.40 L1109.37,715.40 L1112.07,715.40 L1114.76,715.40 L1117.45,715.40 L1120.14,715.40 L1122.83,715.40 L1125.52,715.40 L1128.21,715.40 L1130.90,715.40 L1133.59,715.40 L1136.29,715.40 L1138.98,715.40 L1141.67,715.40 L1144.36,715.40 L1147.05,715.40 L1149.74,715.40 L1152.43,715.40 L1155.12,715.40 L1157.81,715.40 L1160.51,715.40 L1163.20,715.40 L1165.89,715.40 L1168.58,715.40 L1171.27,715.40 L1173.96,715.40 L1176.65,715.40 L1179.34,715.40 L1182.04,715.40 L1184.73,715.40 L1187.42,715.40 L1190.11,715.40 L1192.80,715.40 L1195.49,715.40 L1198.18,715.40 L1200.87,715.40 L1203.56,715.40 L1206.26,715.40 L1208.95,715.40 L1211.64,715.40 L1214.33,715.40 L1217.02,715.40 L1219.71,715.40 L1222.40,715.40 L1225.09,715.40 L1227.78,715.40 L1230.48,715.40 L1233.17,715.40 L1235.86,715.40 L1238.55,715.40 L1241.24,715.40 L1243.93,715.40 L1246.62,715.40 L1249.31,715.40 L1252.01,715.40 L1254.70,715.40 L1257.39,715.40 L1260.08,715.40 L1262.77,715.40 L1265.46,715.40 L1268.15,715.40 L1270.84,715.40 L1273.53,715.40 L1276.23,715.40 L1278.92,715.40 L1281.61,715.40 L1284.30,715.40 L1286.99,715.40 L1289.68,715.40 L1292.37,715.40 L1295.06,715.40 L1297.75,715.40 L1300.45,715.40 L1303.14,715.40 L1305.83,715.40 L1308.52,715.40 L1311.21,715.40 L1313.90,715.40 L1316.59,715.40 L1319.28,715.40 L1321.97,715.40 L1324.67,715.40 L1327.36,715.40 L1330.05,715.40 L1332.74,715.40 L1335.43,715.40 L1338.12,715.40 L1340.81,715.40 L1343.50,715.40 L1346.20,715.40 L1348.89,715.40 L1351.58,715.40 L1354.27,715.40 L1356.96,715.40 L1359.65,715.40 L1362.34,715.40 L1365.03,715.40 L1367.72,715.40 L1370.42,715.40 L1373.11,715.40 L1375.80,715.40 L1378.49,715.40 L1381.18,715.40 L1383.87,715.40 L1386.56,715.40 L1389.25,715.40 L1391.94,715.40 L1394.64,715.40 L1397.33,715.40 L1400.02,715.40 L1402.71,715.40 L1405.40,715.40 L1408.09,715.40 L1410.78,715.40 L1413.47,715.40 L1416.17,715.40 L1418.86,715.40 L1421.55,715.40 L1424.24,715.40 L1426.93,715.40 L1429.62,715.40 L1432.31,715.40 L1435.00,715.40 L1437.69,715.40 L1440.39,715.40 L1443.08,715.40 L1445.77,715.40 L1448.46,715.40 L1451.15,715.40 L1453.84,715.40 L1456.53,715.40 L1459.22,715.40 L1461.91,715.40 L1464.61,715.40 L1467.30,715.40 L1469.99,715.40 L1472.68,715.40 L1475.37,715.40 L1478.06,715.40 L1480.75,715.40 L1483.44,715.40 L1486.14,715.40 L1488.83,715.40 L1491.52,715.40 L1494.21,715.40 L1496.90,715.40 L1499.59,715.40 L1502.28,715.40 L1504.97,715.40 L1507.66,715.40 L1510.36,715.40 L1513.05,715.40 L1515.74,715.40 L1518.43,715.40 L1521.12,715.40 L1523.81,715.40 L1526.50,715.40 L1529.19,715.40 L1531.88,715.40 L1534.58,715.40 L1537.27,715.40 L1539.96,715.40 L1542.65,715.40 L1545.34,715.40 L1548.03,715.40 L1550.72,715.40 L1553.41,715.40 L1556.11,715.40 L1558.80,715.40 L1561.49,715.40 L1564.18,715.40 L1566.87,715.40 L1569.56,715.40 L1572.25,715.40 L1574.94,715.40 L1577.63,715.40 L1580.33,715.40 L1583.02,715.40 L1585.71,715.40 L1588.40,715.40 L1591.09,715.40 L1593.78,715.40 L1596.47,715.40 L1599.16,715.40 L1601.85,715.40 L1604.55,715.40 L1607.24,715.40 L1609.93,715.40 L1612.62,715.40 L1615.31,715.40 L1618.00,715.40 L1620.69,715.40 L1623.38,715.40 L1626.08,715.40 L1628.77,715.40 L1631.46,715.40 L1634.15,715.40 L1636.84,715.40 L1639.53,715.40 L1642.22,715.40 L1644.91,715.40 L1647.60,715.40 L1650.30,715.40 L1652.99,715.40 L1655.68,715.40 L1658.37,715.40 L1661.06,715.40 L1663.75,715.40 L1666.44,715.40 L1669.13,715.40 L1671.82,715.40 L1674.52,715.40 L1677.21,715.40 L1679.90,715.40 L1682.59,715.40 L1685.28,715.40 L1687.97,715.40 L1690.66,715.40 L1693.35,715.40 L1696.05,715.40 L1698.74,715.40 L1701.43,715.40 L1704.12,715.40 L1706.81,715.40 L1709.50,715.40 L1712.19,715.40 L1714.88,715.40 L1717.57,715.40 L1720.27,715.40 L1722.96,715.40 L1725.65,715.40 L1728.34,715.40 L1731.03,715.40 L1733.72,715.40 L1736.41,715.40 L1739.10,715.40 L1741.79,715.40 L1744.49,715.40 L1747.18,715.40 L1749.87,715.40 L1752.56,715.40 L1755.25,715.40 L1757.94,715.40 L1760.63,715.40 L1763.32,715.40 L1766.02,715.40 L1768.71,715.40 L1771.40,715.40 L1774.09,715.40 L1776.78,715.40 L1779.47,715.40 L1782.16,715.40 L1784.85,715.40 L1787.54,715.40 L1790.24,715.40 L1792.93,715.40 L1795.62,715.40 L1798.31,715.40 L1801.00,715.40"/>
<path d="M189.00,706.96 L191.69,706.96 L194.38,706.96 L197.07,706.96 L199.76,706.97 L202.46,706.97 L205.15,706.97 L207.84,706.97 L210.53,706.97 L213.22,706.98 L215.91,706.98 L218.60,706.98 L221.29,706.98 L223.98,706.99 L226.68,706.99 L229.37,706.99 L232.06,707.00 L234.75,707.00 L237.44,707.00 L240.13,707.00 L242.82,707.01 L245.51,707.01 L248.21,707.01 L250.90,707.02 L253.59,707.02 L256.28,707.02 L258.97,707.03 L261.66,707.03 L264.35,707.03 L267.04,707.04 L269.73,707.04 L272.43,707.04 L275.12,707.05 L277.81,707.05 L280.50,707.06 L283.19,707.06 L285.88,707.06 L288.57,707.07 L291.26,707.07 L293.95,707.08 L296.65,707.08 L299.34,707.08 L302.03,707.09 L304.72,707.09 L307.41,707.10 L310.10,707.10 L312.79,707.11 L315.48,707.11 L318.18,707.12 L320.87,707.12 L323.56,707.13 L326.25,707.13 L328.94,707.14 L331.63,707.15 L334.32,707.15 L337.01,707.16 L339.70,707.16 L342.40,707.17 L345.09,707.18 L347.78,707.18 L350.47,707.19 L353.16,707.19 L355.85,707.20 L358.54,707.21 L361.23,707.22 L363.92,707.22 L366.62,707.23 L369.31,707.24 L372.00,707.24 L374.69,707.25 L377.38,707.26 L380.07,707.27 L382.76,707.28 L385.45,707.28 L388.15,707.29 L390.84,707.30 L393.53,707.31 L396.22,707.32 L398.91,707.33 L401.60,707.34 L404.29,707.35 L406.98,707.36 L409.67,707.37 L412.37,707.38 L415.06,707.39 L417.75,707.40 L420.44,707.41 L423.13,707.42 L425.82,707.43 L428.51,707.44 L431.20,707.45 L433.89,707.46 L436.59,707.48 L439.28,707.49 L441.97,707.50 L444.66,707.51 L447.35,707.53 L450.04,707.54 L452.73,707.55 L455.42,707.57 L458.12,707.58 L460.81,707.59 L463.50,707.61 L466.19,707.62 L468.88,707.64 L471.57,707.65 L474.26,707.67 L476.95,707.69 L479.64,707.70 L482.34,707.72 L485.03,707.74 L487.72,707.75 L490.41,707.77 L493.10,707.79 L495.79,707.81 L498.48,707.82 L501.17,707.84 L503.86,707.86 L506.56,707.88 L509.25,707.90 L511.94,707.92 L514.63,707.94 L517.32,707.96 L520.01,707.99 L522.70,708.01 L525.39,708.03 L528.09,708.05 L530.78,708.08 L533.47,708.10 L536.16,708.13 L538.85,708.15 L541.54,708.18 L544.23,708.20 L546.92,708.23 L549.61,708.25 L552.31,708.28 L555.00,708.31 L557.69,708.34 L560.38,708.37 L563.07,708.40 L565.76,708.43 L568.45,708.46 L571.14,708.49 L573.83,708.52 L576.53,708.55 L579.22,708.58 L581.91,708.62 L584.60,708.65 L587.29,708.69 L589.98,708.72 L592.67,708.76 L595.36,708.80 L598.06,708.83 L600.75,708.87 L603.44,708.91 L606.13,708.95 L608.82,708.99 L611.51,709.03 L614.20,709.08 L616.89,709.12 L619.58,709.16 L622.28,709.21 L624.97,709.25 L627.66,709.30 L630.35,709.35 L633.04,709.40 L635.73,709.45 L638.42,709.50 L641.11,709.55 L643.80,709.60 L646.50,709.65 L649.19,709.71 L651.88,709.76 L654.57,709.82 L657.26,709.88 L659.95,709.94 L662.64,710.00 L665.33,710.06 L668.03,710.12 L670.72,710.18 L673.41,710.25 L676.10,710.32 L678.79,710.38 L681.48,710.45 L684.17,710.52 L686.86,710.59 L689.55,710.66 L692.25,710.74 L694.94,710.81 L697.63,710.89 L700.32,710.97 L703.01,711.05 L705.70,711.13 L708.39,711.21 L711.08,711.30 L713.77,711.39 L716.47,711.47 L719.16,711.56 L721.85,711.65 L724.54,711.75 L727.23,711.84 L729.92,711.94 L732.61,712.04 L735.30,712.14 L737.99,712.24 L740.69,712.35 L743.38,712.45 L746.07,712.56 L748.76,712.67 L751.45,712.79 L754.14,712.90 L756.83,713.02 L759.52,713.14 L762.22,713.26 L764.91,713.38 L767.60,713.51 L770.29,713.64 L772.98,713.77 L775.67,713.91 L778.36,714.04 L781.05,714.18 L783.74,714.33 L786.44,714.47 L789.13,714.62 L791.82,714.77 L794.51,714.92 L797.20,715.08 L799.89,715.24 L802.58,715.40 L805.27,715.40 L807.96,715.40 L810.66,715.40 L813.35,715.40 L816.04,715.40 L818.73,715.40 L821.42,715.40 L824.11,715.40 L826.80,715.40 L829.49,715.40 L832.19,715.40 L834.88,715.40 L837.57,715.40 L840.26,715.40 L842.95,715.40 L845.64,715.40 L848.33,715.40 L851.02,715.40 L853.71,715.40 L856.41,715.40 L859.10,715.40 L861.79,715.40 L864.48,715.40 L867.17,715.40 L869.86,715.40 L872.55,715.40 L875.24,715.40 L877.93,715.40 L880.63,715.40 L883.32,715.40 L886.01,715.40 L888.70,715.40 L891.39,715.40 L894.08,715.40 L896.77,715.40 L899.46,715.40 L902.16,715.40 L904.85,715.40 L907.54,715.40 L910.23,715.40 L912.92,715.40 L915.61,715.40 L918.30,715.40 L920.99,715.40 L923.68,715.40 L926.38,715.40 L929.07,715.40 L931.76,715.40 L934.45,715.40 L937.14,715.40 L939.83,715.40 L942.52,715.40 L945.21,715.40 L947.90,715.40 L950.60,715.40 L953.29,715.40 L955.98,715.40 L958.67,715.40 L961.36,715.40 L964.05,715.40 L966.74,715.40 L969.43,715.40 L972.13,715.40 L974.82,715.40 L977.51,715.40 L980.20,715.40 L982.89,715.40 L985.58,715.40 L988.27,715.40 L990.96,715.40 L993.65,715.40 L996.35,715.40 L999.04,715.40 L1001.73,715.40 L1004.42,715.40 L1007.11,715.40 L1009.80,715.40 L1012.49,715.40 L1015.18,715.40 L1017.87,715.40 L1020.57,715.40 L1023.26,715.40 L1025.95,715.40 L1028.64,715.40 L1031.33,715.40 L1034.02,715.40 L1036.71,715.40 L1039.40,715.40 L1042.10,715.40 L1044.79,715.40 L1047.48,715.40 L1050.17,715.40 L1052.86,715.40 L1055.55,715.40 L1058.24,715.40 L1060.93,715.40 L1063.62,715.40 L1066.32,715.40 L1069.01,715.40 L1071.70,715.40 L1074.39,715.40 L1077.08,715.40 L1079.77,715.40 L1082.46,715.40 L1085.15,715.40 L1087.84,715.40 L1090.54,715.40 L1093.23,715.40 L1095.92,715.40 L1098.61,715.40 L1101.30,715.40 L1103.99,715.40 L1106.68,715.40 L1109.37,715.40 L1112.07,715.40 L1114.76,715.40 L1117.45,715.40 L1120.14,715.40 L1122.83,715.40 L1125.52,715.40 L1128.21,715.40 L1130.90,715.40 L1133.59,715.40 L1136.29,715.40 L1138.98,715.40 L1141.67,715.40 L1144.36,715.40 L1147.05,715.40 L1149.74,715.40 L1152.43,715.40 L1155.12,715.40 L1157.81,715.40 L1160.51,715.40 L1163.20,715.40 L1165.89,715.40 L1168.58,715.40 L1171.27,715.40 L1173.96,715.40 L1176.65,715.40 L1179.34,715.40 L1182.04,715.40 L1184.73,715.40 L1187.42,715.40 L1190.11,715.40 L1192.80,715.40 L1195.49,715.40 L1198.18,715.40 L1200.87,715.40 L1203.56,715.40 L1206.26,715.40 L1208.95,715.40 L1211.64,715.40 L1214.33,715.40 L1217.02,715.40 L1219.71,715.40 L1222.40,715.40 L1225.09,715.40 L1227.78,715.40 L1230.48,715.40 L1233.17,715.40 L1235.86,715.40 L1238.55,715.40 L1241.24,715.40 L1243.93,715.40 L1246.62,715.40 L1249.31,715.40 L1252.01,715.40 L1254.70,715.40 L1257.39,715.40 L1260.08,715.40 L1262.77,715.40 L1265.46,715.40 L1268.15,715.40 L1270.84,715.40 L1273.53,715.40 L1276.23,715.40 L1278.92,715.40 L1281.61,715.40 L1284.30,715.40 L1286.99,715.40 L1289.68,715.40 L1292.37,715.40 L1295.06,715.40 L1297.75,715.40 L1300.45,715.40 L1303.14,715.40 L1305.83,715.40 L1308.52,715.40 L1311.21,715.40 L1313.90,715.40 L1316.59,715.40 L1319.28,715.40 L1321.97,715.40 L1324.67,715.40 L1327.36,715.40 L1330.05,715.40 L1332.74,715.40 L1335.43,715.40 L1338.12,715.40 L1340.81,715.40 L1343.50,715.40 L1346.20,715.40 L1348.89,715.40 L1351.58,715.40 L1354.27,715.40 L1356.96,715.40 L1359.65,715.40 L1362.34,715.40 L1365.03,715.40 L1367.72,715.40 L1370.42,715.40 L1373.11,715.40 L1375.80,715.40 L1378.49,715.40 L1381.18,715.40 L1383.87,715.40 L1386.56,715.40 L1389.25,715.40 L1391.94,715.40 L1394.64,715.40 L1397.33,715.40 L1400.02,715.40 L1402.71,715.40 L1405.40,715.40 L1408.09,715.40 L1410.78,715.40 L1413.47,715.40 L1416.17,715.40 L1418.86,715.40 L1421.55,715.40 L1424.24,715.40 L1426.93,715.40 L1429.62,715.40 L1432.31,715.40 L1435.00,715.40 L1437.69,715.40 L1440.39,715.40 L1443.08,715.40 L1445.77,715.40 L1448.46,715.40 L1451.15,715.40 L1453.84,715.40 L1456.53,715.40 L1459.22,715.40 L1461.91,715.40 L1464.61,715.40 L1467.30,715.40 L1469.99,715.40 L1472.68,715.40 L1475.37,715.40 L1478.06,715.40 L1480.75,715.40 L1483.44,715.40 L1486.14,715.40 L1488.83,715.40 L1491.52,715.40 L1494.21,715.40 L1496.90,715.40 L1499.59,715.40 L1502.28,715.40 L1504.97,715.40 L1507.66,715.40 L1510.36,715.40 L1513.05,715.40 L1515.74,715.40 L1518.43,715.40 L1521.12,715.40 L1523.81,715.40 L1526.50,715.40 L1529.19,715.40 L1531.88,715.40 L1534.58,715.40 L1537.27,715.40 L1539.96,715.40 L1542.65,715.40 L1545.34,715.40 L1548.03,715.40 L1550.72,715.40 L1553.41,715.40 L1556.11,715.40 L1558.80,715.40 L1561.49,715.40 L1564.18,715.40 L1566.87,715.40 L1569.56,715.40 L1572.25,715.40 L1574.94,715.40 L1577.63,715.40 L1580.33,715.40 L1583.02,715.40 L1585.71,715.40 L1588.40,715.40 L1591.09,715.40 L1593.78,715.40 L1596.47,715.40 L1599.16,715.40 L1601.85,715.40 L1604.55,715.40 L1607.24,715.40 L1609.93,715.40 L1612.62,715.40 L1615.31,715.40 L1618.00,715.40 L1620.69,715.40 L1623.38,715.40 L1626.08,715.40 L1628.77,715.40 L1631.46,715.40 L1634.15,715.40 L1636.84,715.40 L1639.53,715.40 L1642.22,715.40 L1644.91,715.40 L1647.60,715.40 L1650.30,715.40 L1652.99,715.40 L1655.68,715.40 L1658.37,715.40 L1661.06,715.40 L1663.75,715.40 L1666.44,715.40 L1669.13,715.40 L1671.82,715.40 L1674.52,715.40 L1677.21,715.40 L1679.90,715.40 L1682.59,715.40 L1685.28,715.40 L1687.97,715.40 L1690.66,715.40 L1693.35,715.40 L1696.05,715.40 L1698.74,715.40 L1701.43,715.40 L1704.12,715.40 L1706.81,715.40 L1709.50,715.40 L1712.19,715.40 L1714.88,715.40 L1717.57,715.40 L1720.27,715.40 L1722.96,715.40 L1725.65,715.40 L1728.34,715.40 L1731.03,715.40 L1733.72,715.40 L1736.41,715.40 L1739.10,715.40 L1741.79,715.40 L1744.49,715.40 L1747.18,715.40 L1749.87,715.40 L1752.56,715.40 L1755.25,715.40 L1757.94,715.40 L1760.63,715.40 L1763.32,715.40 L1766.02,715.40 L1768.71,715.40 L1771.40,715.40 L1774.09,715.40 L1776.78,715.40 L1779.47,715.40 L1782.16,715.40 L1784.85,715.40 L1787.54,715.40 L1790.24,715.40 L1792.93,715.40 L1795.62,715.40 L1798.31,715.40 L1801.00,715.40"/>
<path d="M189.00,706.87 L191.69,706.87 L194.38,706.88 L197.07,706.88 L199.76,706.88 L202.46,706.88 L205.15,706.88 L207.84,706.88 L210.53,706.89 L213.22,706.89 L215.91,706.89 L218.60,706.89 L221.29,706.89 L223.98,706.90 L226.68,706.90 L229.37,706.90 L232.06,706.90 L234.75,706.91 L237.44,706.91 L240.13,706.91 L242.82,706.91 L245.51,706.92 L248.21,706.92 L250.90,706.92 L253.59,706.92 L256.28,706.93 L258.97,706.93 L261.66,706.93 L264.35,706.93 L267.04,706.94 L269.73,706.94 L272.43,706.94 L275.12,706.95 L277.81,706.95 L280.50,706.95 L283.19,706.96 L285.88,706.96 L288.57,706.96 L291.26,706.97 L293.95,706.97 L296.65,706.97 L299.34,706.98 L302.03,706.98 L304.72,706.98 L307.41,706.99 L310.10,706.99 L312.79,706.99 L315.48,707.00 L318.18,707.00 L320.87,707.01 L323.56,707.01 L326.25,707.02 L328.94,707.02 L331.63,707.02 L334.32,707.03 L337.01,707.03 L339.70,707.04 L342.40,707.04 L345.09,707.05 L347.78,707.05 L350.47,707.06 L353.16,707.06 L355.85,707.07 L358.54,707.08 L361.23,707.08 L363.92,707.09 L366.62,707.09 L369.31,707.10 L372.00,707.10 L374.69,707.11 L377.38,707.12 L380.07,707.12 L382.76,707.13 L385.45,707.14 L388.15,707.14 L390.84,707.15 L393.53,707.16 L396.22,707.16 L398.91,707.17 L401.60,707.18 L404.29,707.19 L406.98,707.20 L409.67,707.20 L412.37,707.21 L415.06,707.22 L417.75,707.23 L420.44,707.24 L423.13,707.24 L425.82,707.25 L428.51,707.26 L431.20,707.27 L433.89,707.28 L436.59,707.29 L439.28,707.30 L441.97,707.31 L444.66,707.32 L447.35,707.33 L450.04,707.34 L452.73,707.35 L455.42,707.36 L458.12,707.38 L460.81,707.39 L463.50,707.40 L466.19,707.41 L468.88,707.42 L471.57,707.43 L474.26,707.45 L476.95,707.46 L479.64,707.47 L482.34,707.49 L485.03,707.50 L487.72,707.51 L490.41,707.53 L493.10,707.54 L495.79,707.56 L498.48,707.57 L501.17,707.59 L503.86,707.60 L506.56,707.62 L509.25,707.63 L511.94,707.65 L514.63,707.67 L517.32,707.68 L520.01,707.70 L522.70,707.72 L525.39,707.74 L528.09,707.76 L530.78,707.78 L533.47,707.79 L536.16,707.81 L538.85,707.83 L541.54,707.85 L544.23,707.88 L546.92,707.90 L549.61,707.92 L552.31,707.94 L555.00,707.96 L557.69,707.99 L560.38,708.01 L563.07,708.03 L565.76,708.06 L568.45,708.08 L571.14,708.11 L573.83,708.13 L576.53,708.16 L579.22,708.18 L581.91,708.21 L584.60,708.24 L587.29,708.27 L589.98,708.30 L592.67,708.33 L595.36,708.36 L598.06,708.39 L600.75,708.42 L603.44,708.45 L606.13,708.48 L608.82,708.51 L611.51,708.55 L614.20,708.58 L616.89,708.62 L619.58,708.65 L622.28,708.69 L624.97,708.72 L627.66,708.76 L630.35,708.80 L633.04,708.84 L635.73,708.88 L638.42,708.92 L641.11,708.96 L643.80,709.00 L646.50,709.05 L649.19,709.09 L651.88,709.14 L654.57,709.18 L657.26,709.23 L659.95,709.28 L662.64,709.32 L665.33,709.37 L668.03,709.42 L670.72,709.47 L673.41,709.53 L676.10,709.58 L678.79,709.63 L681.48,709.69 L684.17,709.74 L686.86,709.80 L689.55,709.86 L692.25,709.92 L694.94,709.98 L697.63,710.04 L700.32,710.11 L703.01,710.17 L705.70,710.24 L708.39,710.30 L711.08,710.37 L713.77,710.44 L716.47,710.51 L719.16,710.58 L721.85,710.66 L724.54,710.73 L727.23,710.81 L729.92,710.89 L732.61,710.97 L735.30,711.05 L737.99,711.13 L740.69,711.22 L743.38,711.30 L746.07,711.39 L748.76,711.48 L751.45,711.57 L754.14,711.66 L756.83,711.76 L759.52,711.85 L762.22,711.95 L764.91,712.05 L767.60,712.15 L770.29,712.26 L772.98,712.37 L775.67,712.47 L778.36,712.58 L781.05,712.70 L783.74,712.81 L786.44,712.93 L789.13,713.05 L791.82,713.17 L794.51,713.29 L797.20,713.42 L799.89,713.55 L802.58,713.68 L805.27,713.81 L807.96,713.95 L810.66,714.09 L813.35,714.23 L816.04,714.37 L818.73,714.52 L821.42,714.67 L824.11,714.82 L826.80,714.98 L829.49,715.14 L832.19,715.30 L834.88,715.40 L837.57,715.40 L840.26,715.40 L842.95,715.40 L845.64,715.40 L848.33,715.40 L851.02,715.40 L853.71,715.40 L856.41,715.40 L859.10,715.40 L861.79,715.40 L864.48,715.40 L867.17,715.40 L869.86,715.40 L872.55,715.40 L875.24,715.40 L877.93,715.40 L880.63,715.40 L883.32,715.40 L886.01,715.40 L888.70,715.40 L891.39,715.40 L894.08,715.40 L896.77,715.40 L899.46,715.40 L902.16,715.40 L904.85,715.40 L907.54,715.40 L910.23,715.40 L912.92,715.40 L915.61,715.40 L918.30,715.40 L920.99,715.40 L923.68,715.40 L926.38,715.40 L929.07,715.40 L931.76,715.40 L934.45,715.40 L937.14,715.40 L939.83,715.40 L942.52,715.40 L945.21,715.40 L947.90,715.40 L950.60,715.40 L953.29,715.40 L955.98,715.40 L958.67,715.40 L961.36,715.40 L964.05,715.40 L966.74,715.40 L969.43,715.40 L972.13,715.40 L974.82,715.40 L977.51,715.40 L980.20,715.40 L982.89,715.40 L985.58,715.40 L988.27,715.40 L990.96,715.40 L993.65,715.40 L996.35,715.40 L999.04,715.40 L1001.73,715.40 L1004.42,715.40 L1007.11,715.40 L1009.80,715.40 L1012.49,715.40 L1015.18,715.40 L1017.87,715.40 L1020.57,715.40 L1023.26,715.40 L1025.95,715.40 L1028.64,715.40 L1031.33,715.40 L1034.02,715.40 L1036.71,715.40 L1039.40,715.40 L1042.10,715.40 L1044.79,715.40 L1047.48,715.40 L1050.17,715.40 L1052.86,715.40 L1055.55,715.40 L1058.24,715.40 L1060.93,715.40 L1063.62,715.40 L1066.32,715.40 L1069.01,715.40 L1071.70,715.40 L1074.39,715.40 L1077.08,715.40 L1079.77,715.40 L1082.46,715.40 L1085.15,715.40 L1087.84,715.40 L1090.54,715.40 L1093.23,715.40 L1095.92,715.40 L1098.61,715.40 L1101.30,715.40 L1103.99,715.40 L1106.68,715.40 L1109.37,715.40 L1112.07,715.40 L1114.76,715.40 L1117.45,715.40 L1120.14,715.40 L1122.83,715.40 L1125.52,715.40 L1128.21,715.40 L1130.90,715.40 L1133.59,715.40 L1136.29,715.40 L1138.98,715.40 L1141.67,715.40 L1144.36,715.40 L1147.05,715.40 L1149.74,715.40 L1152.43,715.40 L1155.12,715.40 L1157.81,715.40 L1160.51,715.40 L1163.20,715.40 L1165.89,715.40 L1168.58,715.40 L1171.27,715.40 L1173.96,715.40 L1176.65,715.40 L1179.34,715.40 L1182.04,715.40 L1184.73,715.40 L1187.42,715.40 L1190.11,715.40 L1192.80,715.40 L1195.49,715.40 L1198.18,715.40 L1200.87,715.40 L1203.56,715.40 L1206.26,715.40 L1208.95,715.40 L1211.64,715.40 L1214.33,715.40 L1217.02,715.40 L1219.71,715.40 L1222.40,715.40 L1225.09,715.40 L1227.78,715.40 L1230.48,715.40 L1233.17,715.40 L1235.86,715.40 L1238.55,715.40 L1241.24,715.40 L1243.93,715.40 L1246.62,715.40 L1249.31,715.40 L1252.01,715.40 L1254.70,715.40 L1257.39,715.40 L1260.08,715.40 L1262.77,715.40 L1265.46,715.40 L1268.15,715.40 L1270.84,715.40 L1273.53,715.40 L1276.23,715.40 L1278.92,715.40 L1281.61,715.40 L1284.30,715.40 L1286.99,715.40 L1289.68,715.40 L1292.37,715.40 L1295.06,715.40 L1297.75,715.40 L1300.45,715.40 L1303.14,715.40 L1305.83,715.40 L1308.52,715.40 L1311.21,715.40 L1313.90,715.40 L1316.59,715.40 L1319.28,715.40 L1321.97,715.40 L1324.67,715.40 L1327.36,715.40 L1330.05,715.40 L1332.74,715.40 L1335.43,715.40 L1338.12,715.40 L1340.81,715.40 L1343.50,715.40 L1346.20,715.40 L1348.89,715.40 L1351.58,715.40 L1354.27,715.40 L1356.96,715.40 L1359.65,715.40 L1362.34,715.40 L1365.03,715.40 L1367.72,715.40 L1370.42,715.40 L1373.11,715.40 L1375.80,715.40 L1378.49,715.40 L1381.18,715.40 L1383.87,715.40 L1386.56,715.40 L1389.25,715.40 L1391.94,715.40 L1394.64,715.40 L1397.33,715.40 L1400.02,715.40 L1402.71,715.40 L1405.40,715.40 L1408.09,715.40 L1410.78,715.40 L1413.47,715.40 L1416.17,715.40 L1418.86,715.40 L1421.55,715.40 L1424.24,715.40 L1426.93,715.40 L1429.62,715.40 L1432.31,715.40 L1435.00,715.40 L1437.69,715.40 L1440.39,715.40 L1443.08,715.40 L1445.77,715.40 L1448.46,715.40 L1451.15,715.40 L1453.84,715.40 L1456.53,715.40 L1459.22,715.40 L1461.91,715.40 L1464.61,715.40 L1467.30,715.40 L1469.99,715.40 L1472.68,715.40 L1475.37,715.40 L1478.06,715.40 L1480.75,715.40 L1483.44,715.40 L1486.14,715.40 L1488.83,715.40 L1491.52,715.40 L1494.21,715.40 L1496.90,715.40 L1499.59,715.40 L1502.28,715.40 L1504.97,715.40 L1507.66,715.40 L1510.36,715.40 L1513.05,715.40 L1515.74,715.40 L1518.43,715.40 L1521.12,715.40 L1523.81,715.40 L1526.50,715.40 L1529.19,715.40 L1531.88,715.40 L1534.58,715.40 L1537.27,715.40 L1539.96,715.40 L1542.65,715.40 L1545.34,715.40 L1548.03,715.40 L1550.72,715.40 L1553.41,715.40 L1556.11,715.40 L1558.80,715.40 L1561.49,715.40 L1564.18,715.40 L1566.87,715.40 L1569.56,715.40 L1572.25,715.40 L1574.94,715.40 L1577.63,715.40 L1580.33,715.40 L1583.02,715.40 L1585.71,715.40 L1588.40,715.40 L1591.09,715.40 L1593.78,715.40 L1596.47,715.40 L1599.16,715.40 L1601.85,715.40 L1604.55,715.40 L1607.24,715.40 L1609.93,715.40 L1612.62,715.40 L1615.31,715.40 L1618.00,715.40 L1620.69,715.40 L1623.38,715.40 L1626.08,715.40 L1628.77,715.40 L1631.46,715.40 L1634.15,715.40 L1636.84,715.40 L1639.53,715.40 L1642.22,715.40 L1644.91,715.40 L1647.60,715.40 L1650.30,715.40 L1652.99,715.40 L1655.68,715.40 L1658.37,715.40 L1661.06,715.40 L1663.75,715.40 L1666.44,715.40 L1669.13,715.40 L1671.82,715.40 L1674.52,715.40 L1677.21,715.40 L1679.90,715.40 L1682.59,715.40 L1685.28,715.40 L1687.97,715.40 L1690.66,715.40 L1693.35,715.40 L1696.05,715.40 L1698.74,715.40 L1701.43,715.40 L1704.12,715.40 L1706.81,715.40 L1709.50,715.40 L1712.19,715.40 L1714.88,715.40 L1717.57,715.40 L1720.27,715.40 L1722.96,715.40 L1725.65,715.40 L1728.34,715.40 L1731.03,715.40 L1733.72,715.40 L1736.41,715.40 L1739.10,715.40 L1741.79,715.40 L1744.49,715.40 L1747.18,715.40 L1749.87,715.40 L1752.56,715.40 L1755.25,715.40 L1757.94,715.40 L1760.63,715.40 L1763.32,715.40 L1766.02,715.40 L1768.71,715.40 L1771.40,715.40 L1774.09,715.40 L1776.78,715.40 L1779.47,715.40 L1782.16,715.40 L1784.85,715.40 L1787.54,715.40 L1790.24,715.40 L1792.93,715.40 L1795.62,715.40 L1798.31,715.40 L1801.00,715.40"/>
<path d="M189.00,711.54 L191.69,711.54 L194.38,711.54 L197.07,711.54 L199.76,711.54 L202.46,711.55 L205.15,711.55 L207.84,711.55 L210.53,711.55 L213.22,711.55 L215.91,711.55 L218.60,711.55 L221.29,711.56 L223.98,711.56 L226.68,711.56 L229.37,711.56 L232.06,711.56 L234.75,711.56 L237.44,711.57 L240.13,711.57 L242.82,711.57 L245.51,711.57 L248.21,711.57 L250.90,711.58 L253.59,711.58 L256.28,711.58 L258.97,711.58 L261.66,711.58 L264.35,711.59 L267.04,711.59 L269.73,711.59 L272.43,711.59 L275.12,711.59 L277.81,711.60 L280.50,711.60 L283.19,711.60 L285.88,711.60 L288.57,711.61 L291.26,711.61 L293.95,711.61 L296.65,711.61 L299.34,711.62 L302.03,711.62 L304.72,711.62 L307.41,711.63 L310.10,711.63 L312.79,711.63 L315.48,711.63 L318.18,711.64 L320.87,711.64 L323.56,711.64 L326.25,711.65 L328.94,711.65 L331.63,711.65 L334.32,711.66 L337.01,711.66 L339.70,711.67 L342.40,711.67 L345.09,711.67 L347.78,711.68 L350.47,711.68 L353.16,711.68 L355.85,711.69 L358.54,711.69 L361.23,711.70 L363.92,711.70 L366.62,711.71 L369.31,711.71 L372.00,711.72 L374.69,711.72 L377.38,711.72 L380.07,711.73 L382.76,711.73 L385.45,711.74 L388.15,711.74 L390.84,711.75 L393.53,711.76 L396.22,711.76 L398.91,711.77 L401.60,711.77 L404.29,711.78 L406.98,711.78 L409.67,711.79 L412.37,711.80 L415.06,711.80 L417.75,711.81 L420.44,711.82 L423.13,711.82 L425.82,711.83 L428.51,711.84 L431.20,711.84 L433.89,711.85 L436.59,711.86 L439.28,711.86 L441.97,711.87 L444.66,711.88 L447.35,711.89 L450.04,711.90 L452.73,711.90 L455.42,711.91 L458.12,711.92 L460.81,711.93 L463.50,711.94 L466.19,711.95 L468.88,711.96 L471.57,711.97 L474.26,711.98 L476.95,711.98 L479.64,711.99 L482.34,712.01 L485.03,712.02 L487.72,712.03 L490.41,712.04 L493.10,712.05 L495.79,712.06 L498.48,712.07 L501.17,712.08 L503.86,712.09 L506.56,712.11 L509.25,712.12 L511.94,712.13 L514.63,712.14 L517.32,712.16 L520.01,712.17 L522.70,712.18 L525.39,712.20 L528.09,712.21 L530.78,712.22 L533.47,712.24 L536.16,712.25 L538.85,712.27 L541.54,712.28 L544.23,712.30 L546.92,712.32 L549.61,712.33 L552.31,712.35 L555.00,712.37 L557.69,712.38 L560.38,712.40 L563.07,712.42 L565.76,712.44 L568.45,712.46 L571.14,712.48 L573.83,712.50 L576.53,712.52 L579.22,712.54 L581.91,712.56 L584.60,712.58 L587.29,712.60 L589.98,712.62 L592.67,712.64 L595.36,712.67 L598.06,712.69 L600.75,712.71 L603.44,712.74 L606.13,712.76 L608.82,712.79 L611.51,712.81 L614.20,712.84 L616.89,712.86 L619.58,712.89 L622.28,712.92 L624.97,712.95 L627.66,712.97 L630.35,713.00 L633.04,713.03 L635.73,713.06 L638.42,713.09 L641.11,713.13 L643.80,713.16 L646.50,713.19 L649.19,713.22 L651.88,713.26 L654.57,713.29 L657.26,713.33 L659.95,713.36 L662.64,713.40 L665.33,713.44 L668.03,713.48 L670.72,713.52 L673.41,713.55 L676.10,713.60 L678.79,713.64 L681.48,713.68 L684.17,713.72 L686.86,713.76 L689.55,713.81 L692.25,713.85 L694.94,713.90 L697.63,713.95 L700.32,714.00 L703.01,714.04 L705.70,714.09 L708.39,714.15 L711.08,714.20 L713.77,714.25 L716.47,714.30 L719.16,714.36 L721.85,714.42 L724.54,714.47 L727.23,714.53 L729.92,714.59 L732.61,714.65 L735.30,714.71 L737.99,714.77 L740.69,714.84 L743.38,714.90 L746.07,714.97 L748.76,715.04 L751.45,715.11 L754.14,715.18 L756.83,715.25 L759.52,715.32 L762.22,715.40 L764.91,715.40 L767.60,715.40 L770.29,715.40 L772.98,715.40 L775.67,715.40 L778.36,715.40 L781.05,715.40 L783.74,715.40 L786.44,715.40 L789.13,715.40 L791.82,715.40 L794.51,715.40 L797.20,715.40 L799.89,715.40 L802.58,715.40 L805.27,715.40 L807.96,715.40 L810.66,715.40 L813.35,715.40 L816.04,715.40 L818.73,715.40 L821.42,715.40 L824.11,715.40 L826.80,715.40 L829.49,715.40 L832.19,715.40 L834.88,715.40 L837.57,715.40 L840.26,715.40 L842.95,715.40 L845.64,715.40 L848.33,715.40 L851.02,715.40 L853.71,715.40 L856.41,715.40 L859.10,715.40 L861.79,715.40 L864.48,715.40 L867.17,715.40 L869.86,715.40 L872.55,715.40 L875.24,715.40 L877.93,715.40 L880.63,715.40 L883.32,715.40 L886.01,715.40 L888.70,715.40 L891.39,715.40 L894.08,715.40 L896.77,715.40 L899.46,715.40 L902.16,715.40 L904.85,715.40 L907.54,715.40 L910.23,715.40 L912.92,715.40 L915.61,715.40 L918.30,715.40 L920.99,715.40 L923.68,715.40 L926.38,715.40 L929.07,715.40 L931.76,715.40 L934.45,715.40 L937.14,715.40 L939.83,715.40 L942.52,715.40 L945.21,715.40 L947.90,715.40 L950.60,715.40 L953.29,715.40 L955.98,715.40 L958.67,715.40 L961.36,715.40 L964.05,715.40 L966.74,715.40 L969.43,715.40 L972.13,715.40 L974.82,715.40 L977.51,715.40 L980.20,715.40 L982.89,715.40 L985.58,715.40 L988.27,715.40 L990.96,715.40 L993.65,715.40 L996.35,715.40 L999.04,715.40 L1001.73,715.40 L1004.42,715.40 L1007.11,715.40 L1009.80,715.40 L1012.49,715.40 L1015.18,715.40 L1017.87,715.40 L1020.57,715.40 L1023.26,715.40 L1025.95,715.40 L1028.64,715.40 L1031.33,715.40 L1034.02,715.40 L1036.71,715.40 L1039.40,715.40 L1042.10,715.40 L1044.79,715.40 L1047.48,715.40 L1050.17,715.40 L1052.86,715.40 L1055.55,715.40 L1058.24,715.40 L1060.93,715.40 L1063.62,715.40 L1066.32,715.40 L1069.01,715.40 L1071.70,715.40 L1074.39,715.40 L1077.08,715.40 L1079.77,715.40 L1082.46,715.40 L1085.15,715.40 L1087.84,715.40 L1090.54,715.40 L1093.23,715.40 L1095.92,715.40 L1098.61,715.40 L1101.30,715.40 L1103.99,715.40 L1106.68,715.40 L1109.37,715.40 L1112.07,715.40 L1114.76,715.40 L1117.45,715.40 L1120.14,715.40 L1122.83,715.40 L1125.52,715.40 L1128.21,715.40 L1130.90,715.40 L1133.59,715.40 L1136.29,715.40 L1138.98,715.40 L1141.67,715.40 L1144.36,715.40 L1147.05,715.40 L1149.74,715.40 L1152.43,715.40 L1155.12,715.40 L1157.81,715.40 L1160.51,715.40 L1163.20,715.40 L1165.89,715.40 L1168.58,715.40 L1171.27,715.40 L1173.96,715.40 L1176.65,715.40 L1179.34,715.40 L1182.04,715.40 L1184.73,715.40 L1187.42,715.40 L1190.11,715.40 L1192.80,715.40 L1195.49,715.40 L1198.18,715.40 L1200.87,715.40 L1203.56,715.40 L1206.26,715.40 L1208.95,715.40 L1211.64,715.40 L1214.33,715.40 L1217.02,715.40 L1219.71,715.40 L1222.40,715.40 L1225.09,715.40 L1227.78,715.40 L1230.48,715.40 L1233.17,715.40 L1235.86,715.40 L1238.55,715.40 L1241.24,715.40 L1243.93,715.40 L1246.62,715.40 L1249.31,715.40 L1252.01,715.40 L1254.70,715.40 L1257.39,715.40 L1260.08,715.40 L1262.77,715.40 L1265.46,715.40 L1268.15,715.40 L1270.84,715.40 L1273.53,715.40 L1276.23,715.40 L1278.92,715.40 L1281.61,715.40 L1284.30,715.40 L1286.99,715.40 L1289.68,715.40 L1292.37,715.40 L1295.06,715.40 L1297.75,715.40 L1300.45,715.40 L1303.14,715.40 L1305.83,715.40 L1308.52,715.40 L1311.21,715.40 L1313.90,715.40 L1316.59,715.40 L1319.28,715.40 L1321.97,715.40 L1324.67,715.40 L1327.36,715.40 L1330.05,715.40 L1332.74,715.40 L1335.43,715.40 L1338.12,715.40 L1340.81,715.40 L1343.50,715.40 L1346.20,715.40 L1348.89,715.40 L1351.58,715.40 L1354.27,715.40 L1356.96,715.40 L1359.65,715.40 L1362.34,715.40 L1365.03,715.40 L1367.72,715.40 L1370.42,715.40 L1373.11,715.40 L1375.80,715.40 L1378.49,715.40 L1381.18,715.40 L1383.87,715.40 L1386.56,715.40 L1389.25,715.40 L1391.94,715.40 L1394.64,715.40 L1397.33,715.40 L1400.02,715.40 L1402.71,715.40 L1405.40,715.40 L1408.09,715.40 L1410.78,715.40 L1413.47,715.40 L1416.17,715.40 L1418.86,715.40 L1421.55,715.40 L1424.24,715.40 L1426.93,715.40 L1429.62,715.40 L1432.31,715.40 L1435.00,715.40 L1437.69,715.40 L1440.39,715.40 L1443.08,715.40 L1445.77,715.40 L1448.46,715.40 L1451.15,715.40 L1453.84,715.40 L1456.53,715.40 L1459.22,715.40 L1461.91,715.40 L1464.61,715.40 L1467.30,715.40 L1469.99,715.40 L1472.68,715.40 L1475.37,715.40 L1478.06,715.40 L1480.75,715.40 L1483.44,715.40 L1486.14,715.40 L1488.83,715.40 L1491.52,715.40 L1494.21,715.40 L1496.90,715.40 L1499.59,715.40 L1502.28,715.40 L1504.97,715.40 L1507.66,715.40 L1510.36,715.40 L1513.05,715.40 L1515.74,715.40 L1518.43,715.40 L1521.12,715.40 L1523.81,715.40 L1526.50,715.40 L1529.19,715.40 L1531.88,715.40 L1534.58,715.40 L1537.27,715.40 L1539.96,715.40 L1542.65,715.40 L1545.34,715.40 L1548.03,715.40 L1550.72,715.40 L1553.41,715.40 L1556.11,715.40 L1558.80,715.40 L1561.49,715.40 L1564.18,715.40 L1566.87,715.40 L1569.56,715.40 L1572.25,715.40 L1574.94,715.40 L1577.63,715.40 L1580.33,715.40 L1583.02,715.40 L1585.71,715.40 L1588.40,715.40 L1591.09,715.40 L1593.78,715.40 L1596.47,715.40 L1599.16,715.40 L1601.85,715.40 L1604.55,715.40 L1607.24,715.40 L1609.93,715.40 L1612.62,715.40 L1615.31,715.40 L1618.00,715.40 L1620.69,715.40 L1623.38,715.40 L1626.08,715.40 L1628.77,715.40 L1631.46,715.40 L1634.15,715.40 L1636.84,715.40 L1639.53,715.40 L1642.22,715.40 L1644.91,715.40 L1647.60,715.40 L1650.30,715.40 L1652.99,715.40 L1655.68,715.40 L1658.37,715.40 L1661.06,715.40 L1663.75,715.40 L1666.44,715.40 L1669.13,715.40 L1671.82,715.40 L1674.52,715.40 L1677.21,715.40 L1679.90,715.40 L1682.59,715.40 L1685.28,715.40 L1687.97,715.40 L1690.66,715.40 L1693.35,715.40 L1696.05,715.40 L1698.74,715.40 L1701.43,715.40 L1704.12,715.40 L1706.81,715.40 L1709.50,715.40 L1712.19,715.40 L1714.88,715.40 L1717.57,715.40 L1720.27,715.40 L1722.96,715.40 L1725.65,715.40 L1728.34,715.40 L1731.03,715.40 L1733.72,715.40 L1736.41,715.40 L1739.10,715.40 L1741.79,715.40 L1744.49,715.40 L1747.18,715.40 L1749.87,715.40 L1752.56,715.40 L1755.25,715.40 L1757.94,715.40 L1760.63,715.40 L1763.32,715.40 L1766.02,715.40 L1768.71,715.40 L1771.40,715.40 L1774.09,715.40 L1776.78,715.40 L1779.47,715.40 L1782.16,715.40 L1784.85,715.40 L1787.54,715.40 L1790.24,715.40 L1792.93,715.40 L1795.62,715.40 L1798.31,715.40 L1801.00,715.40"/>
<path d="M189.00,733.01 L191.69,733.01 L194.38,733.01 L197.07,733.00 L199.76,733.00 L202.46,733.00 L205.15,733.00 L207.84,732.99 L210.53,732.99 L213.22,732.99 L215.91,732.99 L218.60,732.98 L221.29,732.98 L223.98,732.98 L226.68,732.97 L229.37,732.97 L232.06,732.97 L234.75,732.96 L237.44,732.96 L240.13,732.96 L242.82,732.95 L245.51,732.95 L248.21,732.95 L250.90,732.94 L253.59,732.94 L256.28,732.94 L258.97,732.93 L261.66,732.93 L264.35,732.92 L267.04,732.92 L269.73,732.92 L272.43,732.91 L275.12,732.91 L277.81,732.90 L280.50,732.90 L283.19,732.89 L285.88,732.89 L288.57,732.88 L291.26,732.88 L293.95,732.87 L296.65,732.87 L299.34,732.86 L302.03,732.86 L304.72,732.85 L307.41,732.85 L310.10,732.84 L312.79,732.84 L315.48,732.83 L318.18,732.83 L320.87,732.82 L323.56,732.81 L326.25,732.81 L328.94,732.80 L331.63,732.80 L334.32,732.79 L337.01,732.78 L339.70,732.77 L342.40,732.77 L345.09,732.76 L347.78,732.75 L350.47,732.75 L353.16,732.74 L355.85,732.73 L358.54,732.72 L361.23,732.72 L363.92,732.71 L366.62,732.70 L369.31,732.69 L372.00,732.68 L374.69,732.67 L377.38,732.66 L380.07,732.66 L382.76,732.65 L385.45,732.64 L388.15,732.63 L390.84,732.62 L393.53,732.61 L396.22,732.60 L398.91,732.59 L401.60,732.58 L404.29,732.56 L406.98,732.55 L409.67,732.54 L412.37,732.53 L415.06,732.52 L417.75,732.51 L420.44,732.50 L423.13,732.48 L425.82,732.47 L428.51,732.46 L431.20,732.44 L433.89,732.43 L436.59,732.42 L439.28,732.40 L441.97,732.39 L444.66,732.37 L447.35,732.36 L450.04,732.34 L452.73,732.33 L455.42,732.31 L458.12,732.30 L460.81,732.28 L463.50,732.27 L466.19,732.25 L468.88,732.23 L471.57,732.21 L474.26,732.20 L476.95,732.18 L479.64,732.16 L482.34,732.14 L485.03,732.12 L487.72,732.10 L490.41,732.08 L493.10,732.06 L495.79,732.04 L498.48,732.02 L501.17,732.00 L503.86,731.97 L506.56,731.95 L509.25,731.93 L511.94,731.91 L514.63,731.88 L517.32,731.86 L520.01,731.83 L522.70,731.81 L525.39,731.78 L528.09,731.76 L530.78,731.73 L533.47,731.70 L536.16,731.67 L538.85,731.65 L541.54,731.62 L544.23,731.59 L546.92,731.56 L549.61,731.53 L552.31,731.50 L555.00,731.46 L557.69,731.43 L560.38,731.40 L563.07,731.36 L565.76,731.33 L568.45,731.30 L571.14,731.26 L573.83,731.22 L576.53,731.19 L579.22,731.15 L581.91,731.11 L584.60,731.07 L587.29,731.03 L589.98,730.99 L592.67,730.95 L595.36,730.91 L598.06,730.86 L600.75,730.82 L603.44,730.77 L606.13,730.73 L608.82,730.68 L611.51,730.63 L614.20,730.59 L616.89,730.54 L619.58,730.49 L622.28,730.43 L624.97,730.38 L627.66,730.33 L630.35,730.27 L633.04,730.22 L635.73,730.16 L638.42,730.10 L641.11,730.05 L643.80,729.99 L646.50,729.92 L649.19,729.86 L651.88,729.80 L654.57,729.73 L657.26,729.67 L659.95,729.60 L662.64,729.53 L665.33,729.46 L668.03,729.39 L670.72,729.32 L673.41,729.24 L676.10,729.17 L678.79,729.09 L681.48,729.01 L684.17,728.93 L686.86,728.85 L689.55,728.77 L692.25,728.68 L694.94,728.60 L697.63,728.51 L700.32,728.42 L703.01,728.33 L705.70,728.23 L708.39,728.14 L711.08,728.04 L713.77,727.94 L716.47,727.84 L719.16,727.74 L721.85,727.64 L724.54,727.53 L727.23,727.42 L729.92,727.31 L732.61,727.20 L735.30,727.08 L737.99,726.96 L740.69,726.84 L743.38,726.72 L746.07,726.60 L748.76,726.47 L751.45,726.34 L754.14,726.21 L756.83,726.08 L759.52,725.94 L762.22,725.80 L764.91,725.66 L767.60,725.51 L770.29,725.36 L772.98,725.21 L775.67,725.06 L778.36,724.90 L781.05,724.74 L783.74,724.58 L786.44,724.41 L789.13,724.24 L791.82,724.07 L794.51,723.90 L797.20,723.72 L799.89,723.53 L802.58,723.35 L805.27,723.16 L807.96,722.96 L810.66,722.77 L813.35,722.57 L816.04,722.36 L818.73,722.15 L821.42,721.94 L824.11,721.72 L826.80,721.50 L829.49,721.27 L832.19,721.04 L834.88,720.81 L837.57,720.57 L840.26,720.33 L842.95,720.08 L845.64,719.82 L848.33,719.57 L851.02,719.30 L853.71,719.03 L856.41,718.76 L859.10,718.48 L861.79,718.20 L864.48,717.91 L867.17,717.61 L869.86,717.31 L872.55,717.00 L875.24,716.69 L877.93,716.37 L880.63,716.05 L883.32,715.71 L886.01,715.40 L888.70,715.40 L891.39,715.40 L894.08,715.40 L896.77,715.40 L899.46,715.40 L902.16,715.40 L904.85,715.40 L907.54,715.40 L910.23,715.40 L912.92,715.40 L915.61,715.40 L918.30,715.40 L920.99,715.40 L923.68,715.40 L926.38,715.40 L929.07,715.40 L931.76,715.40 L934.45,715.40 L937.14,715.40 L939.83,715.40 L942.52,715.40 L945.21,715.40 L947.90,715.40 L950.60,715.40 L953.29,715.40 L955.98,715.40 L958.67,715.40 L961.36,715.40 L964.05,715.40 L966.74,715.40 L969.43,715.40 L972.13,715.40 L974.82,715.40 L977.51,715.40 L980.20,715.40 L982.89,715.40 L985.58,715.40 L988.27,715.40 L990.96,715.40 L993.65,715.40 L996.35,715.40 L999.04,715.40 L1001.73,715.40 L1004.42,715.40 L1007.11,715.40 L1009.80,715.40 L1012.49,715.40 L1015.18,715.40 L1017.87,715.40 L1020.57,715.40 L1023.26,715.40 L1025.95,715.40 L1028.64,715.40 L1031.33,715.40 L1034.02,715.40 L1036.71,715.40 L1039.40,715.40 L1042.10,715.40 L1044.79,715.40 L1047.48,715.40 L1050.17,715.40 L1052.86,715.40 L1055.55,715.40 L1058.24,715.40 L1060.93,715.40 L1063.62,715.40 L1066.32,715.40 L1069.01,715.40 L1071.70,715.40 L1074.39,715.40 L1077.08,715.40 L1079.77,715.40 L1082.46,715.40 L1085.15,715.40 L1087.84,715.40 L1090.54,715.40 L1093.23,715.40 L1095.92,715.40 L1098.61,715.40 L1101.30,715.40 L1103.99,715.40 L1106.68,715.40 L1109.37,715.40 L1112.07,715.40 L1114.76,715.40 L1117.45,715.40 L1120.14,715.40 L1122.83,715.40 L1125.52,715.40 L1128.21,715.40 L1130.90,715.40 L1133.59,715.40 L1136.29,715.40 L1138.98,715.40 L1141.67,715.40 L1144.36,715.40 L1147.05,715.40 L1149.74,715.40 L1152.43,715.40 L1155.12,715.40 L1157.81,715.40 L1160.51,715.40 L1163.20,715.40 L1165.89,715.40 L1168.58,715.40 L1171.27,715.40 L1173.96,715.40 L1176.65,715.40 L1179.34,715.40 L1182.04,715.40 L1184.73,715.40 L1187.42,715.40 L1190.11,715.40 L1192.80,715.40 L1195.49,715.40 L1198.18,715.40 L1200.87,715.40 L1203.56,715.40 L1206.26,715.40 L1208.95,715.40 L1211.64,715.40 L1214.33,715.40 L1217.02,715.40 L1219.71,715.40 L1222.40,715.40 L1225.09,715.40 L1227.78,715.40 L1230.48,715.40 L1233.17,715.40 L1235.86,715.40 L1238.55,715.40 L1241.24,715.40 L1243.93,715.40 L1246.62,715.40 L1249.31,715.40 L1252.01,715.40 L1254.70,715.40 L1257.39,715.40 L1260.08,715.40 L1262.77,715.40 L1265.46,715.40 L1268.15,715.40 L1270.84,715.40 L1273.53,715.40 L1276.23,715.40 L1278.92,715.40 L1281.61,715.40 L1284.30,715.40 L1286.99,715.40 L1289.68,715.40 L1292.37,715.40 L1295.06,715.40 L1297.75,715.40 L1300.45,715.40 L1303.14,715.40 L1305.83,715.40 L1308.52,715.40 L1311.21,715.40 L1313.90,715.40 L1316.59,715.40 L1319.28,715.40 L1321.97,715.40 L1324.67,715.40 L1327.36,715.40 L1330.05,715.40 L1332.74,715.40 L1335.43,715.40 L1338.12,715.40 L1340.81,715.40 L1343.50,715.40 L1346.20,715.40 L1348.89,715.40 L1351.58,715.40 L1354.27,715.40 L1356.96,715.40 L1359.65,715.40 L1362.34,715.40 L1365.03,715.40 L1367.72,715.40 L1370.42,715.40 L1373.11,715.40 L1375.80,715.40 L1378.49,715.40 L1381.18,715.40 L1383.87,715.40 L1386.56,715.40 L1389.25,715.40 L1391.94,715.40 L1394.64,715.40 L1397.33,715.40 L1400.02,715.40 L1402.71,715.40 L1405.40,715.40 L1408.09,715.40 L1410.78,715.40 L1413.47,715.40 L1416.17,715.40 L1418.86,715.40 L1421.55,715.40 L1424.24,715.40 L1426.93,715.40 L1429.62,715.40 L1432.31,715.40 L1435.00,715.40 L1437.69,715.40 L1440.39,715.40 L1443.08,715.40 L1445.77,715.40 L1448.46,715.40 L1451.15,715.40 L1453.84,715.40 L1456.53,715.40 L1459.22,715.40 L1461.91,715.40 L1464.61,715.40 L1467.30,715.40 L1469.99,715.40 L1472.68,715.40 L1475.37,715.40 L1478.06,715.40 L1480.75,715.40 L1483.44,715.40 L1486.14,715.40 L1488.83,715.40 L1491.52,715.40 L1494.21,715.40 L1496.90,715.40 L1499.59,715.40 L1502.28,715.40 L1504.97,715.40 L1507.66,715.40 L1510.36,715.40 L1513.05,715.40 L1515.74,715.40 L1518.43,715.40 L1521.12,715.40 L1523.81,715.40 L1526.50,715.40 L1529.19,715.40 L1531.88,715.40 L1534.58,715.40 L1537.27,715.40 L1539.96,715.40 L1542.65,715.40 L1545.34,715.40 L1548.03,715.40 L1550.72,715.40 L1553.41,715.40 L1556.11,715.40 L1558.80,715.40 L1561.49,715.40 L1564.18,715.40 L1566.87,715.40 L1569.56,715.40 L1572.25,715.40 L1574.94,715.40 L1577.63,715.40 L1580.33,715.40 L1583.02,715.40 L1585.71,715.40 L1588.40,715.40 L1591.09,715.40 L1593.78,715.40 L1596.47,715.40 L1599.16,715.40 L1601.85,715.40 L1604.55,715.40 L1607.24,715.40 L1609.93,715.40 L1612.62,715.40 L1615.31,715.40 L1618.00,715.40 L1620.69,715.40 L1623.38,715.40 L1626.08,715.40 L1628.77,715.40 L1631.46,715.40 L1634.15,715.40 L1636.84,715.40 L1639.53,715.40 L1642.22,715.40 L1644.91,715.40 L1647.60,715.40 L1650.30,715.40 L1652.99,715.40 L1655.68,715.40 L1658.37,715.40 L1661.06,715.40 L1663.75,715.40 L1666.44,715.40 L1669.13,715.40 L1671.82,715.40 L1674.52,715.40 L1677.21,715.40 L1679.90,715.40 L1682.59,715.40 L1685.28,715.40 L1687.97,715.40 L1690.66,715.40 L1693.35,715.40 L1696.05,715.40 L1698.74,715.40 L1701.43,715.40 L1704.12,715.40 L1706.81,715.40 L1709.50,715.40 L1712.19,715.40 L1714.88,715.40 L1717.57,715.40 L1720.27,715.40 L1722.96,715.40 L1725.65,715.40 L1728.34,715.40 L1731.03,715.40 L1733.72,715.40 L1736.41,715.40 L1739.10,715.40 L1741.79,715.40 L1744.49,715.40 L1747.18,715.40 L1749.87,715.40 L1752.56,715.40 L1755.25,715.40 L1757.94,715.40 L1760.63,715.40 L1763.32,715.40 L1766.02,715.40 L1768.71,715.40 L1771.40,715.40 L1774.09,715.40 L1776.78,715.40 L1779.47,715.40 L1782.16,715.40 L1784.85,715.40 L1787.54,715.40 L1790.24,715.40 L1792.93,715.40 L1795.62,715.40 L1798.31,715.40 L1801.00,715.40"/>
<path d="M189.00,751.54 L191.69,751.54 L194.38,751.54 L197.07,751.54 L199.76,751.54 L202.46,751.53 L205.15,751.53 L207.84,751.53 L210.53,751.53 L213.22,751.53 L215.91,751.53 L218.60,751.52 L221.29,751.52 L223.98,751.52 L226.68,751.52 L229.37,751.52 L232.06,751.51 L234.75,751.51 L237.44,751.51 L240.13,751.51 L242.82,751.50 L245.51,751.50 L248.21,751.50 L250.90,751.50 L253.59,751.49 L256.28,751.49 L258.97,751.49 L261.66,751.49 L264.35,751.48 L267.04,751.48 L269.73,751.48 L272.43,751.47 L275.12,751.47 L277.81,751.47 L280.50,751.47 L283.19,751.46 L285.88,751.46 L288.57,751.46 L291.26,751.45 L293.95,751.45 L296.65,751.45 L299.34,751.44 L302.03,751.44 L304.72,751.44 L307.41,751.43 L310.10,751.43 L312.79,751.42 L315.48,751.42 L318.18,751.42 L320.87,751.41 L323.56,751.41 L326.25,751.40 L328.94,751.40 L331.63,751.39 L334.32,751.39 L337.01,751.39 L339.70,751.38 L342.40,751.38 L345.09,751.37 L347.78,751.37 L350.47,751.36 L353.16,751.36 L355.85,751.35 L358.54,751.34 L361.23,751.34 L363.92,751.33 L366.62,751.33 L369.31,751.32 L372.00,751.32 L374.69,751.31 L377.38,751.30 L380.07,751.30 L382.76,751.29 L385.45,751.28 L388.15,751.28 L390.84,751.27 L393.53,751.26 L396.22,751.26 L398.91,751.25 L401.60,751.24 L404.29,751.24 L406.98,751.23 L409.67,751.22 L412.37,751.21 L415.06,751.20 L417.75,751.20 L420.44,751.19 L423.13,751.18 L425.82,751.17 L428.51,751.16 L431.20,751.15 L433.89,751.14 L436.59,751.13 L439.28,751.12 L441.97,751.11 L444.66,751.10 L447.35,751.09 L450.04,751.08 L452.73,751.07 L455.42,751.06 L458.12,751.05 L460.81,751.04 L463.50,751.03 L466.19,751.02 L468.88,751.01 L471.57,750.99 L474.26,750.98 L476.95,750.97 L479.64,750.96 L482.34,750.94 L485.03,750.93 L487.72,750.92 L490.41,750.90 L493.10,750.89 L495.79,750.87 L498.48,750.86 L501.17,750.84 L503.86,750.83 L506.56,750.81 L509.25,750.80 L511.94,750.78 L514.63,750.77 L517.32,750.75 L520.01,750.73 L522.70,750.71 L525.39,750.70 L528.09,750.68 L530.78,750.66 L533.47,750.64 L536.16,750.62 L538.85,750.60 L541.54,750.58 L544.23,750.56 L546.92,750.54 L549.61,750.52 L552.31,750.50 L555.00,750.48 L557.69,750.46 L560.38,750.43 L563.07,750.41 L565.76,750.39 L568.45,750.36 L571.14,750.34 L573.83,750.31 L576.53,750.29 L579.22,750.26 L581.91,750.23 L584.60,750.21 L587.29,750.18 L589.98,750.15 L592.67,750.12 L595.36,750.09 L598.06,750.06 L600.75,750.03 L603.44,750.00 L606.13,749.97 L608.82,749.94 L611.51,749.91 L614.20,749.87 L616.89,749.84 L619.58,749.80 L622.28,749.77 L624.97,749.73 L627.66,749.69 L630.35,749.66 L633.04,749.62 L635.73,749.58 L638.42,749.54 L641.11,749.50 L643.80,749.46 L646.50,749.42 L649.19,749.37 L651.88,749.33 L654.57,749.29 L657.26,749.24 L659.95,749.19 L662.64,749.15 L665.33,749.10 L668.03,749.05 L670.72,749.00 L673.41,748.95 L676.10,748.90 L678.79,748.84 L681.48,748.79 L684.17,748.73 L686.86,748.68 L689.55,748.62 L692.25,748.56 L694.94,748.50 L697.63,748.44 L700.32,748.38 L703.01,748.32 L705.70,748.25 L708.39,748.19 L711.08,748.12 L713.77,748.05 L716.47,747.98 L719.16,747.91 L721.85,747.84 L724.54,747.77 L727.23,747.69 L729.92,747.62 L732.61,747.54 L735.30,747.46 L737.99,747.38 L740.69,747.29 L743.38,747.21 L746.07,747.13 L748.76,747.04 L751.45,746.95 L754.14,746.86 L756.83,746.77 L759.52,746.67 L762.22,746.57 L764.91,746.48 L767.60,746.38 L770.29,746.27 L772.98,746.17 L775.67,746.07 L778.36,745.96 L781.05,745.85 L783.74,745.73 L786.44,745.62 L789.13,745.50 L791.82,745.39 L794.51,745.26 L797.20,745.14 L799.89,745.01 L802.58,744.89 L805.27,744.76 L807.96,744.62 L810.66,744.49 L813.35,744.35 L816.04,744.21 L818.73,744.06 L821.42,743.92 L824.11,743.77 L826.80,743.61 L829.49,743.46 L832.19,743.30 L834.88,743.14 L837.57,742.97 L840.26,742.80 L842.95,742.63 L845.64,742.46 L848.33,742.28 L851.02,742.10 L853.71,741.91 L856.41,741.73 L859.10,741.53 L861.79,741.34 L864.48,741.14 L867.17,740.94 L869.86,740.73 L872.55,740.52 L875.24,740.30 L877.93,740.08 L880.63,739.86 L883.32,739.63 L886.01,739.40 L888.70,739.16 L891.39,738.92 L894.08,738.67 L896.77,738.42 L899.46,738.16 L902.16,737.90 L904.85,737.63 L907.54,737.36 L910.23,737.09 L912.92,736.80 L915.61,736.52 L918.30,736.22 L920.99,735.92 L923.68,735.62 L926.38,735.31 L929.07,734.99 L931.76,734.67 L934.45,734.34 L937.14,734.00 L939.83,733.66 L942.52,733.31 L945.21,732.96 L947.90,732.60 L950.60,732.23 L953.29,731.85 L955.98,731.47 L958.67,731.07 L961.36,730.68 L964.05,730.27 L966.74,729.85 L969.43,729.43 L972.13,729.00 L974.82,728.56 L977.51,728.11 L980.20,727.66 L982.89,727.19 L985.58,726.72 L988.27,726.24 L990.96,725.74 L993.65,725.24 L996.35,724.73 L999.04,724.21 L1001.73,723.67 L1004.42,723.13 L1007.11,722.58 L1009.80,722.01 L1012.49,721.44 L1015.18,720.85 L1017.87,720.26 L1020.57,719.65 L1023.26,719.03 L1025.95,718.39 L1028.64,717.75 L1031.33,717.09 L1034.02,716.42 L1036.71,715.74 L1039.40,715.40 L1042.10,715.40 L1044.79,715.40 L1047.48,715.40 L1050.17,715.40 L1052.86,715.40 L1055.55,715.40 L1058.24,715.40 L1060.93,715.40 L1063.62,715.40 L1066.32,715.40 L1069.01,715.40 L1071.70,715.40 L1074.39,715.40 L1077.08,715.40 L1079.77,715.40 L1082.46,715.40 L1085.15,715.40 L1087.84,715.40 L1090.54,715.40 L1093.23,715.40 L1095.92,715.40 L1098.61,715.40 L1101.30,715.40 L1103.99,715.40 L1106.68,715.40 L1109.37,715.40 L1112.07,715.40 L1114.76,715.40 L1117.45,715.40 L1120.14,715.40 L1122.83,715.40 L1125.52,715.40 L1128.21,715.40 L1130.90,715.40 L1133.59,715.40 L1136.29,715.40 L1138.98,715.40 L1141.67,715.40 L1144.36,715.40 L1147.05,715.40 L1149.74,715.40 L1152.43,715.40 L1155.12,715.40 L1157.81,715.40 L1160.51,715.40 L1163.20,715.40 L1165.89,715.40 L1168.58,715.40 L1171.27,715.40 L1173.96,715.40 L1176.65,715.40 L1179.34,715.40 L1182.04,715.40 L1184.73,715.40 L1187.42,715.40 L1190.11,715.40 L1192.80,715.40 L1195.49,715.40 L1198.18,715.40 L1200.87,715.40 L1203.56,715.40 L1206.26,715.40 L1208.95,715.40 L1211.64,715.40 L1214.33,715.40 L1217.02,715.40 L1219.71,715.40 L1222.40,715.40 L1225.09,715.40 L1227.78,715.40 L1230.48,715.40 L1233.17,715.40 L1235.86,715.40 L1238.55,715.40 L1241.24,715.40 L1243.93,715.40 L1246.62,715.40 L1249.31,715.40 L1252.01,715.40 L1254.70,715.40 L1257.39,715.40 L1260.08,715.40 L1262.77,715.40 L1265.46,715.40 L1268.15,715.40 L1270.84,715.40 L1273.53,715.40 L1276.23,715.40 L1278.92,715.40 L1281.61,715.40 L1284.30,715.40 L1286.99,715.40 L1289.68,715.40 L1292.37,715.40 L1295.06,715.40 L1297.75,715.40 L1300.45,715.40 L1303.14,715.40 L1305.83,715.40 L1308.52,715.40 L1311.21,715.40 L1313.90,715.40 L1316.59,715.40 L1319.28,715.40 L1321.97,715.40 L1324.67,715.40 L1327.36,715.40 L1330.05,715.40 L1332.74,715.40 L1335.43,715.40 L1338.12,715.40 L1340.81,715.40 L1343.50,715.40 L1346.20,715.40 L1348.89,715.40 L1351.58,715.40 L1354.27,715.40 L1356.96,715.40 L1359.65,715.40 L1362.34,715.40 L1365.03,715.40 L1367.72,715.40 L1370.42,715.40 L1373.11,715.40 L1375.80,715.40 L1378.49,715.40 L1381.18,715.40 L1383.87,715.40 L1386.56,715.40 L1389.25,715.40 L1391.94,715.40 L1394.64,715.40 L1397.33,715.40 L1400.02,715.40 L1402.71,715.40 L1405.40,715.40 L1408.09,715.40 L1410.78,715.40 L1413.47,715.40 L1416.17,715.40 L1418.86,715.40 L1421.55,715.40 L1424.24,715.40 L1426.93,715.40 L1429.62,715.40 L1432.31,715.40 L1435.00,715.40 L1437.69,715.40 L1440.39,715.40 L1443.08,715.40 L1445.77,715.40 L1448.46,715.40 L1451.15,715.40 L1453.84,715.40 L1456.53,715.40 L1459.22,715.40 L1461.91,715.40 L1464.61,715.40 L1467.30,715.40 L1469.99,715.40 L1472.68,715.40 L1475.37,715.40 L1478.06,715.40 L1480.75,715.40 L1483.44,715.40 L1486.14,715.40 L1488.83,715.40 L1491.52,715.40 L1494.21,715.40 L1496.90,715.40 L1499.59,715.40 L1502.28,715.40 L1504.97,715.40 L1507.66,715.40 L1510.36,715.40 L1513.05,715.40 L1515.74,715.40 L1518.43,715.40 L1521.12,715.40 L1523.81,715.40 L1526.50,715.40 L1529.19,715.40 L1531.88,715.40 L1534.58,715.40 L1537.27,715.40 L1539.96,715.40 L1542.65,715.40 L1545.34,715.40 L1548.03,715.40 L1550.72,715.40 L1553.41,715.40 L1556.11,715.40 L1558.80,715.40 L1561.49,715.40 L1564.18,715.40 L1566.87,715.40 L1569.56,715.40 L1572.25,715.40 L1574.94,715.40 L1577.63,715.40 L1580.33,715.40 L1583.02,715.40 L1585.71,715.40 L1588.40,715.40 L1591.09,715.40 L1593.78,715.40 L1596.47,715.40 L1599.16,715.40 L1601.85,715.40 L1604.55,715.40 L1607.24,715.40 L1609.93,715.40 L1612.62,715.40 L1615.31,715.40 L1618.00,715.40 L1620.69,715.40 L1623.38,715.40 L1626.08,715.40 L1628.77,715.40 L1631.46,715.40 L1634.15,715.40 L1636.84,715.40 L1639.53,715.40 L1642.22,715.40 L1644.91,715.40 L1647.60,715.40 L1650.30,715.40 L1652.99,715.40 L1655.68,715.40 L1658.37,715.40 L1661.06,715.40 L1663.75,715.40 L1666.44,715.40 L1669.13,715.40 L1671.82,715.40 L1674.52,715.40 L1677.21,715.40 L1679.90,715.40 L1682.59,715.40 L1685.28,715.40 L1687.97,715.40 L1690.66,715.40 L1693.35,715.40 L1696.05,715.40 L1698.74,715.40 L1701.43,715.40 L1704.12,715.40 L1706.81,715.40 L1709.50,715.40 L1712.19,715.40 L1714.88,715.40 L1717.57,715.40 L1720.27,715.40 L1722.96,715.40 L1725.65,715.40 L1728.34,715.40 L1731.03,715.40 L1733.72,715.40 L1736.41,715.40 L1739.10,715.40 L1741.79,715.40 L1744.49,715.40 L1747.18,715.40 L1749.87,715.40 L1752.56,715.40 L1755.25,715.40 L1757.94,715.40 L1760.63,715.40 L1763.32,715.40 L1766.02,715.40 L1768.71,715.40 L1771.40,715.40 L1774.09,715.40 L1776.78,715.40 L1779.47,715.40 L1782.16,715.40 L1784.85,715.40 L1787.54,715.40 L1790.24,715.40 L1792.93,715.40 L1795.62,715.40 L1798.31,715.40 L1801.00,715.40"/>
<path d="M189.00,795.43 L191.69,795.42 L194.38,795.42 L197.07,795.42 L199.76,795.42 L202.46,795.41 L205.15,795.41 L207.84,795.41 L210.53,795.40 L213.22,795.40 L215.91,795.40 L218.60,795.39 L221.29,795.39 L223.98,795.38 L226.68,795.38 L229.37,795.38 L232.06,795.37 L234.75,795.37 L237.44,795.36 L240.13,795.36 L242.82,795.36 L245.51,795.35 L248.21,795.35 L250.90,795.34 L253.59,795.34 L256.28,795.33 L258.97,795.33 L261.66,795.32 L264.35,795.32 L267.04,795.31 L269.73,795.31 L272.43,795.30 L275.12,795.30 L277.81,795.29 L280.50,795.29 L283.19,795.28 L285.88,795.27 L288.57,795.27 L291.26,795.26 L293.95,795.26 L296.65,795.25 L299.34,795.24 L302.03,795.24 L304.72,795.23 L307.41,795.22 L310.10,795.22 L312.79,795.21 L315.48,795.20 L318.18,795.19 L320.87,795.19 L323.56,795.18 L326.25,795.17 L328.94,795.16 L331.63,795.16 L334.32,795.15 L337.01,795.14 L339.70,795.13 L342.40,795.12 L345.09,795.11 L347.78,795.10 L350.47,795.09 L353.16,795.08 L355.85,795.07 L358.54,795.06 L361.23,795.05 L363.92,795.04 L366.62,795.03 L369.31,795.02 L372.00,795.01 L374.69,795.00 L377.38,794.99 L380.07,794.98 L382.76,794.97 L385.45,794.95 L388.15,794.94 L390.84,794.93 L393.53,794.92 L396.22,794.90 L398.91,794.89 L401.60,794.88 L404.29,794.86 L406.98,794.85 L409.67,794.84 L412.37,794.82 L415.06,794.81 L417.75,794.79 L420.44,794.78 L423.13,794.76 L425.82,794.75 L428.51,794.73 L431.20,794.71 L433.89,794.70 L436.59,794.68 L439.28,794.66 L441.97,794.64 L444.66,794.62 L447.35,794.61 L450.04,794.59 L452.73,794.57 L455.42,794.55 L458.12,794.53 L460.81,794.51 L463.50,794.49 L466.19,794.47 L468.88,794.44 L471.57,794.42 L474.26,794.40 L476.95,794.38 L479.64,794.35 L482.34,794.33 L485.03,794.30 L487.72,794.28 L490.41,794.25 L493.10,794.23 L495.79,794.20 L498.48,794.18 L501.17,794.15 L503.86,794.12 L506.56,794.09 L509.25,794.06 L511.94,794.03 L514.63,794.00 L517.32,793.97 L520.01,793.94 L522.70,793.91 L525.39,793.88 L528.09,793.85 L530.78,793.81 L533.47,793.78 L536.16,793.74 L538.85,793.71 L541.54,793.67 L544.23,793.63 L546.92,793.59 L549.61,793.56 L552.31,793.52 L555.00,793.48 L557.69,793.44 L560.38,793.39 L563.07,793.35 L565.76,793.31 L568.45,793.26 L571.14,793.22 L573.83,793.17 L576.53,793.13 L579.22,793.08 L581.91,793.03 L584.60,792.98 L587.29,792.93 L589.98,792.88 L592.67,792.83 L595.36,792.77 L598.06,792.72 L600.75,792.66 L603.44,792.61 L606.13,792.55 L608.82,792.49 L611.51,792.43 L614.20,792.37 L616.89,792.31 L619.58,792.24 L622.28,792.18 L624.97,792.11 L627.66,792.04 L630.35,791.98 L633.04,791.91 L635.73,791.83 L638.42,791.76 L641.11,791.69 L643.80,791.61 L646.50,791.54 L649.19,791.46 L651.88,791.38 L654.57,791.30 L657.26,791.21 L659.95,791.13 L662.64,791.04 L665.33,790.95 L668.03,790.86 L670.72,790.77 L673.41,790.68 L676.10,790.58 L678.79,790.49 L681.48,790.39 L684.17,790.29 L686.86,790.18 L689.55,790.08 L692.25,789.97 L694.94,789.86 L697.63,789.75 L700.32,789.64 L703.01,789.52 L705.70,789.41 L708.39,789.29 L711.08,789.16 L713.77,789.04 L716.47,788.91 L719.16,788.78 L721.85,788.65 L724.54,788.52 L727.23,788.38 L729.92,788.24 L732.61,788.10 L735.30,787.95 L737.99,787.80 L740.69,787.65 L743.38,787.50 L746.07,787.34 L748.76,787.18 L751.45,787.02 L754.14,786.85 L756.83,786.68 L759.52,786.51 L762.22,786.33 L764.91,786.15 L767.60,785.97 L770.29,785.79 L772.98,785.60 L775.67,785.40 L778.36,785.20 L781.05,785.00 L783.74,784.80 L786.44,784.59 L789.13,784.37 L791.82,784.16 L794.51,783.94 L797.20,783.71 L799.89,783.48 L802.58,783.24 L805.27,783.00 L807.96,782.76 L810.66,782.51 L813.35,782.26 L816.04,782.00 L818.73,781.74 L821.42,781.47 L824.11,781.19 L826.80,780.91 L829.49,780.63 L832.19,780.34 L834.88,780.04 L837.57,779.74 L840.26,779.43 L842.95,779.12 L845.64,778.80 L848.33,778.48 L851.02,778.14 L853.71,777.81 L856.41,777.46 L859.10,777.11 L861.79,776.75 L864.48,776.39 L867.17,776.01 L869.86,775.63 L872.55,775.25 L875.24,774.85 L877.93,774.45 L880.63,774.04 L883.32,773.62 L886.01,773.19 L888.70,772.76 L891.39,772.32 L894.08,771.87 L896.77,771.41 L899.46,770.94 L902.16,770.46 L904.85,769.97 L907.54,769.47 L910.23,768.97 L912.92,768.45 L915.61,767.92 L918.30,767.39 L920.99,766.84 L923.68,766.28 L926.38,765.71 L929.07,765.13 L931.76,764.54 L934.45,763.94 L937.14,763.33 L939.83,762.70 L942.52,762.06 L945.21,761.41 L947.90,760.75 L950.60,760.07 L953.29,759.38 L955.98,758.68 L958.67,757.96 L961.36,757.23 L964.05,756.49 L966.74,755.73 L969.43,754.96 L972.13,754.17 L974.82,753.37 L977.51,752.55 L980.20,751.71 L982.89,750.86 L985.58,749.99 L988.27,749.11 L990.96,748.21 L993.65,747.29 L996.35,746.35 L999.04,745.39 L1001.73,744.42 L1004.42,743.43 L1007.11,742.42 L1009.80,741.38 L1012.49,740.33 L1015.18,739.26 L1017.87,738.17 L1020.57,737.05 L1023.26,735.92 L1025.95,734.76 L1028.64,733.58 L1031.33,732.38 L1034.02,731.15 L1036.71,729.90 L1039.40,728.62 L1042.10,727.32 L1044.79,726.00 L1047.48,724.65 L1050.17,723.27 L1052.86,721.87 L1055.55,720.44 L1058.24,718.98 L1060.93,717.49 L1063.62,715.98 L1066.32,715.40 L1069.01,715.40 L1071.70,715.40 L1074.39,715.40 L1077.08,715.40 L1079.77,715.40 L1082.46,715.40 L1085.15,715.40 L1087.84,715.40 L1090.54,715.40 L1093.23,715.40 L1095.92,715.40 L1098.61,715.40 L1101.30,715.40 L1103.99,715.40 L1106.68,715.40 L1109.37,715.40 L1112.07,715.40 L1114.76,715.40 L1117.45,715.40 L1120.14,715.40 L1122.83,715.40 L1125.52,715.40 L1128.21,715.40 L1130.90,715.40 L1133.59,715.40 L1136.29,715.40 L1138.98,715.40 L1141.67,715.40 L1144.36,715.40 L1147.05,715.40 L1149.74,715.40 L1152.43,715.40 L1155.12,715.40 L1157.81,715.40 L1160.51,715.40 L1163.20,715.40 L1165.89,715.40 L1168.58,715.40 L1171.27,715.40 L1173.96,715.40 L1176.65,715.40 L1179.34,715.40 L1182.04,715.40 L1184.73,715.40 L1187.42,715.40 L1190.11,715.40 L1192.80,715.40 L1195.49,715.40 L1198.18,715.40 L1200.87,715.40 L1203.56,715.40 L1206.26,715.40 L1208.95,715.40 L1211.64,715.40 L1214.33,715.40 L1217.02,715.40 L1219.71,715.40 L1222.40,715.40 L1225.09,715.40 L1227.78,715.40 L1230.48,715.40 L1233.17,715.40 L1235.86,715.40 L1238.55,715.40 L1241.24,715.40 L1243.93,715.40 L1246.62,715.40 L1249.31,715.40 L1252.01,715.40 L1254.70,715.40 L1257.39,715.40 L1260.08,715.40 L1262.77,715.40 L1265.46,715.40 L1268.15,715.40 L1270.84,715.40 L1273.53,715.40 L1276.23,715.40 L1278.92,715.40 L1281.61,715.40 L1284.30,715.40 L1286.99,715.40 L1289.68,715.40 L1292.37,715.40 L1295.06,715.40 L1297.75,715.40 L1300.45,715.40 L1303.14,715.40 L1305.83,715.40 L1308.52,715.40 L1311.21,715.40 L1313.90,715.40 L1316.59,715.40 L1319.28,715.40 L1321.97,715.40 L1324.67,715.40 L1327.36,715.40 L1330.05,715.40 L1332.74,715.40 L1335.43,715.40 L1338.12,715.40 L1340.81,715.40 L1343.50,715.40 L1346.20,715.40 L1348.89,715.40 L1351.58,715.40 L1354.27,715.40 L1356.96,715.40 L1359.65,715.40 L1362.34,715.40 L1365.03,715.40 L1367.72,715.40 L1370.42,715.40 L1373.11,715.40 L1375.80,715.40 L1378.49,715.40 L1381.18,715.40 L1383.87,715.40 L1386.56,715.40 L1389.25,715.40 L1391.94,715.40 L1394.64,715.40 L1397.33,715.40 L1400.02,715.40 L1402.71,715.40 L1405.40,715.40 L1408.09,715.40 L1410.78,715.40 L1413.47,715.40 L1416.17,715.40 L1418.86,715.40 L1421.55,715.40 L1424.24,715.40 L1426.93,715.40 L1429.62,715.40 L1432.31,715.40 L1435.00,715.40 L1437.69,715.40 L1440.39,715.40 L1443.08,715.40 L1445.77,715.40 L1448.46,715.40 L1451.15,715.40 L1453.84,715.40 L1456.53,715.40 L1459.22,715.40 L1461.91,715.40 L1464.61,715.40 L1467.30,715.40 L1469.99,715.40 L1472.68,715.40 L1475.37,715.40 L1478.06,715.40 L1480.75,715.40 L1483.44,715.40 L1486.14,715.40 L1488.83,715.40 L1491.52,715.40 L1494.21,715.40 L1496.90,715.40 L1499.59,715.40 L1502.28,715.40 L1504.97,715.40 L1507.66,715.40 L1510.36,715.40 L1513.05,715.40 L1515.74,715.40 L1518.43,715.40 L1521.12,715.40 L1523.81,715.40 L1526.50,715.40 L1529.19,715.40 L1531.88,715.40 L1534.58,715.40 L1537.27,715.40 L1539.96,715.40 L1542.65,715.40 L1545.34,715.40 L1548.03,715.40 L1550.72,715.40 L1553.41,715.40 L1556.11,715.40 L1558.80,715.40 L1561.49,715.40 L1564.18,715.40 L1566.87,715.40 L1569.56,715.40 L1572.25,715.40 L1574.94,715.40 L1577.63,715.40 L1580.33,715.40 L1583.02,715.40 L1585.71,715.40 L1588.40,715.40 L1591.09,715.40 L1593.78,715.40 L1596.47,715.40 L1599.16,715.40 L1601.85,715.40 L1604.55,715.40 L1607.24,715.40 L1609.93,715.40 L1612.62,715.40 L1615.31,715.40 L1618.00,715.40 L1620.69,715.40 L1623.38,715.40 L1626.08,715.40 L1628.77,715.40 L1631.46,715.40 L1634.15,715.40 L1636.84,715.40 L1639.53,715.40 L1642.22,715.40 L1644.91,715.40 L1647.60,715.40 L1650.30,715.40 L1652.99,715.40 L1655.68,715.40 L1658.37,715.40 L1661.06,715.40 L1663.75,715.40 L1666.44,715.40 L1669.13,715.40 L1671.82,715.40 L1674.52,715.40 L1677.21,715.40 L1679.90,715.40 L1682.59,715.40 L1685.28,715.40 L1687.97,715.40 L1690.66,715.40 L1693.35,715.40 L1696.05,715.40 L1698.74,715.40 L1701.43,715.40 L1704.12,715.40 L1706.81,715.40 L1709.50,715.40 L1712.19,715.40 L1714.88,715.40 L1717.57,715.40 L1720.27,715.40 L1722.96,715.40 L1725.65,715.40 L1728.34,715.40 L1731.03,715.40 L1733.72,715.40 L1736.41,715.40 L1739.10,715.40 L1741.79,715.40 L1744.49,715.40 L1747.18,715.40 L1749.87,715.40 L1752.56,715.40 L1755.25,715.40 L1757.94,715.40 L1760.63,715.40 L1763.32,715.40 L1766.02,715.40 L1768.71,715.40 L1771.40,715.40 L1774.09,715.40 L1776.78,715.40 L1779.47,715.40 L1782.16,715.40 L1784.85,715.40 L1787.54,715.40 L1790.24,715.40 L1792.93,715.40 L1795.62,715.40 L1798.31,715.40 L1801.00,715.40"/>
</g>
<rect x="108" y="715.9" width="1773" height="1.1" fill="#808080"/>
<rect x="107.0" y="17.6" width="2.11" height="816.35" fill="#000"/>
<rect x="107.0" y="831.85" width="1774.7" height="2.11" fill="#000"/>
<rect x="98.9" y="714.65" width="9.2" height="2.11" fill="#000"/>
<rect x="98.9" y="587.98" width="9.2" height="2.11" fill="#000"/>
<rect x="98.9" y="461.31" width="9.2" height="2.11" fill="#000"/>
<rect x="98.9" y="334.64" width="9.2" height="2.11" fill="#000"/>
<rect x="98.9" y="207.97" width="9.2" height="2.11" fill="#000"/>
<rect x="98.9" y="81.30" width="9.2" height="2.11" fill="#000"/>
<rect x="187.94" y="833" width="2.11" height="8.8" fill="#000"/>
<rect x="510.34" y="833" width="2.11" height="8.8" fill="#000"/>
<rect x="832.75" y="833" width="2.11" height="8.8" fill="#000"/>
<rect x="1155.14" y="833" width="2.11" height="8.8" fill="#000"/>
<rect x="1477.54" y="833" width="2.11" height="8.8" fill="#000"/>
<rect x="1799.94" y="833" width="2.11" height="8.8" fill="#000"/>
<rect x="116.69" y="833" width="1.58" height="4.8" fill="#000"/>
<rect x="138.27" y="833" width="1.58" height="4.8" fill="#000"/>
<rect x="156.97" y="833" width="1.58" height="4.8" fill="#000"/>
<rect x="173.46" y="833" width="1.58" height="4.8" fill="#000"/>
<rect x="285.26" y="833" width="1.58" height="4.8" fill="#000"/>
<rect x="342.03" y="833" width="1.58" height="4.8" fill="#000"/>
<rect x="382.31" y="833" width="1.58" height="4.8" fill="#000"/>
<rect x="413.56" y="833" width="1.58" height="4.8" fill="#000"/>
<rect x="439.09" y="833" width="1.58" height="4.8" fill="#000"/>
<rect x="460.67" y="833" width="1.58" height="4.8" fill="#000"/>
<rect x="479.37" y="833" width="1.58" height="4.8" fill="#000"/>
<rect x="495.86" y="833" width="1.58" height="4.8" fill="#000"/>
<rect x="607.66" y="833" width="1.58" height="4.8" fill="#000"/>
<rect x="664.43" y="833" width="1.58" height="4.8" fill="#000"/>
<rect x="704.71" y="833" width="1.58" height="4.8" fill="#000"/>
<rect x="735.96" y="833" width="1.58" height="4.8" fill="#000"/>
<rect x="761.49" y="833" width="1.58" height="4.8" fill="#000"/>
<rect x="783.07" y="833" width="1.58" height="4.8" fill="#000"/>
<rect x="801.77" y="833" width="1.58" height="4.8" fill="#000"/>
<rect x="818.26" y="833" width="1.58" height="4.8" fill="#000"/>
<rect x="930.06" y="833" width="1.58" height="4.8" fill="#000"/>
<rect x="986.83" y="833" width="1.58" height="4.8" fill="#000"/>
<rect x="1027.11" y="833" width="1.58" height="4.8" fill="#000"/>
<rect x="1058.36" y="833" width="1.58" height="4.8" fill="#000"/>
<rect x="1083.89" y="833" width="1.58" height="4.8" fill="#000"/>
<rect x="1105.47" y="833" width="1.58" height="4.8" fill="#000"/>
<rect x="1124.17" y="833" width="1.58" height="4.8" fill="#000"/>
<rect x="1140.66" y="833" width="1.58" height="4.8" fill="#000"/>
<rect x="1252.46" y="833" width="1.58" height="4.8" fill="#000"/>
<rect x="1309.23" y="833" width="1.58" height="4.8" fill="#000"/>
<rect x="1349.51" y="833" width="1.58" height="4.8" fill="#000"/>
<rect x="1380.76" y="833" width="1.58" height="4.8" fill="#000"/>
<rect x="1406.29" y="833" width="1.58" height="4.8" fill="#000"/>
<rect x="1427.87" y="833" width="1.58" height="4.8" fill="#000"/>
<rect x="1446.57" y="833" width="1.58" height="4.8" fill="#000"/>
<rect x="1463.06" y="833" width="1.58" height="4.8" fill="#000"/>
<rect x="1574.86" y="833" width="1.58" height="4.8" fill="#000"/>
<rect x="1631.63" y="833" width="1.58" height="4.8" fill="#000"/>
<rect x="1671.91" y="833" width="1.58" height="4.8" fill="#000"/>
<rect x="1703.16" y="833" width="1.58" height="4.8" fill="#000"/>
<rect x="1728.69" y="833" width="1.58" height="4.8" fill="#000"/>
<rect x="1750.27" y="833" width="1.58" height="4.8" fill="#000"/>
<rect x="1768.97" y="833" width="1.58" height="4.8" fill="#000"/>
<rect x="1785.46" y="833" width="1.58" height="4.8" fill="#000"/>
<g style="opacity:0.999">
<text x="90.2" y="725.60" font-size="28.0" text-anchor="end">0</text>
<text x="88.0" y="598.93" font-size="28.0" text-anchor="end">10</text>
<text x="88.0" y="472.26" font-size="28.0" text-anchor="end">20</text>
<text x="88.0" y="345.59" font-size="28.0" text-anchor="end">30</text>
<text x="88.0" y="218.92" font-size="28.0" text-anchor="end">40</text>
<text x="88.0" y="92.25" font-size="28.0" text-anchor="end">50</text>
<text x="159.20" y="872.9" font-size="28.0">10</text>
<text x="193.90" y="862.9" font-size="19.6" textLength="25.3" lengthAdjust="spacingAndGlyphs">−2</text>
<text x="481.60" y="872.9" font-size="28.0">10</text>
<text x="516.30" y="862.9" font-size="19.6" textLength="25.3" lengthAdjust="spacingAndGlyphs">−1</text>
<text x="811.40" y="872.9" font-size="28.0">10</text>
<text x="845.10" y="862.9" font-size="19.6" textLength="11.7" lengthAdjust="spacingAndGlyphs">0</text>
<text x="1133.80" y="872.9" font-size="28.0">10</text>
<text x="1167.50" y="862.9" font-size="19.6" textLength="11.7" lengthAdjust="spacingAndGlyphs">1</text>
<text x="1456.20" y="872.9" font-size="28.0">10</text>
<text x="1489.90" y="862.9" font-size="19.6" textLength="11.7" lengthAdjust="spacingAndGlyphs">2</text>
<text x="1778.60" y="872.9" font-size="28.0">10</text>
<text x="1812.30" y="862.9" font-size="19.6" textLength="11.7" lengthAdjust="spacingAndGlyphs">3</text>
<text x="790.3" y="910.9" font-size="28.0" textLength="408" lengthAdjust="spacingAndGlyphs">Alpha (regularisation strength)</text>
<text transform="translate(37.8,587.8) rotate(-90)" x="0" y="0" font-size="28.0" textLength="322" lengthAdjust="spacingAndGlyphs">Standardised coefficient</text>
</g>
<rect x="1551.5" y="30.5" width="320.05" height="165" rx="5" ry="5" fill="#fff" fill-opacity="0.8" stroke="#d6d6d6" stroke-width="2.4"/>
<line x1="1559.2" y1="47.30" x2="1602.9" y2="47.30" stroke="#E69F00" stroke-width="5.333" stroke-linecap="square"/>
<text style="opacity:0.999" x="1619.2" y="54.30" font-size="22.2" textLength="144.9" lengthAdjust="spacingAndGlyphs">files_changed</text>
<line x1="1559.2" y1="78.80" x2="1602.9" y2="78.80" stroke="#56B4E9" stroke-width="5.333" stroke-dasharray="19.73 8.53"/>
<text style="opacity:0.999" x="1619.2" y="85.80" font-size="22.2" textLength="111.7" lengthAdjust="spacingAndGlyphs">test_count</text>
<line x1="1559.2" y1="110.30" x2="1602.9" y2="110.30" stroke="#009E73" stroke-width="5.333" stroke-dasharray="34.13 8.53 5.33 8.53"/>
<text style="opacity:0.999" x="1619.2" y="117.30" font-size="22.2" textLength="242.1" lengthAdjust="spacingAndGlyphs">cyclomatic_complexity</text>
<line x1="1559.2" y1="141.80" x2="1602.9" y2="141.80" stroke="#CC79A7" stroke-width="5.333" stroke-dasharray="5.33 8.8"/>
<text style="opacity:0.999" x="1619.2" y="148.80" font-size="22.2" textLength="202.1" lengthAdjust="spacingAndGlyphs">dependency_depth</text>
<line x1="1559.2" y1="173.30" x2="1602.9" y2="173.30" stroke="#0072B2" stroke-width="5.333" stroke-dasharray="16 5.33 5.33 5.33"/>
<text style="opacity:0.999" x="1619.2" y="180.30" font-size="22.2" textLength="154.3" lengthAdjust="spacingAndGlyphs">cache_hit_rate</text>
</svg></body></html>
